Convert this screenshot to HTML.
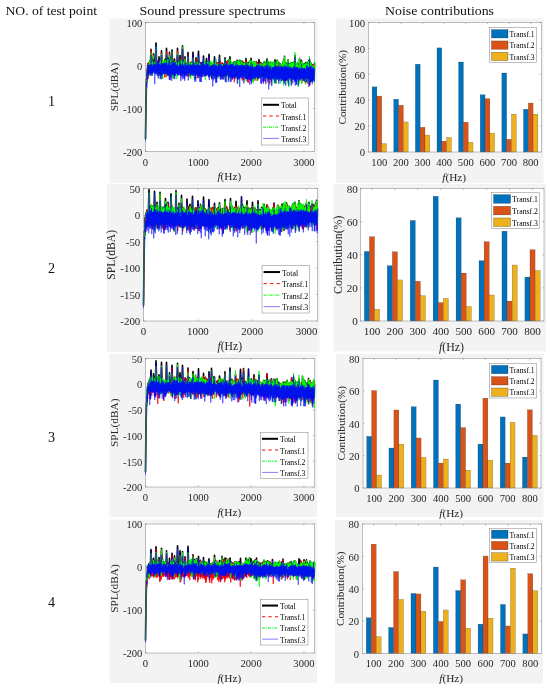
<!DOCTYPE html>
<html><head><meta charset="utf-8"><title>Figure</title>
<style>html,body{margin:0;padding:0;background:#fff}svg{display:block;will-change:transform}text{font-family:"Liberation Serif",serif}</style>
</head><body>
<svg width="550" height="692" viewBox="0 0 550 692">
<rect width="550" height="692" fill="#fff"/>
<g fill="#111" font-size="13.4">
<text x="5.5" y="14.8" textLength="91.5" lengthAdjust="spacingAndGlyphs">NO. of test point</text>
<text x="139.5" y="14.5" textLength="146" lengthAdjust="spacingAndGlyphs">Sound pressure spectrums</text>
<text x="385" y="14.5" textLength="109" lengthAdjust="spacingAndGlyphs">Noise contributions</text>
<text x="51.5" y="105.5" font-size="14.2" text-anchor="middle">1</text>
<text x="51.5" y="273.3" font-size="14.2" text-anchor="middle">2</text>
<text x="51.5" y="441.5" font-size="14.2" text-anchor="middle">3</text>
<text x="51.5" y="607" font-size="14.2" text-anchor="middle">4</text>
</g>
<g>
<rect x="109.5" y="18.5" width="208" height="164.5" fill="#f3f3f3"/>
<rect x="145.5" y="22.5" width="169" height="129" fill="#fff"/>
<rect x="145.5" y="22.5" width="169" height="129" fill="none" stroke="#808080" stroke-width="0.5"/>
<path d="M145.5 151.5v-1.7M145.5 22.5v1.7M198.31 151.5v-1.7M198.31 22.5v1.7M251.12 151.5v-1.7M251.12 22.5v1.7M303.94 151.5v-1.7M303.94 22.5v1.7M145.5 22.5h1.7M314.5 22.5h-1.7M145.5 65.5h1.7M314.5 65.5h-1.7M145.5 108.5h1.7M314.5 108.5h-1.7M145.5 151.5h1.7M314.5 151.5h-1.7" stroke="#808080" stroke-width="0.5" fill="none"/>
<g fill="none" stroke-linejoin="round">
<polyline points="145.5,139.0 145.75,118.2 146,98.7 146.25,93.8 146.5,79.4 146.75,82.1 147,70.7 147.25,75.6 147.5,67.0 147.75,72.8 148,63.5 148.25,72.7 148.5,63.0 148.75,71.9 149,63.2 149.25,71.1 149.5,62.3 149.75,71.2 150,61.0 150.25,71.6 150.5,65.1 150.75,54.1 151,49.2 151.25,56.7 151.5,65.2 151.75,70.9 152,62.7 152.25,70.8 152.5,62.3 152.75,69.1 153,62.4 153.25,58.9 153.5,53.9 153.75,57.6 154,61.7 154.25,69.5 154.5,62.8 154.75,69.4 155,63.9 155.25,69.4 155.5,64.1 155.75,47.4 156,43.1 156.25,47.5 156.5,63.7 156.75,70.2 157,62.0 157.25,70.4 157.5,63.3 157.75,70.5 158,61.3 158.25,70.5 158.5,61.3 158.75,64.6 159,56.9 159.25,62.3 159.5,62.8 159.75,71.4 160,60.8 160.25,71.7 160.5,62.1 160.75,71.7 161,60.1 161.25,57.2 161.5,50.9 161.75,56.5 162,60.0 162.25,71.9 162.5,61.9 162.75,72.0 163,61.6 163.25,71.5 163.5,63.8 163.75,70.4 164,62.5 164.25,71.4 164.5,62.3 164.75,69.8 165,59.3 165.25,70.2 165.5,62.0 165.75,71.1 166,62.3 166.25,55.6 166.5,48.3 166.75,53.1 167,63.5 167.25,72.3 167.5,62.2 167.75,72.6 168,58.5 168.25,71.4 168.5,64.4 168.75,72.6 169,63.0 169.25,59.2 169.5,52.2 169.75,56.7 170,58.2 170.25,71.5 170.5,63.4 170.75,73.7 171,59.5 171.25,73.7 171.5,63.1 171.75,56.7 172,50.0 172.25,55.2 172.5,61.1 172.75,74.0 173,63.4 173.25,73.4 173.5,62.1 173.75,74.4 174,62.0 174.25,63.7 174.5,59.0 174.75,63.1 175,63.3 175.25,72.2 175.5,62.2 175.75,70.2 176,62.2 176.25,71.2 176.5,63.0 176.75,70.8 177,63.7 177.25,56.0 177.5,48.3 177.75,55.7 178,63.7 178.25,70.3 178.5,64.0 178.75,70.3 179,63.1 179.25,70.4 179.5,62.9 179.75,60.7 180,55.6 180.25,62.0 180.5,62.3 180.75,71.5 181,59.5 181.25,70.9 181.5,59.8 181.75,71.5 182,62.5 182.25,50.0 182.5,45.7 182.75,50.8 183,61.0 183.25,70.9 183.5,62.6 183.75,71.7 184,61.5 184.25,72.4 184.5,63.4 184.75,62.7 185,56.9 185.25,61.7 185.5,65.0 185.75,72.0 186,63.8 186.25,71.8 186.5,65.1 186.75,70.9 187,65.4 187.25,71.9 187.5,63.8 187.75,58.1 188,52.6 188.25,58.1 188.5,65.0 188.75,71.0 189,65.2 189.25,72.9 189.5,64.2 189.75,70.0 190,64.7 190.25,71.7 190.5,62.9 190.75,72.1 191,63.5 191.25,71.6 191.5,63.1 191.75,70.5 192,61.8 192.25,70.9 192.5,63.4 192.75,58.2 193,52.2 193.25,58.6 193.5,63.7 193.75,71.4 194,62.7 194.25,71.1 194.5,62.8 194.75,73.4 195,65.3 195.25,73.0 195.5,63.4 195.75,61.8 196,57.8 196.25,62.4 196.5,62.9 196.75,71.7 197,62.1 197.25,71.8 197.5,62.7 197.75,72.6 198,64.0 198.25,55.4 198.5,51.3 198.75,57.5 199,63.2 199.25,71.6 199.5,62.5 199.75,74.5 200,63.5 200.25,72.3 200.5,62.9 200.75,73.0 201,63.4 201.25,71.8 201.5,63.3 201.75,71.3 202,63.0 202.25,72.1 202.5,62.4 202.75,72.9 203,63.4 203.25,63.0 203.5,56.0 203.75,61.2 204,63.1 204.25,72.3 204.5,61.7 204.75,71.7 205,62.1 205.25,73.2 205.5,62.2 205.75,74.0 206,61.9 206.25,65.4 206.5,58.6 206.75,62.8 207,62.6 207.25,73.2 207.5,63.3 207.75,72.1 208,61.3 208.25,73.1 208.5,64.1 208.75,58.9 209,54.3 209.25,58.8 209.5,63.5 209.75,74.3 210,65.9 210.25,72.8 210.5,62.6 210.75,74.5 211,65.4 211.25,72.4 211.5,63.4 211.75,73.2 212,64.2 212.25,74.7 212.5,65.1 212.75,73.7 213,63.9 213.25,73.0 213.5,62.4 213.75,72.8 214,63.3 214.25,63.0 214.5,56.9 214.75,60.9 215,63.8 215.25,75.3 215.5,59.3 215.75,72.6 216,62.3 216.25,74.1 216.5,65.0 216.75,72.3 217,65.7 217.25,73.1 217.5,64.2 217.75,73.0 218,63.1 218.25,73.0 218.5,63.9 218.75,72.7 219,64.6 219.25,59.5 219.5,55.2 219.75,59.9 220,61.5 220.25,74.0 220.5,62.3 220.75,75.3 221,63.9 221.25,74.7 221.5,63.6 221.75,73.9 222,64.8 222.25,75.5 222.5,63.2 222.75,73.9 223,64.8 223.25,73.4 223.5,65.1 223.75,73.0 224,64.5 224.25,74.6 224.5,65.3 224.75,64.2 225,57.8 225.25,64.4 225.5,65.6 225.75,74.7 226,64.4 226.25,74.0 226.5,62.3 226.75,73.8 227,63.9 227.25,74.1 227.5,60.9 227.75,71.8 228,62.3 228.25,74.0 228.5,63.0 228.75,73.4 229,59.5 229.25,73.9 229.5,62.5 229.75,62.7 230,56.9 230.25,61.0 230.5,61.8 230.75,73.1 231,64.1 231.25,75.5 231.5,63.9 231.75,74.8 232,62.9 232.25,74.6 232.5,62.8 232.75,75.5 233,63.3 233.25,75.8 233.5,63.5 233.75,74.7 234,62.0 234.25,75.5 234.5,63.6 234.75,74.9 235,61.5 235.25,74.3 235.5,63.2 235.75,74.3 236,61.7 236.25,74.1 236.5,66.1 236.75,73.6 237,60.2 237.25,76.6 237.5,63.3 237.75,75.7 238,61.9 238.25,75.4 238.5,60.6 238.75,76.4 239,62.5 239.25,73.1 239.5,63.2 239.75,74.0 240,60.4 240.25,72.8 240.5,64.0 240.75,75.1 241,62.8 241.25,73.1 241.5,61.7 241.75,74.7 242,61.1 242.25,74.4 242.5,65.3 242.75,73.3 243,62.0 243.25,75.9 243.5,65.6 243.75,73.2 244,63.0 244.25,73.2 244.5,63.7 244.75,76.0 245,63.7 245.25,74.2 245.5,64.9 245.75,65.6 246,58.6 246.25,62.2 246.5,62.9 246.75,76.1 247,63.1 247.25,75.5 247.5,62.6 247.75,75.5 248,62.8 248.25,75.7 248.5,64.2 248.75,76.9 249,64.5 249.25,76.4 249.5,61.5 249.75,76.1 250,60.7 250.25,74.7 250.5,64.1 250.75,64.5 251,58.2 251.25,63.8 251.5,67.3 251.75,74.6 252,64.7 252.25,74.2 252.5,63.6 252.75,75.5 253,63.6 253.25,76.7 253.5,61.8 253.75,75.9 254,64.2 254.25,75.0 254.5,61.5 254.75,75.5 255,62.5 255.25,78.0 255.5,62.9 255.75,75.9 256,64.0 256.25,74.7 256.5,62.1 256.75,74.8 257,64.1 257.25,74.4 257.5,64.4 257.75,74.1 258,63.1 258.25,76.5 258.5,65.9 258.75,64.7 259,59.5 259.25,65.4 259.5,64.3 259.75,75.0 260,62.3 260.25,73.5 260.5,62.8 260.75,75.0 261,62.9 261.25,76.1 261.5,66.3 261.75,74.9 262,63.8 262.25,74.8 262.5,64.9 262.75,74.4 263,65.5 263.25,74.5 263.5,64.2 263.75,75.8 264,62.0 264.25,76.4 264.5,64.6 264.75,76.0 265,62.1 265.25,75.7 265.5,64.9 265.75,76.8 266,62.9 266.25,74.8 266.5,64.0 266.75,62.6 267,59.0 267.25,65.7 267.5,61.7 267.75,75.1 268,61.7 268.25,78.1 268.5,65.8 268.75,76.7 269,66.3 269.25,76.3 269.5,62.8 269.75,76.8 270,62.3 270.25,77.5 270.5,64.7 270.75,76.1 271,65.2 271.25,76.9 271.5,64.5 271.75,77.8 272,63.0 272.25,76.7 272.5,66.0 272.75,74.9 273,65.1 273.25,75.2 273.5,63.5 273.75,74.8 274,64.2 274.25,75.7 274.5,62.7 274.75,67.0 275,59.9 275.25,63.5 275.5,64.1 275.75,75.7 276,64.4 276.25,78.3 276.5,66.0 276.75,76.1 277,60.4 277.25,76.3 277.5,60.9 277.75,76.2 278,63.9 278.25,76.1 278.5,65.1 278.75,76.3 279,62.5 279.25,76.1 279.5,65.9 279.75,76.0 280,65.6 280.25,76.3 280.5,64.0 280.75,75.6 281,67.1 281.25,76.0 281.5,68.2 281.75,76.5 282,67.4 282.25,77.3 282.5,65.2 282.75,76.1 283,62.4 283.25,77.5 283.5,60.4 283.75,77.9 284,61.7 284.25,77.2 284.5,56.3 284.75,76.7 285,62.8 285.25,78.2 285.5,63.5 285.75,76.4 286,62.7 286.25,77.9 286.5,64.7 286.75,77.1 287,65.3 287.25,76.2 287.5,62.7 287.75,64.8 288,59.8 288.25,67.2 288.5,63.9 288.75,75.3 289,63.8 289.25,76.4 289.5,64.5 289.75,76.1 290,66.4 290.25,75.5 290.5,63.0 290.75,75.8 291,65.0 291.25,80.1 291.5,64.3 291.75,76.4 292,62.8 292.25,76.4 292.5,64.6 292.75,76.3 293,64.6 293.25,76.2 293.5,62.6 293.75,75.6 294,62.1 294.25,77.2 294.5,63.2 294.75,63.3 295,55.6 295.25,62.7 295.5,64.9 295.75,75.6 296,64.1 296.25,78.7 296.5,64.7 296.75,75.5 297,63.5 297.25,75.0 297.5,63.5 297.75,76.4 298,67.5 298.25,79.3 298.5,66.4 298.75,78.0 299,64.5 299.25,79.3 299.5,58.5 299.75,76.0 300,63.2 300.25,75.7 300.5,65.0 300.75,76.9 301,60.5 301.25,64.6 301.5,60.3 301.75,64.4 302,66.2 302.25,75.6 302.5,64.5 302.75,76.9 303,65.7 303.25,77.3 303.5,66.4 303.75,78.8 304,63.9 304.25,76.8 304.5,64.2 304.75,78.0 305,67.3 305.25,77.4 305.5,62.9 305.75,76.6 306,63.8 306.25,76.3 306.5,64.5 306.75,76.6 307,62.8 307.25,76.7 307.5,65.8 307.75,77.4 308,65.8 308.25,76.5 308.5,61.1 308.75,76.7 309,63.7 309.25,63.6 309.5,59.5 309.75,62.9 310,61.6 310.25,79.5 310.5,64.6 310.75,78.1 311,63.4 311.25,77.9 311.5,66.8 311.75,79.0 312,67.2 312.25,78.3 312.5,65.6 312.75,77.9 313,64.8 313.25,77.9 313.5,66.3 313.75,77.5 314,65.7 314.25,78.5 314.5,62.7" stroke="#000" stroke-width="1.6"/>
<polyline points="145.5,139.9 145.75,119.0 146,99.6 146.25,97.1 146.5,79.1 146.75,83.1 147,69.3 147.25,78.9 147.5,66.8 147.75,73.6 148,63.3 148.25,78.7 148.5,63.5 148.75,72.8 149,62.2 149.25,73.3 149.5,63.7 149.75,72.8 150,63.5 150.25,72.4 150.5,65.1 150.75,71.8 151,50.2 151.25,75.3 151.5,63.9 151.75,73.7 152,64.1 152.25,71.7 152.5,62.6 152.75,72.6 153,62.8 153.25,71.7 153.5,54.6 153.75,70.4 154,62.5 154.25,70.4 154.5,62.5 154.75,70.4 155,62.0 155.25,70.5 155.5,63.5 155.75,72.5 156,47.0 156.25,70.3 156.5,62.9 156.75,71.0 157,61.6 157.25,71.3 157.5,62.6 157.75,71.9 158,62.3 158.25,71.4 158.5,60.9 158.75,75.5 159,60.8 159.25,73.9 159.5,62.0 159.75,72.2 160,60.4 160.25,72.5 160.5,62.3 160.75,72.5 161,63.1 161.25,72.5 161.5,52.5 161.75,72.7 162,62.2 162.25,78.7 162.5,64.1 162.75,72.8 163,63.0 163.25,73.2 163.5,64.1 163.75,71.3 164,64.3 164.25,72.3 164.5,62.0 164.75,77.6 165,61.4 165.25,71.2 165.5,63.7 165.75,72.0 166,60.4 166.25,77.2 166.5,50.9 166.75,72.3 167,63.7 167.25,74.8 167.5,63.9 167.75,75.8 168,63.1 168.25,72.2 168.5,63.2 168.75,73.5 169,63.1 169.25,73.5 169.5,53.2 169.75,74.5 170,57.8 170.25,73.5 170.5,62.3 170.75,76.3 171,62.0 171.25,77.8 171.5,63.5 171.75,75.5 172,52.3 172.25,74.7 172.5,64.2 172.75,74.9 173,63.8 173.25,77.7 173.5,62.7 173.75,78.7 174,63.1 174.25,71.9 174.5,60.7 174.75,71.2 175,63.0 175.25,73.0 175.5,64.1 175.75,74.5 176,62.0 176.25,72.0 176.5,63.9 176.75,71.6 177,62.4 177.25,71.5 177.5,50.5 177.75,72.1 178,63.7 178.25,71.2 178.5,62.5 178.75,71.2 179,64.6 179.25,71.2 179.5,62.4 179.75,71.6 180,58.2 180.25,71.9 180.5,61.3 180.75,75.0 181,62.0 181.25,71.7 181.5,58.1 181.75,73.0 182,64.4 182.25,74.9 182.5,51.1 182.75,72.1 183,64.6 183.25,72.0 183.5,63.7 183.75,73.0 184,62.8 184.25,73.3 184.5,63.6 184.75,74.3 185,58.4 185.25,75.1 185.5,64.1 185.75,72.8 186,64.9 186.25,72.9 186.5,63.7 186.75,74.9 187,64.9 187.25,74.8 187.5,62.9 187.75,72.2 188,55.1 188.25,76.3 188.5,63.2 188.75,74.3 189,63.8 189.25,76.2 189.5,65.0 189.75,70.9 190,63.6 190.25,77.6 190.5,63.3 190.75,73.0 191,63.8 191.25,72.4 191.5,62.0 191.75,71.4 192,61.0 192.25,71.7 192.5,63.8 192.75,72.8 193,57.4 193.25,73.5 193.5,65.2 193.75,72.3 194,64.6 194.25,72.0 194.5,62.0 194.75,75.7 195,65.0 195.25,75.5 195.5,63.3 195.75,79.0 196,58.5 196.25,73.3 196.5,62.9 196.75,73.6 197,63.6 197.25,72.7 197.5,61.2 197.75,73.8 198,63.5 198.25,78.2 198.5,57.2 198.75,72.7 199,63.1 199.25,72.4 199.5,63.0 199.75,75.3 200,63.1 200.25,73.3 200.5,62.7 200.75,73.8 201,63.2 201.25,76.8 201.5,63.8 201.75,72.1 202,62.5 202.25,77.1 202.5,62.5 202.75,73.7 203,62.1 203.25,73.6 203.5,60.8 203.75,74.6 204,63.1 204.25,73.1 204.5,63.1 204.75,75.2 205,62.9 205.25,74.0 205.5,62.9 205.75,74.8 206,65.1 206.25,75.8 206.5,61.2 206.75,74.6 207,63.0 207.25,74.1 207.5,65.2 207.75,73.0 208,64.8 208.25,73.9 208.5,66.1 208.75,76.3 209,57.7 209.25,75.6 209.5,65.7 209.75,76.8 210,65.1 210.25,75.6 210.5,65.4 210.75,76.1 211,64.4 211.25,73.3 211.5,64.3 211.75,79.3 212,67.2 212.25,75.6 212.5,65.3 212.75,74.6 213,65.9 213.25,74.0 213.5,64.2 213.75,73.7 214,64.4 214.25,73.4 214.5,62.4 214.75,77.6 215,63.5 215.25,76.3 215.5,64.2 215.75,74.6 216,62.3 216.25,74.9 216.5,64.1 216.75,75.8 217,64.1 217.25,74.7 217.5,62.6 217.75,73.8 218,62.7 218.25,73.9 218.5,63.4 218.75,75.8 219,64.0 219.25,74.3 219.5,59.3 219.75,74.0 220,61.4 220.25,76.6 220.5,62.2 220.75,76.2 221,63.2 221.25,75.6 221.5,63.2 221.75,74.8 222,63.4 222.25,78.9 222.5,62.7 222.75,74.8 223,63.5 223.25,74.5 223.5,65.9 223.75,77.8 224,62.9 224.25,77.1 224.5,65.4 224.75,75.4 225,63.1 225.25,74.0 225.5,65.0 225.75,76.1 226,64.5 226.25,74.8 226.5,61.8 226.75,76.0 227,63.2 227.25,75.0 227.5,60.0 227.75,72.6 228,60.9 228.25,74.9 228.5,63.0 228.75,74.3 229,63.5 229.25,78.0 229.5,61.8 229.75,76.2 230,62.8 230.25,75.4 230.5,65.5 230.75,74.0 231,66.1 231.25,76.4 231.5,63.7 231.75,76.3 232,62.0 232.25,79.7 232.5,63.9 232.75,76.4 233,64.4 233.25,77.3 233.5,63.7 233.75,76.9 234,62.3 234.25,82.2 234.5,65.5 234.75,75.7 235,65.9 235.25,75.2 235.5,62.9 235.75,76.9 236,62.9 236.25,74.9 236.5,65.2 236.75,74.5 237,62.0 237.25,77.4 237.5,63.6 237.75,76.5 238,65.1 238.25,78.6 238.5,62.0 238.75,77.3 239,65.3 239.25,74.0 239.5,64.5 239.75,78.7 240,65.4 240.25,73.7 240.5,64.4 240.75,75.9 241,64.3 241.25,74.0 241.5,64.6 241.75,75.6 242,63.2 242.25,80.5 242.5,64.7 242.75,75.9 243,61.5 243.25,80.2 243.5,65.4 243.75,75.2 244,62.4 244.25,74.1 244.5,64.3 244.75,76.8 245,63.0 245.25,76.2 245.5,63.7 245.75,75.2 246,60.5 246.25,77.5 246.5,62.3 246.75,77.3 247,63.7 247.25,82.0 247.5,62.9 247.75,76.3 248,62.9 248.25,82.8 248.5,63.7 248.75,78.5 249,64.7 249.25,77.4 249.5,62.7 249.75,79.5 250,65.3 250.25,79.8 250.5,66.4 250.75,76.2 251,62.0 251.25,77.3 251.5,66.7 251.75,75.6 252,63.3 252.25,75.0 252.5,63.8 252.75,76.3 253,63.5 253.25,77.6 253.5,63.9 253.75,81.1 254,64.7 254.25,75.9 254.5,63.0 254.75,76.3 255,63.1 255.25,80.4 255.5,63.5 255.75,78.4 256,64.0 256.25,77.6 256.5,61.9 256.75,75.7 257,64.5 257.25,76.9 257.5,63.3 257.75,80.7 258,63.2 258.25,77.4 258.5,64.6 258.75,79.1 259,64.2 259.25,76.6 259.5,64.5 259.75,75.8 260,62.1 260.25,74.4 260.5,62.7 260.75,78.0 261,63.9 261.25,76.9 261.5,64.9 261.75,75.9 262,64.1 262.25,75.6 262.5,67.2 262.75,75.3 263,67.2 263.25,75.5 263.5,66.7 263.75,82.3 264,63.5 264.25,77.2 264.5,64.8 264.75,76.9 265,63.4 265.25,76.6 265.5,64.7 265.75,81.7 266,65.8 266.25,75.6 266.5,63.4 266.75,75.8 267,63.5 267.25,76.9 267.5,63.3 267.75,75.9 268,65.8 268.25,78.9 268.5,64.7 268.75,77.6 269,65.1 269.25,78.0 269.5,65.7 269.75,84.3 270,65.7 270.25,80.1 270.5,62.8 270.75,77.0 271,64.5 271.25,77.8 271.5,64.7 271.75,78.7 272,65.9 272.25,77.9 272.5,66.4 272.75,77.4 273,68.5 273.25,76.1 273.5,65.0 273.75,75.6 274,63.1 274.25,76.5 274.5,61.5 274.75,77.4 275,65.1 275.25,78.3 275.5,62.2 275.75,76.7 276,64.0 276.25,79.1 276.5,64.1 276.75,77.0 277,65.3 277.25,77.1 277.5,62.5 277.75,77.1 278,64.3 278.25,77.0 278.5,64.0 278.75,81.3 279,66.8 279.25,76.9 279.5,64.8 279.75,76.9 280,65.9 280.25,77.2 280.5,67.7 280.75,76.5 281,67.7 281.25,77.4 281.5,68.7 281.75,77.4 282,66.7 282.25,78.6 282.5,65.3 282.75,77.0 283,63.2 283.25,78.3 283.5,63.2 283.75,78.7 284,62.4 284.25,78.1 284.5,65.1 284.75,81.4 285,61.7 285.25,81.4 285.5,63.9 285.75,77.4 286,64.8 286.25,80.8 286.5,65.1 286.75,78.9 287,64.7 287.25,77.2 287.5,64.4 287.75,77.4 288,60.3 288.25,77.5 288.5,63.7 288.75,76.1 289,64.7 289.25,77.9 289.5,64.9 289.75,77.0 290,66.6 290.25,76.4 290.5,67.4 290.75,76.9 291,64.7 291.25,80.9 291.5,67.8 291.75,78.8 292,68.8 292.25,77.3 292.5,66.4 292.75,77.5 293,64.4 293.25,77.1 293.5,66.9 293.75,76.5 294,66.0 294.25,78.1 294.5,63.5 294.75,77.6 295,56.8 295.25,76.7 295.5,64.4 295.75,76.5 296,64.1 296.25,80.7 296.5,64.5 296.75,76.3 297,66.1 297.25,77.3 297.5,65.6 297.75,77.2 298,67.2 298.25,80.2 298.5,65.6 298.75,78.8 299,67.1 299.25,80.8 299.5,67.4 299.75,77.8 300,66.3 300.25,76.5 300.5,65.7 300.75,79.3 301,66.5 301.25,76.3 301.5,63.2 301.75,83.0 302,64.8 302.25,77.2 302.5,66.1 302.75,81.4 303,64.1 303.25,79.1 303.5,67.2 303.75,79.6 304,66.3 304.25,77.7 304.5,70.0 304.75,78.9 305,66.8 305.25,83.4 305.5,65.9 305.75,77.5 306,67.9 306.25,77.2 306.5,67.6 306.75,77.4 307,66.3 307.25,78.0 307.5,64.8 307.75,83.6 308,67.2 308.25,77.4 308.5,67.0 308.75,77.6 309,69.0 309.25,79.9 309.5,58.6 309.75,85.5 310,67.1 310.25,82.8 310.5,65.9 310.75,79.0 311,67.5 311.25,78.8 311.5,67.0 311.75,81.6 312,66.5 312.25,79.7 312.5,65.9 312.75,78.7 313,64.2 313.25,78.8 313.5,64.5 313.75,79.8 314,66.1 314.25,79.4 314.5,65.5" stroke="#f00" stroke-width="0.8"/>
<polyline points="145.5,139.5 145.75,118.8 146,98.7 146.25,94.5 146.5,80.3 146.75,82.9 147,71.5 147.25,76.4 147.5,66.0 147.75,76.9 148,65.8 148.25,73.6 148.5,65.2 148.75,74.0 149,63.6 149.25,71.9 149.5,62.5 149.75,72.1 150,59.2 150.25,76.0 150.5,63.7 150.75,71.9 151,52.6 151.25,71.1 151.5,63.4 151.75,71.8 152,63.1 152.25,75.1 152.5,61.4 152.75,70.0 153,64.1 153.25,70.4 153.5,55.9 153.75,72.6 154,61.6 154.25,72.5 154.5,64.2 154.75,70.3 155,63.6 155.25,70.2 155.5,63.6 155.75,74.6 156,46.3 156.25,70.2 156.5,63.5 156.75,71.6 157,64.4 157.25,71.9 157.5,63.6 157.75,71.3 158,64.2 158.25,74.3 158.5,64.0 158.75,73.8 159,62.9 159.25,71.7 159.5,62.3 159.75,72.3 160,62.8 160.25,79.0 160.5,62.4 160.75,74.2 161,59.7 161.25,72.2 161.5,54.0 161.75,75.4 162,58.1 162.25,72.8 162.5,61.0 162.75,78.9 163,61.0 163.25,72.4 163.5,62.9 163.75,72.4 164,60.7 164.25,73.7 164.5,61.6 164.75,70.7 165,59.6 165.25,71.1 165.5,61.2 165.75,72.4 166,61.1 166.25,72.9 166.5,53.9 166.75,74.9 167,62.6 167.25,73.1 167.5,60.6 167.75,73.5 168,58.9 168.25,75.8 168.5,63.9 168.75,75.1 169,64.1 169.25,73.4 169.5,55.6 169.75,75.1 170,62.4 170.25,72.4 170.5,61.5 170.75,75.0 171,58.4 171.25,77.2 171.5,64.2 171.75,77.2 172,51.9 172.25,72.7 172.5,61.0 172.75,75.0 173,62.0 173.25,78.9 173.5,64.9 173.75,76.6 174,61.8 174.25,72.8 174.5,62.8 174.75,73.6 175,61.4 175.25,76.1 175.5,61.7 175.75,71.1 176,61.3 176.25,72.0 176.5,63.0 176.75,79.0 177,63.0 177.25,70.9 177.5,53.5 177.75,70.8 178,61.9 178.25,71.4 178.5,62.3 178.75,71.2 179,63.2 179.25,72.4 179.5,64.7 179.75,72.6 180,60.1 180.25,71.7 180.5,63.9 180.75,72.4 181,59.6 181.25,72.0 181.5,61.0 181.75,72.4 182,62.6 182.25,72.9 182.5,46.6 182.75,73.2 183,61.3 183.25,71.8 183.5,62.7 183.75,72.6 184,61.6 184.25,76.3 184.5,64.0 184.75,73.1 185,58.8 185.25,76.1 185.5,63.5 185.75,73.7 186,63.5 186.25,72.6 186.5,64.7 186.75,71.7 187,64.2 187.25,72.8 187.5,62.2 187.75,73.6 188,56.8 188.25,73.0 188.5,64.2 188.75,71.9 189,63.6 189.25,75.2 189.5,62.7 189.75,72.1 190,63.3 190.25,72.6 190.5,63.5 190.75,78.8 191,63.4 191.25,73.1 191.5,63.1 191.75,75.7 192,61.8 192.25,72.7 192.5,63.8 192.75,71.9 193,57.7 193.25,72.3 193.5,63.5 193.75,75.9 194,63.1 194.25,79.7 194.5,62.1 194.75,74.2 195,64.6 195.25,73.8 195.5,63.4 195.75,73.0 196,61.1 196.25,75.3 196.5,63.6 196.75,72.5 197,62.1 197.25,73.5 197.5,64.1 197.75,73.5 198,63.2 198.25,73.3 198.5,57.0 198.75,74.9 199,62.7 199.25,72.7 199.5,62.7 199.75,76.2 200,64.7 200.25,73.2 200.5,63.9 200.75,74.0 201,64.6 201.25,72.6 201.5,64.9 201.75,73.4 202,64.3 202.25,72.9 202.5,63.3 202.75,74.9 203,62.6 203.25,72.2 203.5,59.7 203.75,72.5 204,63.2 204.25,74.7 204.5,60.6 204.75,72.5 205,61.7 205.25,79.6 205.5,62.1 205.75,75.2 206,63.9 206.25,73.5 206.5,63.5 206.75,74.3 207,61.9 207.25,75.2 207.5,62.4 207.75,73.0 208,60.8 208.25,75.4 208.5,64.6 208.75,76.3 209,60.6 209.25,74.8 209.5,62.9 209.75,75.4 210,64.4 210.25,73.6 210.5,61.4 210.75,76.3 211,64.4 211.25,73.4 211.5,61.4 211.75,74.0 212,63.6 212.25,76.5 212.5,63.9 212.75,78.3 213,63.0 213.25,73.8 213.5,61.6 213.75,77.0 214,62.6 214.25,73.6 214.5,63.1 214.75,74.5 215,65.1 215.25,78.6 215.5,58.5 215.75,73.5 216,64.1 216.25,78.8 216.5,63.8 216.75,73.2 217,65.5 217.25,73.9 217.5,63.8 217.75,75.0 218,65.8 218.25,78.6 218.5,64.9 218.75,73.6 219,65.4 219.25,74.7 219.5,57.6 219.75,74.6 220,62.4 220.25,74.9 220.5,64.9 220.75,76.8 221,64.4 221.25,76.3 221.5,67.1 221.75,74.9 222,64.1 222.25,77.6 222.5,64.2 222.75,74.8 223,67.9 223.25,74.3 223.5,65.1 223.75,73.8 224,64.7 224.25,75.4 224.5,64.1 224.75,73.6 225,58.9 225.25,80.4 225.5,66.1 225.75,76.9 226,65.3 226.25,74.9 226.5,65.4 226.75,74.7 227,64.8 227.25,76.6 227.5,62.9 227.75,73.3 228,65.5 228.25,75.0 228.5,65.4 228.75,80.2 229,58.9 229.25,74.8 229.5,63.7 229.75,74.0 230,59.3 230.25,73.4 230.5,61.8 230.75,74.8 231,62.2 231.25,77.3 231.5,62.5 231.75,75.7 232,63.0 232.25,75.4 232.5,62.4 232.75,76.9 233,63.2 233.25,76.6 233.5,64.8 233.75,75.6 234,62.1 234.25,76.3 234.5,63.9 234.75,76.0 235,61.3 235.25,77.4 235.5,61.9 235.75,75.1 236,61.0 236.25,76.4 236.5,64.5 236.75,79.0 237,60.5 237.25,77.5 237.5,64.7 237.75,83.1 238,61.5 238.25,76.2 238.5,59.9 238.75,77.9 239,60.9 239.25,75.7 239.5,61.8 239.75,74.9 240,60.5 240.25,77.1 240.5,63.8 240.75,77.0 241,62.9 241.25,74.2 241.5,61.0 241.75,76.2 242,61.6 242.25,75.3 242.5,65.1 242.75,74.1 243,63.2 243.25,76.8 243.5,65.1 243.75,74.1 244,63.3 244.25,79.1 244.5,63.8 244.75,81.5 245,62.6 245.25,75.1 245.5,65.9 245.75,74.9 246,62.7 246.25,75.3 246.5,66.1 246.75,77.0 247,62.2 247.25,76.4 247.5,64.1 247.75,77.7 248,64.9 248.25,76.5 248.5,63.5 248.75,77.7 249,65.5 249.25,77.3 249.5,60.4 249.75,77.0 250,60.5 250.25,75.6 250.5,63.2 250.75,77.9 251,60.1 251.25,75.3 251.5,66.4 251.75,75.5 252,64.3 252.25,81.2 252.5,66.3 252.75,76.8 253,62.4 253.25,83.3 253.5,61.2 253.75,76.8 254,63.2 254.25,78.0 254.5,61.3 254.75,77.7 255,62.7 255.25,79.7 255.5,61.9 255.75,77.7 256,65.8 256.25,75.5 256.5,63.7 256.75,81.0 257,66.9 257.25,75.2 257.5,66.6 257.75,75.0 258,63.9 258.25,77.8 258.5,64.0 258.75,76.0 259,63.2 259.25,76.6 259.5,66.6 259.75,77.9 260,66.3 260.25,77.3 260.5,64.9 260.75,75.9 261,63.2 261.25,77.3 261.5,67.5 261.75,75.7 262,65.6 262.25,76.0 262.5,63.8 262.75,77.0 263,65.5 263.25,75.4 263.5,64.6 263.75,76.6 264,62.3 264.25,79.2 264.5,65.3 264.75,78.0 265,60.9 265.25,76.7 265.5,65.3 265.75,77.6 266,62.7 266.25,79.3 266.5,62.4 266.75,76.2 267,61.6 267.25,77.7 267.5,60.3 267.75,77.1 268,60.7 268.25,78.9 268.5,65.8 268.75,77.5 269,65.4 269.25,77.1 269.5,62.2 269.75,77.6 270,62.3 270.25,79.0 270.5,64.5 270.75,77.0 271,65.1 271.25,78.4 271.5,63.2 271.75,84.4 272,61.1 272.25,77.6 272.5,65.3 272.75,75.8 273,63.3 273.25,77.8 273.5,61.6 273.75,78.7 274,66.3 274.25,83.1 274.5,62.3 274.75,83.4 275,63.1 275.25,76.4 275.5,62.4 275.75,76.6 276,66.0 276.25,83.4 276.5,66.2 276.75,77.1 277,59.7 277.25,79.9 277.5,61.1 277.75,77.4 278,65.6 278.25,80.2 278.5,65.1 278.75,77.2 279,62.0 279.25,78.7 279.5,67.2 279.75,77.0 280,67.5 280.25,83.5 280.5,64.3 280.75,77.5 281,66.8 281.25,76.9 281.5,66.8 281.75,78.2 282,66.9 282.25,78.2 282.5,64.3 282.75,80.8 283,61.8 283.25,80.6 283.5,60.1 283.75,85.7 284,61.2 284.25,78.1 284.5,56.4 284.75,77.6 285,65.4 285.25,79.1 285.5,63.4 285.75,77.3 286,62.1 286.25,78.8 286.5,64.7 286.75,77.9 287,66.2 287.25,77.0 287.5,61.6 287.75,83.6 288,58.9 288.25,82.2 288.5,65.1 288.75,86.8 289,63.9 289.25,77.3 289.5,63.8 289.75,78.2 290,65.0 290.25,76.5 290.5,62.5 290.75,76.6 291,66.8 291.25,84.3 291.5,62.8 291.75,77.3 292,62.7 292.25,77.7 292.5,63.2 292.75,77.1 293,67.0 293.25,78.8 293.5,61.1 293.75,76.5 294,62.4 294.25,79.1 294.5,63.8 294.75,77.8 295,52.2 295.25,76.3 295.5,63.0 295.75,80.6 296,62.6 296.25,79.5 296.5,65.8 296.75,77.6 297,62.9 297.25,75.9 297.5,61.7 297.75,78.4 298,67.1 298.25,86.9 298.5,67.9 298.75,83.5 299,64.4 299.25,83.5 299.5,58.1 299.75,76.9 300,63.7 300.25,79.5 300.5,65.4 300.75,77.8 301,60.6 301.25,81.5 301.5,62.5 301.75,83.9 302,68.3 302.25,76.4 302.5,63.1 302.75,77.7 303,69.5 303.25,78.2 303.5,65.0 303.75,80.1 304,63.7 304.25,80.2 304.5,64.0 304.75,79.8 305,69.3 305.25,78.2 305.5,63.1 305.75,84.4 306,63.9 306.25,79.8 306.5,64.7 306.75,81.9 307,61.2 307.25,77.6 307.5,64.4 307.75,78.3 308,65.0 308.25,81.3 308.5,61.0 308.75,81.7 309,63.6 309.25,79.0 309.5,56.0 309.75,82.9 310,61.1 310.25,80.4 310.5,63.1 310.75,79.0 311,63.4 311.25,79.7 311.5,67.7 311.75,79.9 312,66.5 312.25,79.2 312.5,66.0 312.75,79.4 313,65.7 313.25,79.9 313.5,65.5 313.75,78.4 314,67.7 314.25,82.1 314.5,61.2" stroke="#0f0" stroke-width="0.8"/>
<polyline points="145.5,141.2 145.75,122.4 146,100.8 146.25,95.3 146.5,82.2 146.75,86.9 147,72.3 147.25,80.0 147.5,66.4 147.75,75.7 148,65.2 148.25,74.4 148.5,64.8 148.75,76.4 149,64.8 149.25,74.3 149.5,65.5 149.75,73.4 150,64.4 150.25,73.3 150.5,65.8 150.75,75.8 151,54.9 151.25,73.9 151.5,64.1 151.75,73.6 152,64.3 152.25,76.0 152.5,65.9 152.75,73.6 153,65.2 153.25,71.9 153.5,59.4 153.75,71.8 154,64.0 154.25,73.4 154.5,64.1 154.75,84.2 155,64.4 155.25,72.5 155.5,65.3 155.75,74.3 156,43.8 156.25,73.6 156.5,63.6 156.75,73.2 157,64.3 157.25,76.0 157.5,61.5 157.75,75.4 158,60.5 158.25,78.6 158.5,64.0 158.75,73.7 159,59.2 159.25,74.0 159.5,63.9 159.75,75.7 160,65.1 160.25,78.6 160.5,64.7 160.75,74.9 161,63.1 161.25,79.4 161.5,55.0 161.75,76.2 162,62.9 162.25,75.0 162.5,64.1 162.75,73.3 163,63.4 163.25,73.9 163.5,63.0 163.75,74.0 164,63.5 164.25,73.1 164.5,62.9 164.75,74.6 165,62.3 165.25,73.1 165.5,63.6 165.75,74.4 166,63.1 166.25,73.6 166.5,54.5 166.75,73.5 167,62.9 167.25,74.6 167.5,65.2 167.75,74.9 168,65.3 168.25,76.1 168.5,63.8 168.75,74.5 169,61.2 169.25,79.6 169.5,58.7 169.75,79.9 170,65.3 170.25,80.2 170.5,65.0 170.75,74.6 171,62.1 171.25,74.5 171.5,65.0 171.75,80.8 172,52.8 172.25,74.1 172.5,64.2 172.75,75.4 173,62.3 173.25,74.3 173.5,62.0 173.75,75.2 174,64.4 174.25,77.4 174.5,62.2 174.75,79.2 175,63.5 175.25,75.6 175.5,62.2 175.75,74.0 176,66.5 176.25,72.9 176.5,64.6 176.75,74.0 177,65.1 177.25,74.4 177.5,54.9 177.75,76.0 178,66.0 178.25,75.3 178.5,65.9 178.75,75.0 179,66.2 179.25,74.7 179.5,63.4 179.75,74.0 180,57.5 180.25,75.5 180.5,63.7 180.75,81.0 181,64.8 181.25,76.5 181.5,64.7 181.75,74.7 182,64.4 182.25,79.3 182.5,48.9 182.75,76.8 183,65.4 183.25,74.1 183.5,65.4 183.75,78.5 184,64.2 184.25,79.1 184.5,67.2 184.75,80.8 185,62.5 185.25,75.6 185.5,63.4 185.75,74.5 186,64.6 186.25,76.8 186.5,65.6 186.75,73.4 187,66.1 187.25,76.2 187.5,64.4 187.75,73.4 188,55.9 188.25,80.4 188.5,66.0 188.75,73.5 189,64.3 189.25,73.7 189.5,65.3 189.75,72.5 190,64.6 190.25,75.8 190.5,65.1 190.75,74.6 191,64.3 191.25,75.0 191.5,65.2 191.75,73.2 192,65.8 192.25,75.7 192.5,64.1 192.75,75.3 193,53.5 193.25,75.7 193.5,64.8 193.75,74.2 194,62.6 194.25,73.9 194.5,64.9 194.75,81.5 195,65.4 195.25,74.7 195.5,65.1 195.75,81.6 196,59.8 196.25,74.7 196.5,65.6 196.75,74.2 197,65.3 197.25,75.9 197.5,65.0 197.75,78.0 198,63.8 198.25,75.0 198.5,53.5 198.75,77.7 199,65.2 199.25,75.9 199.5,66.0 199.75,81.9 200,65.0 200.25,75.8 200.5,65.9 200.75,82.1 201,62.6 201.25,81.8 201.5,63.4 201.75,74.2 202,62.5 202.25,76.7 202.5,61.6 202.75,74.1 203,64.1 203.25,74.2 203.5,57.0 203.75,76.8 204,65.5 204.25,74.9 204.5,63.9 204.75,76.7 205,66.7 205.25,76.0 205.5,65.3 205.75,76.1 206,61.9 206.25,75.5 206.5,59.8 206.75,75.1 207,63.6 207.25,75.1 207.5,63.8 207.75,74.6 208,64.4 208.25,76.2 208.5,66.5 208.75,77.6 209,55.2 209.25,80.1 209.5,66.9 209.75,75.1 210,66.7 210.25,75.7 210.5,66.6 210.75,75.3 211,65.1 211.25,78.3 211.5,65.2 211.75,78.7 212,65.1 212.25,75.5 212.5,64.8 212.75,86.5 213,65.9 213.25,75.5 213.5,64.0 213.75,80.4 214,65.1 214.25,75.7 214.5,57.6 214.75,78.8 215,66.2 215.25,76.1 215.5,64.7 215.75,82.8 216,65.1 216.25,82.6 216.5,65.2 216.75,82.6 217,67.1 217.25,77.7 217.5,67.1 217.75,76.9 218,64.3 218.25,75.4 218.5,64.6 218.75,76.0 219,65.8 219.25,76.5 219.5,57.7 219.75,75.9 220,66.6 220.25,79.6 220.5,63.5 220.75,78.7 221,64.2 221.25,79.8 221.5,66.1 221.75,77.6 222,66.3 222.25,76.3 222.5,65.7 222.75,79.4 223,66.9 223.25,75.9 223.5,64.5 223.75,79.8 224,64.8 224.25,76.4 224.5,65.0 224.75,75.6 225,59.6 225.25,81.8 225.5,65.1 225.75,75.5 226,64.1 226.25,82.5 226.5,65.3 226.75,76.0 227,62.6 227.25,75.0 227.5,65.5 227.75,74.1 228,64.4 228.25,81.8 228.5,65.5 228.75,78.4 229,66.0 229.25,76.6 229.5,64.9 229.75,75.2 230,61.8 230.25,82.2 230.5,64.5 230.75,78.0 231,64.0 231.25,81.5 231.5,64.0 231.75,78.0 232,65.1 232.25,78.6 232.5,63.8 232.75,78.8 233,66.2 233.25,76.9 233.5,63.7 233.75,77.6 234,66.0 234.25,77.8 234.5,66.2 234.75,77.3 235,65.3 235.25,79.2 235.5,65.8 235.75,77.2 236,62.1 236.25,76.6 236.5,65.9 236.75,76.7 237,65.2 237.25,83.9 237.5,64.4 237.75,79.5 238,66.2 238.25,79.8 238.5,65.1 238.75,78.5 239,67.1 239.25,78.1 239.5,65.1 239.75,87.0 240,65.5 240.25,77.1 240.5,65.0 240.75,76.7 241,65.4 241.25,78.4 241.5,63.7 241.75,78.0 242,67.0 242.25,77.5 242.5,65.1 242.75,75.9 243,65.3 243.25,77.0 243.5,65.0 243.75,83.5 244,65.1 244.25,76.1 244.5,65.1 244.75,77.5 245,67.5 245.25,79.1 245.5,65.9 245.75,78.9 246,62.3 246.25,79.2 246.5,64.8 246.75,79.1 247,65.7 247.25,80.5 247.5,64.4 247.75,79.0 248,64.9 248.25,77.7 248.5,65.8 248.75,79.8 249,65.2 249.25,78.2 249.5,67.2 249.75,84.7 250,66.6 250.25,78.9 250.5,66.5 250.75,81.0 251,63.2 251.25,84.1 251.5,66.2 251.75,82.4 252,67.0 252.25,78.9 252.5,64.0 252.75,79.1 253,68.0 253.25,78.2 253.5,67.5 253.75,79.3 254,67.1 254.25,77.5 254.5,66.8 254.75,78.0 255,66.7 255.25,78.8 255.5,67.2 255.75,76.7 256,66.7 256.25,77.2 256.5,65.4 256.75,76.8 257,64.6 257.25,78.0 257.5,65.3 257.75,79.0 258,67.8 258.25,78.9 258.5,65.7 258.75,78.1 259,62.7 259.25,76.2 259.5,67.5 259.75,77.6 260,65.8 260.25,77.7 260.5,66.5 260.75,83.0 261,67.7 261.25,84.1 261.5,65.9 261.75,76.2 262,65.7 262.25,81.8 262.5,65.4 262.75,76.5 263,67.6 263.25,83.8 263.5,66.8 263.75,80.6 264,66.8 264.25,80.9 264.5,68.4 264.75,77.6 265,65.6 265.25,77.7 265.5,65.8 265.75,84.2 266,67.7 266.25,77.4 266.5,65.6 266.75,77.7 267,61.4 267.25,78.2 267.5,65.2 267.75,82.4 268,68.5 268.25,80.3 268.5,66.4 268.75,89.4 269,65.1 269.25,79.1 269.5,67.6 269.75,78.5 270,67.6 270.25,78.4 270.5,66.0 270.75,79.2 271,69.0 271.25,82.0 271.5,70.1 271.75,86.1 272,66.8 272.25,78.2 272.5,67.5 272.75,79.0 273,67.0 273.25,80.2 273.5,67.1 273.75,77.7 274,67.4 274.25,78.1 274.5,65.9 274.75,82.5 275,62.2 275.25,78.3 275.5,65.8 275.75,83.5 276,66.6 276.25,80.1 276.5,66.5 276.75,78.3 277,66.4 277.25,79.3 277.5,66.0 277.75,79.0 278,66.3 278.25,79.2 278.5,65.3 278.75,83.7 279,67.8 279.25,80.4 279.5,67.6 279.75,78.4 280,65.7 280.25,78.1 280.5,67.3 280.75,79.4 281,66.6 281.25,81.5 281.5,67.0 281.75,80.9 282,66.7 282.25,79.8 282.5,67.4 282.75,79.4 283,66.3 283.25,80.3 283.5,67.4 283.75,81.8 284,66.4 284.25,83.8 284.5,67.5 284.75,80.2 285,64.7 285.25,79.7 285.5,66.4 285.75,85.6 286,66.3 286.25,80.3 286.5,66.6 286.75,79.7 287,67.6 287.25,80.7 287.5,66.9 287.75,79.5 288,62.6 288.25,78.0 288.5,68.9 288.75,85.5 289,66.6 289.25,78.1 289.5,66.7 289.75,79.4 290,67.2 290.25,77.9 290.5,67.7 290.75,78.3 291,68.6 291.25,85.8 291.5,68.4 291.75,81.8 292,67.2 292.25,79.1 292.5,68.3 292.75,83.7 293,69.2 293.25,79.4 293.5,66.7 293.75,79.9 294,67.0 294.25,80.4 294.5,66.3 294.75,82.0 295,57.0 295.25,85.7 295.5,67.6 295.75,82.0 296,67.2 296.25,83.9 296.5,67.1 296.75,85.0 297,67.5 297.25,78.9 297.5,67.3 297.75,77.8 298,67.7 298.25,85.5 298.5,69.1 298.75,81.3 299,68.1 299.25,80.1 299.5,69.3 299.75,78.8 300,67.5 300.25,78.1 300.5,68.9 300.75,80.4 301,68.5 301.25,78.9 301.5,63.9 301.75,78.5 302,69.9 302.25,79.2 302.5,68.4 302.75,78.7 303,68.0 303.25,80.9 303.5,68.4 303.75,80.2 304,68.5 304.25,80.8 304.5,68.4 304.75,81.8 305,67.9 305.25,78.3 305.5,69.3 305.75,78.8 306,69.6 306.25,82.5 306.5,65.0 306.75,82.0 307,68.4 307.25,78.5 307.5,65.9 307.75,79.0 308,67.8 308.25,79.2 308.5,67.1 308.75,86.9 309,67.8 309.25,80.2 309.5,58.7 309.75,85.3 310,66.8 310.25,82.5 310.5,66.7 310.75,81.5 311,66.0 311.25,81.7 311.5,68.9 311.75,81.2 312,67.5 312.25,84.2 312.5,68.8 312.75,82.0 313,67.0 313.25,80.6 313.5,67.6 313.75,80.2 314,68.2 314.25,81.6 314.5,69.0" stroke="#00f" stroke-width="0.52"/>
</g>
<text x="142.3" y="26.75" font-size="10.6" text-anchor="end" fill="#262626">100</text>
<text x="142.3" y="69.75" font-size="10.6" text-anchor="end" fill="#262626">0</text>
<text x="142.3" y="112.75" font-size="10.6" text-anchor="end" fill="#262626">-100</text>
<text x="142.3" y="155.75" font-size="10.6" text-anchor="end" fill="#262626">-200</text>
<text x="145.5" y="165.5" font-size="10.6" text-anchor="middle" fill="#262626">0</text>
<text x="198.31" y="165.5" font-size="10.6" text-anchor="middle" fill="#262626">1000</text>
<text x="251.12" y="165.5" font-size="10.6" text-anchor="middle" fill="#262626">2000</text>
<text x="303.94" y="165.5" font-size="10.6" text-anchor="middle" fill="#262626">3000</text>
<text x="229.3" y="180" font-size="11.3" text-anchor="middle" fill="#262626"><tspan font-style="italic">f</tspan>(Hz)</text>
<text x="118" y="87" font-size="11.3" text-anchor="middle" fill="#262626" transform="rotate(-90 118 87)">SPL(dBA)</text>
<rect x="261.5" y="98.0" width="47" height="47" fill="#fff" stroke="#808080" stroke-width="0.5"/>
<path d="M263 104.8H279" stroke="#000" stroke-width="2"/>
<path d="M263 116H279" stroke="#f00" stroke-width="1" stroke-dasharray="3.2 3.3"/>
<path d="M263 127.2H279" stroke="#0f0" stroke-width="1" stroke-dasharray="3 1 1 1"/>
<path d="M263 138.4H279" stroke="#00f" stroke-width="0.5"/>
<text x="281" y="108.3" font-size="7.65" text-anchor="start" fill="#000">Total</text>
<text x="281" y="119.5" font-size="7.65" text-anchor="start" fill="#000">Transf.1</text>
<text x="281" y="130.7" font-size="7.65" text-anchor="start" fill="#000">Transf.2</text>
<text x="281" y="141.9" font-size="7.65" text-anchor="start" fill="#000">Transf.3</text>
</g>
<g>
<rect x="107.0" y="184.0" width="212.5" height="168" fill="#f3f3f3"/>
<rect x="143.5" y="188.5" width="174" height="132.5" fill="#fff"/>
<rect x="143.5" y="188.5" width="174" height="132.5" fill="none" stroke="#808080" stroke-width="0.5"/>
<path d="M143.5 321.0v-1.7M143.5 188.5v1.7M197.88 321.0v-1.7M197.88 188.5v1.7M252.25 321.0v-1.7M252.25 188.5v1.7M306.62 321.0v-1.7M306.62 188.5v1.7M143.5 188.5h1.7M317.5 188.5h-1.7M143.5 215h1.7M317.5 215h-1.7M143.5 241.5h1.7M317.5 241.5h-1.7M143.5 268h1.7M317.5 268h-1.7M143.5 294.5h1.7M317.5 294.5h-1.7M143.5 321h1.7M317.5 321h-1.7" stroke="#808080" stroke-width="0.5" fill="none"/>
<g fill="none" stroke-linejoin="round">
<polyline points="143.5,305.6 143.75,280.9 144,257.3 144.25,250.2 144.5,231.1 144.75,235.1 145,217.8 145.25,227.8 145.5,215.6 145.75,224.2 146,213.0 146.25,222.9 146.5,215.0 146.75,224.6 147,210.5 147.25,222.9 147.5,213.0 147.75,224.2 148,210.8 148.25,222.1 148.5,207.2 148.75,196.4 149,189.6 149.25,193.9 149.5,207.4 149.75,220.4 150,207.3 150.25,220.3 150.5,208.5 150.75,220.7 151,208.2 151.25,219.9 151.5,205.4 151.75,221.0 152,206.8 152.25,221.1 152.5,211.1 152.75,223.4 153,206.5 153.25,223.2 153.5,205.8 153.75,223.3 154,210.3 154.25,199.9 154.5,191.2 154.75,196.1 155,209.6 155.25,221.9 155.5,209.5 155.75,223.4 156,206.4 156.25,222.2 156.5,210.1 156.75,208.9 157,202.3 157.25,206.8 157.5,209.2 157.75,223.5 158,209.6 158.25,221.7 158.5,207.5 158.75,220.9 159,210.4 159.25,223.4 159.5,209.2 159.75,201.4 160,192.2 160.25,199.4 160.5,210.3 160.75,220.8 161,211.7 161.25,221.0 161.5,208.3 161.75,221.4 162,207.6 162.25,220.7 162.5,210.6 162.75,219.4 163,210.6 163.25,221.9 163.5,207.4 163.75,224.8 164,210.2 164.25,222.0 164.5,209.9 164.75,222.1 165,206.8 165.25,203.0 165.5,198.6 165.75,205.0 166,207.8 166.25,221.5 166.5,206.8 166.75,220.7 167,208.6 167.25,221.2 167.5,204.6 167.75,207.7 168,202.3 168.25,208.7 168.5,210.0 168.75,222.4 169,211.5 169.25,222.3 169.5,208.1 169.75,224.1 170,209.8 170.25,221.7 170.5,208.4 170.75,199.0 171,193.8 171.25,202.4 171.5,208.0 171.75,221.7 172,207.6 172.25,222.0 172.5,207.9 172.75,221.7 173,209.1 173.25,223.4 173.5,211.1 173.75,223.8 174,208.5 174.25,229.3 174.5,208.7 174.75,222.9 175,209.7 175.25,223.3 175.5,209.3 175.75,200.0 176,190.6 176.25,197.6 176.5,210.0 176.75,223.2 177,209.2 177.25,222.2 177.5,210.7 177.75,221.8 178,208.4 178.25,220.8 178.5,211.4 178.75,211.5 179,203.3 179.25,208.4 179.5,208.1 179.75,221.6 180,211.0 180.25,221.0 180.5,212.1 180.75,220.9 181,209.9 181.25,203.6 181.5,195.4 181.75,204.4 182,209.9 182.25,222.4 182.5,207.5 182.75,223.1 183,212.0 183.25,222.5 183.5,208.3 183.75,222.6 184,208.6 184.25,221.7 184.5,209.9 184.75,222.3 185,210.7 185.25,222.0 185.5,211.0 185.75,223.3 186,212.9 186.25,224.6 186.5,214.0 186.75,208.4 187,199.1 187.25,205.7 187.5,208.2 187.75,224.3 188,212.6 188.25,221.4 188.5,210.9 188.75,221.6 189,206.4 189.25,223.2 189.5,209.2 189.75,211.9 190,204.4 190.25,213.1 190.5,208.4 190.75,222.8 191,212.5 191.25,222.9 191.5,211.6 191.75,222.9 192,208.3 192.25,202.0 192.5,196.4 192.75,204.1 193,209.3 193.25,224.4 193.5,211.1 193.75,222.7 194,208.9 194.25,221.9 194.5,210.1 194.75,222.9 195,213.5 195.25,221.5 195.5,208.0 195.75,223.2 196,208.3 196.25,221.9 196.5,209.0 196.75,222.1 197,208.7 197.25,221.3 197.5,210.0 197.75,206.7 198,200.7 198.25,206.9 198.5,209.0 198.75,222.0 199,210.0 199.25,222.0 199.5,213.6 199.75,225.3 200,207.7 200.25,211.8 200.5,204.4 200.75,212.7 201,206.1 201.25,222.4 201.5,211.6 201.75,223.6 202,210.1 202.25,221.8 202.5,210.7 202.75,223.0 203,208.7 203.25,205.9 203.5,197.0 203.75,201.4 204,210.2 204.25,221.3 204.5,211.0 204.75,222.2 205,208.7 205.25,221.6 205.5,209.6 205.75,225.2 206,212.1 206.25,222.2 206.5,212.8 206.75,224.5 207,210.4 207.25,225.2 207.5,211.3 207.75,222.2 208,210.5 208.25,223.5 208.5,212.3 208.75,204.2 209,199.6 209.25,208.4 209.5,211.5 209.75,227.6 210,209.9 210.25,225.8 210.5,208.8 210.75,226.0 211,208.1 211.25,223.2 211.5,208.4 211.75,223.4 212,211.6 212.25,223.9 212.5,211.3 212.75,227.2 213,207.7 213.25,222.8 213.5,211.4 213.75,221.3 214,207.2 214.25,208.7 214.5,203.3 214.75,209.3 215,210.9 215.25,224.2 215.5,208.2 215.75,223.1 216,209.0 216.25,222.5 216.5,210.7 216.75,221.1 217,210.7 217.25,221.0 217.5,213.6 217.75,223.1 218,207.8 218.25,221.6 218.5,211.2 218.75,221.6 219,212.3 219.25,207.8 219.5,202.8 219.75,207.7 220,212.2 220.25,222.6 220.5,210.9 220.75,223.8 221,212.7 221.25,224.0 221.5,209.3 221.75,224.0 222,212.6 222.25,223.3 222.5,210.1 222.75,223.2 223,208.5 223.25,224.8 223.5,209.6 223.75,223.4 224,209.5 224.25,222.9 224.5,208.8 224.75,205.4 225,199.6 225.25,204.0 225.5,208.3 225.75,223.4 226,209.2 226.25,222.0 226.5,206.7 226.75,221.2 227,207.9 227.25,222.4 227.5,212.6 227.75,221.2 228,213.7 228.25,220.7 228.5,213.5 228.75,222.4 229,209.8 229.25,221.2 229.5,211.2 229.75,221.7 230,211.0 230.25,204.4 230.5,198.6 230.75,208.0 231,211.4 231.25,223.0 231.5,207.4 231.75,222.8 232,206.1 232.25,223.8 232.5,208.5 232.75,223.9 233,208.8 233.25,226.9 233.5,211.1 233.75,224.3 234,208.5 234.25,224.2 234.5,208.8 234.75,227.8 235,207.2 235.25,223.8 235.5,212.6 235.75,206.9 236,201.2 236.25,205.7 236.5,211.7 236.75,224.0 237,212.1 237.25,225.4 237.5,211.7 237.75,222.7 238,209.5 238.25,223.2 238.5,206.8 238.75,224.8 239,213.9 239.25,223.3 239.5,212.4 239.75,223.5 240,211.5 240.25,223.7 240.5,208.6 240.75,222.1 241,209.8 241.25,205.7 241.5,196.7 241.75,204.5 242,209.8 242.25,222.2 242.5,204.8 242.75,224.4 243,207.7 243.25,222.7 243.5,211.3 243.75,221.6 244,207.4 244.25,221.9 244.5,212.2 244.75,222.2 245,211.1 245.25,222.3 245.5,209.7 245.75,222.9 246,207.2 246.25,222.1 246.5,210.8 246.75,205.4 247,200.7 247.25,208.5 247.5,207.0 247.75,225.2 248,209.6 248.25,223.7 248.5,212.6 248.75,223.0 249,208.4 249.25,223.2 249.5,212.1 249.75,223.3 250,209.5 250.25,224.2 250.5,213.7 250.75,223.7 251,208.2 251.25,223.0 251.5,209.2 251.75,226.1 252,209.1 252.25,206.9 252.5,202.3 252.75,207.3 253,208.6 253.25,224.1 253.5,209.4 253.75,224.2 254,209.7 254.25,224.8 254.5,210.2 254.75,224.2 255,208.3 255.25,224.5 255.5,211.4 255.75,225.3 256,209.7 256.25,225.2 256.5,213.2 256.75,224.1 257,210.6 257.25,223.9 257.5,212.3 257.75,209.0 258,200.7 258.25,206.3 258.5,213.3 258.75,223.3 259,211.0 259.25,224.5 259.5,211.5 259.75,223.6 260,209.7 260.25,222.0 260.5,215.6 260.75,224.8 261,212.1 261.25,223.7 261.5,207.5 261.75,222.7 262,211.5 262.25,222.8 262.5,207.0 262.75,212.1 263,207.2 263.25,216.8 263.5,211.7 263.75,223.7 264,204.2 264.25,223.7 264.5,207.0 264.75,224.5 265,211.2 265.25,224.0 265.5,207.7 265.75,224.0 266,210.7 266.25,225.9 266.5,210.4 266.75,226.1 267,205.1 267.25,225.0 267.5,208.4 267.75,225.2 268,211.9 268.25,224.8 268.5,207.4 268.75,224.1 269,210.9 269.25,224.8 269.5,210.1 269.75,223.8 270,212.5 270.25,224.2 270.5,211.4 270.75,223.3 271,212.3 271.25,222.2 271.5,211.2 271.75,225.5 272,213.1 272.25,222.5 272.5,212.1 272.75,225.1 273,207.7 273.25,226.0 273.5,215.4 273.75,209.4 274,203.1 274.25,210.1 274.5,211.3 274.75,222.2 275,210.8 275.25,224.1 275.5,209.8 275.75,224.8 276,213.2 276.25,224.7 276.5,210.8 276.75,223.7 277,212.7 277.25,224.3 277.5,205.8 277.75,224.0 278,205.3 278.25,226.2 278.5,211.6 278.75,225.4 279,207.2 279.25,224.3 279.5,209.9 279.75,223.2 280,211.2 280.25,226.0 280.5,209.5 280.75,225.8 281,209.7 281.25,226.6 281.5,205.6 281.75,223.4 282,204.1 282.25,224.2 282.5,211.2 282.75,222.4 283,209.4 283.25,223.1 283.5,204.2 283.75,227.2 284,209.4 284.25,224.5 284.5,204.7 284.75,213.5 285,205.5 285.25,210.1 285.5,210.9 285.75,225.1 286,209.3 286.25,225.5 286.5,202.9 286.75,223.7 287,207.2 287.25,226.2 287.5,205.2 287.75,222.2 288,207.7 288.25,223.1 288.5,207.0 288.75,222.6 289,209.1 289.25,221.0 289.5,207.3 289.75,220.7 290,211.4 290.25,220.0 290.5,210.0 290.75,221.3 291,212.2 291.25,225.1 291.5,207.1 291.75,220.8 292,208.8 292.25,223.4 292.5,204.5 292.75,222.0 293,209.2 293.25,221.3 293.5,203.2 293.75,223.6 294,204.1 294.25,221.8 294.5,207.0 294.75,222.9 295,202.3 295.25,223.7 295.5,207.5 295.75,220.6 296,209.5 296.25,223.1 296.5,210.3 296.75,220.4 297,207.5 297.25,220.8 297.5,205.8 297.75,221.0 298,204.4 298.25,220.7 298.5,205.2 298.75,221.1 299,200.8 299.25,220.3 299.5,210.1 299.75,222.5 300,205.2 300.25,220.7 300.5,203.7 300.75,221.4 301,204.7 301.25,219.9 301.5,205.8 301.75,219.6 302,207.3 302.25,220.8 302.5,208.1 302.75,220.6 303,206.2 303.25,222.0 303.5,205.4 303.75,221.8 304,206.2 304.25,222.1 304.5,209.8 304.75,222.3 305,208.1 305.25,220.7 305.5,206.9 305.75,223.2 306,203.8 306.25,211.9 306.5,203.3 306.75,209.5 307,207.6 307.25,221.2 307.5,206.8 307.75,219.8 308,208.9 308.25,220.7 308.5,207.7 308.75,221.6 309,202.4 309.25,218.9 309.5,205.1 309.75,219.9 310,209.2 310.25,220.7 310.5,208.9 310.75,218.3 311,206.6 311.25,220.7 311.5,209.1 311.75,210.0 312,204.4 312.25,209.2 312.5,208.1 312.75,221.2 313,204.4 313.25,221.5 313.5,210.6 313.75,218.8 314,205.9 314.25,220.9 314.5,211.1 314.75,219.8 315,206.5 315.25,219.6 315.5,203.4 315.75,221.9 316,210.4 316.25,219.4 316.5,200.4 316.75,221.5 317,207.1 317.25,221.6 317.5,208.4" stroke="#000" stroke-width="1.6"/>
<polyline points="143.5,306.7 143.75,282.0 144,257.6 144.25,252.3 144.5,233.3 144.75,236.2 145,217.3 145.25,228.9 145.5,215.4 145.75,231.8 146,212.4 146.25,223.9 146.5,213.0 146.75,225.6 147,209.0 147.25,225.5 147.5,210.8 147.75,225.3 148,210.7 148.25,223.2 148.5,211.8 148.75,223.1 149,194.3 149.25,223.1 149.5,208.4 149.75,223.1 150,209.4 150.25,221.3 150.5,212.7 150.75,225.7 151,207.8 151.25,220.9 151.5,208.5 151.75,226.1 152,209.3 152.25,223.1 152.5,210.8 152.75,229.6 153,208.5 153.25,224.2 153.5,208.5 153.75,224.3 154,209.5 154.25,224.3 154.5,194.9 154.75,229.2 155,210.8 155.25,222.9 155.5,210.3 155.75,224.4 156,206.9 156.25,223.3 156.5,210.7 156.75,227.6 157,206.9 157.25,226.4 157.5,208.3 157.75,228.5 158,209.6 158.25,222.8 158.5,214.2 158.75,221.9 159,212.9 159.25,224.4 159.5,214.2 159.75,227.2 160,195.6 160.25,221.9 160.5,212.1 160.75,225.0 161,213.2 161.25,222.1 161.5,212.9 161.75,225.3 162,209.6 162.25,224.0 162.5,209.9 162.75,228.8 163,208.9 163.25,224.4 163.5,213.3 163.75,230.4 164,211.7 164.25,224.1 164.5,210.3 164.75,229.6 165,211.0 165.25,228.5 165.5,203.4 165.75,221.8 166,211.9 166.25,222.6 166.5,210.6 166.75,221.9 167,213.2 167.25,222.2 167.5,212.5 167.75,222.6 168,204.5 168.25,223.6 168.5,208.6 168.75,224.7 169,210.2 169.25,226.3 169.5,210.5 169.75,226.4 170,209.4 170.25,223.3 170.5,209.2 170.75,225.6 171,199.6 171.25,222.5 171.5,207.0 171.75,223.3 172,211.3 172.25,223.4 172.5,205.6 172.75,222.8 173,209.4 173.25,225.5 173.5,210.2 173.75,225.4 174,209.4 174.25,231.7 174.5,211.0 174.75,224.5 175,210.1 175.25,224.4 175.5,209.5 175.75,224.1 176,196.3 176.25,226.5 176.5,209.2 176.75,224.3 177,211.4 177.25,226.1 177.5,208.6 177.75,231.0 178,207.4 178.25,222.4 178.5,210.5 178.75,227.1 179,210.7 179.25,225.1 179.5,212.8 179.75,224.9 180,209.9 180.25,222.1 180.5,211.7 180.75,222.0 181,209.1 181.25,222.0 181.5,201.7 181.75,222.9 182,209.3 182.25,227.5 182.5,211.4 182.75,231.3 183,210.1 183.25,223.6 183.5,207.3 183.75,223.6 184,210.5 184.25,227.8 184.5,211.5 184.75,223.4 185,209.3 185.25,223.7 185.5,210.2 185.75,225.3 186,211.8 186.25,227.4 186.5,214.2 186.75,223.1 187,204.5 187.25,222.4 187.5,207.9 187.75,229.1 188,210.7 188.25,230.9 188.5,211.8 188.75,222.7 189,206.3 189.25,224.3 189.5,209.8 189.75,223.0 190,211.4 190.25,223.4 190.5,208.8 190.75,223.9 191,213.1 191.25,224.0 191.5,209.6 191.75,226.7 192,210.5 192.25,226.0 192.5,199.6 192.75,226.4 193,212.8 193.25,225.5 193.5,213.2 193.75,224.0 194,210.7 194.25,226.7 194.5,209.7 194.75,229.2 195,211.2 195.25,226.0 195.5,207.7 195.75,228.8 196,207.1 196.25,222.9 196.5,208.7 196.75,223.1 197,207.4 197.25,222.4 197.5,210.3 197.75,225.6 198,205.7 198.25,223.8 198.5,209.1 198.75,231.1 199,208.1 199.25,224.0 199.5,212.5 199.75,228.7 200,208.0 200.25,228.9 200.5,206.0 200.75,226.2 201,209.4 201.25,228.9 201.5,212.4 201.75,224.6 202,211.7 202.25,222.8 202.5,208.3 202.75,224.1 203,211.6 203.25,223.2 203.5,202.3 203.75,223.7 204,209.7 204.25,222.4 204.5,211.2 204.75,225.3 205,210.8 205.25,227.4 205.5,209.5 205.75,226.2 206,209.9 206.25,226.9 206.5,212.7 206.75,226.0 207,212.1 207.25,226.4 207.5,210.2 207.75,223.3 208,209.3 208.25,224.8 208.5,211.9 208.75,224.5 209,207.9 209.25,224.6 209.5,211.9 209.75,229.1 210,208.6 210.25,226.9 210.5,208.5 210.75,227.9 211,208.7 211.25,224.2 211.5,207.9 211.75,227.7 212,212.3 212.25,227.4 212.5,213.3 212.75,228.2 213,206.6 213.25,224.0 213.5,211.7 213.75,222.3 214,206.9 214.25,222.1 214.5,206.7 214.75,222.3 215,209.1 215.25,225.3 215.5,210.9 215.75,224.8 216,208.0 216.25,224.2 216.5,209.0 216.75,223.2 217,211.2 217.25,222.1 217.5,211.3 217.75,225.1 218,212.5 218.25,223.1 218.5,212.8 218.75,223.9 219,211.3 219.25,222.8 219.5,205.8 219.75,229.0 220,214.1 220.25,225.7 220.5,210.8 220.75,225.2 221,213.7 221.25,229.6 221.5,212.8 221.75,227.9 222,211.5 222.25,224.4 222.5,212.1 222.75,224.2 223,209.6 223.25,232.8 223.5,208.7 223.75,224.4 224,208.8 224.25,223.9 224.5,208.6 224.75,224.3 225,203.2 225.25,225.2 225.5,208.7 225.75,225.1 226,210.6 226.25,224.6 226.5,206.6 226.75,225.7 227,207.6 227.25,223.4 227.5,212.3 227.75,222.2 228,212.4 228.25,223.5 228.5,211.5 228.75,223.5 229,209.1 229.25,222.2 229.5,214.3 229.75,230.2 230,210.6 230.25,226.0 230.5,205.1 230.75,224.4 231,211.0 231.25,224.1 231.5,209.4 231.75,223.9 232,209.3 232.25,224.9 232.5,209.4 232.75,225.2 233,207.4 233.25,227.9 233.5,209.7 233.75,225.4 234,207.9 234.25,225.4 234.5,210.6 234.75,230.5 235,207.6 235.25,227.1 235.5,210.9 235.75,228.7 236,205.8 236.25,231.5 236.5,210.7 236.75,225.0 237,212.4 237.25,226.4 237.5,212.7 237.75,223.8 238,207.2 238.25,229.1 238.5,212.2 238.75,227.9 239,213.1 239.25,224.4 239.5,210.6 239.75,225.6 240,211.0 240.25,224.7 240.5,210.7 240.75,223.2 241,210.1 241.25,225.7 241.5,203.9 241.75,223.7 242,213.2 242.25,223.3 242.5,210.3 242.75,229.0 243,208.8 243.25,223.7 243.5,210.7 243.75,223.1 244,209.1 244.25,223.0 244.5,210.7 244.75,223.5 245,213.3 245.25,223.3 245.5,212.6 245.75,224.0 246,210.2 246.25,223.1 246.5,210.2 246.75,223.3 247,208.3 247.25,224.6 247.5,205.2 247.75,230.9 248,209.6 248.25,224.8 248.5,212.9 248.75,224.1 249,212.1 249.25,230.0 249.5,210.1 249.75,229.4 250,211.1 250.25,225.6 250.5,211.4 250.75,225.0 251,211.7 251.25,225.6 251.5,206.8 251.75,232.8 252,207.7 252.25,226.2 252.5,208.5 252.75,227.1 253,207.3 253.25,225.1 253.5,208.0 253.75,225.3 254,209.8 254.25,227.3 254.5,209.0 254.75,226.6 255,210.2 255.25,225.6 255.5,211.9 255.75,226.3 256,210.8 256.25,228.4 256.5,213.9 256.75,225.2 257,213.6 257.25,228.0 257.5,212.2 257.75,227.4 258,207.7 258.25,226.5 258.5,215.8 258.75,224.3 259,212.8 259.25,225.5 259.5,215.0 259.75,224.6 260,213.6 260.25,226.5 260.5,214.8 260.75,226.3 261,212.4 261.25,225.6 261.5,210.6 261.75,223.7 262,214.0 262.25,226.6 262.5,211.5 262.75,228.9 263,211.6 263.25,225.0 263.5,213.0 263.75,228.4 264,212.1 264.25,224.8 264.5,213.1 264.75,225.5 265,210.1 265.25,225.3 265.5,210.6 265.75,228.3 266,210.7 266.25,226.9 266.5,210.6 266.75,227.1 267,204.4 267.25,230.7 267.5,212.2 267.75,226.9 268,211.9 268.25,225.8 268.5,209.4 268.75,225.1 269,209.3 269.25,225.8 269.5,211.9 269.75,224.8 270,213.3 270.25,225.3 270.5,215.8 270.75,224.4 271,212.2 271.25,223.7 271.5,213.9 271.75,230.7 272,212.9 272.25,223.6 272.5,210.4 272.75,226.2 273,213.5 273.25,227.0 273.5,213.8 273.75,223.1 274,203.3 274.25,222.6 274.5,211.0 274.75,223.3 275,212.0 275.25,225.2 275.5,213.8 275.75,228.7 276,215.1 276.25,229.6 276.5,214.6 276.75,224.7 277,214.4 277.25,226.2 277.5,212.5 277.75,225.1 278,213.4 278.25,227.3 278.5,211.4 278.75,227.3 279,208.7 279.25,225.4 279.5,212.0 279.75,225.0 280,210.7 280.25,227.0 280.5,213.1 280.75,231.8 281,210.9 281.25,227.6 281.5,214.4 281.75,231.7 282,209.0 282.25,225.3 282.5,212.7 282.75,226.4 283,208.1 283.25,224.7 283.5,210.2 283.75,230.7 284,209.3 284.25,225.6 284.5,207.8 284.75,224.5 285,203.6 285.25,225.9 285.5,209.0 285.75,226.2 286,210.5 286.25,229.3 286.5,211.6 286.75,226.6 287,205.1 287.25,227.3 287.5,204.9 287.75,227.2 288,211.6 288.25,224.1 288.5,211.0 288.75,223.6 289,206.9 289.25,222.2 289.5,210.1 289.75,224.7 290,210.7 290.25,221.5 290.5,208.2 290.75,222.4 291,210.2 291.25,227.7 291.5,207.2 291.75,221.9 292,208.3 292.25,224.5 292.5,208.4 292.75,229.4 293,208.8 293.25,222.4 293.5,204.0 293.75,224.6 294,207.4 294.25,222.8 294.5,206.8 294.75,223.9 295,204.3 295.25,224.9 295.5,207.1 295.75,221.7 296,207.3 296.25,226.1 296.5,209.2 296.75,221.5 297,207.2 297.25,222.3 297.5,209.8 297.75,222.8 298,208.3 298.25,221.8 298.5,209.4 298.75,222.2 299,209.4 299.25,230.8 299.5,209.5 299.75,223.6 300,209.9 300.25,225.7 300.5,210.0 300.75,222.4 301,208.6 301.25,221.3 301.5,208.1 301.75,220.7 302,206.1 302.25,229.1 302.5,208.5 302.75,227.2 303,208.9 303.25,229.5 303.5,205.3 303.75,223.2 304,206.5 304.25,227.5 304.5,210.8 304.75,223.4 305,209.7 305.25,221.8 305.5,207.3 305.75,224.2 306,209.2 306.25,221.7 306.5,201.8 306.75,222.5 307,205.5 307.25,222.2 307.5,206.8 307.75,220.9 308,209.3 308.25,221.7 308.5,208.9 308.75,222.9 309,210.0 309.25,221.1 309.5,209.8 309.75,220.9 310,209.3 310.25,221.8 310.5,207.2 310.75,222.0 311,206.8 311.25,221.7 311.5,209.6 311.75,220.2 312,204.5 312.25,223.2 312.5,208.5 312.75,222.4 313,204.6 313.25,223.4 313.5,209.5 313.75,219.9 314,207.5 314.25,221.9 314.5,211.1 314.75,221.3 315,210.0 315.25,220.6 315.5,209.0 315.75,225.7 316,208.9 316.25,220.4 316.5,206.9 316.75,222.6 317,206.4 317.25,230.0 317.5,211.2" stroke="#f00" stroke-width="0.8"/>
<polyline points="143.5,306.2 143.75,281.6 144,256.9 144.25,251.0 144.5,231.7 144.75,236.9 145,222.2 145.25,229.4 145.5,216.7 145.75,225.2 146,211.3 146.25,224.1 146.5,213.9 146.75,226.4 147,212.4 147.25,224.0 147.5,210.9 147.75,227.3 148,212.4 148.25,224.2 148.5,207.6 148.75,223.1 149,192.7 149.25,225.3 149.5,209.5 149.75,221.4 150,206.9 150.25,221.5 150.5,208.8 150.75,221.8 151,209.9 151.25,224.0 151.5,204.4 151.75,222.1 152,206.6 152.25,222.1 152.5,208.9 152.75,224.5 153,205.9 153.25,224.5 153.5,205.7 153.75,227.4 154,209.9 154.25,231.2 154.5,194.0 154.75,232.1 155,208.2 155.25,223.4 155.5,211.0 155.75,227.8 156,206.5 156.25,225.5 156.5,209.6 156.75,223.9 157,203.9 157.25,223.5 157.5,210.3 157.75,224.6 158,209.0 158.25,222.9 158.5,206.8 158.75,228.7 159,208.9 159.25,224.7 159.5,209.1 159.75,221.5 160,193.2 160.25,224.4 160.5,210.7 160.75,221.8 161,210.3 161.25,227.7 161.5,206.8 161.75,222.4 162,206.6 162.25,221.7 162.5,210.8 162.75,220.5 163,209.7 163.25,223.0 163.5,207.5 163.75,225.9 164,208.4 164.25,223.1 164.5,210.9 164.75,223.1 165,207.0 165.25,221.7 165.5,200.8 165.75,221.4 166,206.8 166.25,222.6 166.5,206.2 166.75,221.8 167,209.1 167.25,225.3 167.5,203.5 167.75,222.3 168,207.2 168.25,223.5 168.5,208.3 168.75,223.5 169,209.4 169.25,223.3 169.5,206.8 169.75,226.2 170,208.2 170.25,222.7 170.5,208.6 170.75,223.2 171,196.7 171.25,225.1 171.5,208.3 171.75,222.8 172,208.1 172.25,223.1 172.5,206.3 172.75,223.3 173,206.8 173.25,224.4 173.5,211.8 173.75,224.9 174,207.6 174.25,231.8 174.5,208.0 174.75,224.0 175,211.0 175.25,224.3 175.5,210.8 175.75,226.6 176,191.8 176.25,225.4 176.5,209.7 176.75,226.3 177,209.8 177.25,223.3 177.5,209.1 177.75,222.9 178,210.7 178.25,221.9 178.5,212.5 178.75,222.5 179,204.3 179.25,223.1 179.5,208.7 179.75,222.7 180,214.1 180.25,223.4 180.5,212.1 180.75,222.0 181,207.6 181.25,228.3 181.5,198.3 181.75,223.3 182,209.9 182.25,223.4 182.5,207.7 182.75,224.2 183,210.5 183.25,227.6 183.5,209.3 183.75,224.7 184,206.6 184.25,222.8 184.5,208.2 184.75,227.3 185,212.9 185.25,223.1 185.5,211.3 185.75,224.4 186,210.6 186.25,230.4 186.5,212.0 186.75,222.0 187,206.6 187.25,222.2 187.5,210.3 187.75,225.3 188,212.2 188.25,222.5 188.5,210.2 188.75,222.7 189,210.6 189.25,225.1 189.5,212.7 189.75,222.6 190,206.2 190.25,232.9 190.5,207.3 190.75,223.9 191,210.7 191.25,224.8 191.5,211.4 191.75,224.0 192,208.2 192.25,222.4 192.5,200.5 192.75,225.2 193,209.9 193.25,228.0 193.5,210.6 193.75,223.7 194,207.3 194.25,223.0 194.5,212.2 194.75,223.9 195,213.3 195.25,222.5 195.5,213.2 195.75,226.4 196,211.9 196.25,223.5 196.5,211.4 196.75,227.8 197,212.6 197.25,228.9 197.5,208.0 197.75,222.8 198,207.3 198.25,223.7 198.5,208.3 198.75,223.1 199,208.2 199.25,223.0 199.5,213.3 199.75,226.4 200,208.5 200.25,225.7 200.5,207.3 200.75,226.6 201,204.5 201.25,223.5 201.5,213.7 201.75,226.2 202,210.9 202.25,224.2 202.5,210.3 202.75,224.1 203,206.8 203.25,225.7 203.5,203.1 203.75,222.3 204,208.3 204.25,222.5 204.5,209.3 204.75,223.2 205,209.0 205.25,222.7 205.5,211.4 205.75,227.2 206,213.2 206.25,223.3 206.5,212.2 206.75,225.6 207,210.4 207.25,226.3 207.5,211.3 207.75,223.8 208,209.2 208.25,224.6 208.5,211.1 208.75,228.8 209,206.7 209.25,225.3 209.5,214.0 209.75,228.6 210,207.8 210.25,232.8 210.5,214.5 210.75,227.1 211,212.6 211.25,225.9 211.5,214.0 211.75,224.4 212,211.2 212.25,225.0 212.5,209.0 212.75,228.6 213,216.4 213.25,223.9 213.5,215.9 213.75,222.7 214,212.4 214.25,224.5 214.5,205.7 214.75,224.6 215,210.4 215.25,226.8 215.5,207.7 215.75,228.1 216,211.5 216.25,223.6 216.5,211.7 216.75,222.2 217,210.7 217.25,229.1 217.5,211.7 217.75,224.1 218,207.9 218.25,222.7 218.5,211.9 218.75,222.7 219,211.3 219.25,225.1 219.5,203.7 219.75,223.2 220,212.3 220.25,223.6 220.5,213.8 220.75,224.9 221,212.7 221.25,225.0 221.5,209.0 221.75,225.0 222,213.5 222.25,227.5 222.5,211.1 222.75,227.4 223,209.1 223.25,225.9 223.5,207.8 223.75,225.5 224,209.0 224.25,224.3 224.5,209.3 224.75,226.3 225,201.0 225.25,225.4 225.5,207.1 225.75,224.5 226,209.1 226.25,223.0 226.5,208.7 226.75,222.3 227,210.4 227.25,229.7 227.5,213.8 227.75,225.2 228,212.4 228.25,221.8 228.5,214.1 228.75,223.5 229,210.6 229.25,224.0 229.5,209.3 229.75,222.7 230,211.1 230.25,225.3 230.5,200.9 230.75,223.9 231,210.6 231.25,227.7 231.5,205.4 231.75,228.1 232,205.8 232.25,226.7 232.5,209.1 232.75,224.9 233,207.5 233.25,230.0 233.5,211.1 233.75,231.2 234,209.9 234.25,225.3 234.5,208.3 234.75,228.9 235,209.1 235.25,224.8 235.5,211.9 235.75,226.4 236,207.6 236.25,225.2 236.5,210.9 236.75,228.2 237,211.5 237.25,228.6 237.5,210.1 237.75,224.8 238,209.1 238.25,224.2 238.5,205.6 238.75,225.8 239,213.9 239.25,229.4 239.5,212.7 239.75,224.6 240,210.5 240.25,229.1 240.5,207.7 240.75,223.2 241,212.9 241.25,224.2 241.5,202.4 241.75,224.3 242,207.8 242.25,223.3 242.5,205.3 242.75,226.1 243,207.6 243.25,224.1 243.5,212.8 243.75,222.7 244,207.9 244.25,223.9 244.5,212.2 244.75,223.3 245,211.5 245.25,226.3 245.5,208.7 245.75,227.1 246,204.9 246.25,229.5 246.5,211.8 246.75,232.7 247,204.5 247.25,227.7 247.5,211.8 247.75,226.3 248,210.5 248.25,226.2 248.5,212.8 248.75,226.4 249,207.8 249.25,224.3 249.5,213.1 249.75,224.3 250,209.3 250.25,225.3 250.5,213.0 250.75,224.7 251,208.4 251.25,224.1 251.5,211.5 251.75,229.1 252,211.5 252.25,226.9 252.5,206.3 252.75,232.5 253,210.6 253.25,225.9 253.5,208.9 253.75,227.6 254,212.7 254.25,225.8 254.5,213.5 254.75,225.3 255,206.5 255.25,227.3 255.5,211.8 255.75,227.1 256,210.1 256.25,226.3 256.5,211.0 256.75,228.3 257,210.5 257.25,225.0 257.5,212.5 257.75,231.8 258,204.3 258.25,225.2 258.5,211.9 258.75,224.5 259,211.2 259.25,227.8 259.5,210.9 259.75,227.4 260,209.9 260.25,223.0 260.5,214.8 260.75,229.2 261,210.4 261.25,228.8 261.5,207.9 261.75,230.0 262,210.1 262.25,223.9 262.5,207.6 262.75,223.7 263,203.3 263.25,223.7 263.5,210.1 263.75,224.8 264,204.8 264.25,225.0 264.5,206.7 264.75,226.5 265,213.7 265.25,225.1 265.5,206.6 265.75,225.1 266,214.3 266.25,227.4 266.5,208.3 266.75,229.0 267,210.3 267.25,226.1 267.5,207.1 267.75,226.3 268,211.8 268.25,226.0 268.5,207.1 268.75,227.0 269,209.8 269.25,226.3 269.5,210.1 269.75,226.2 270,212.4 270.25,226.9 270.5,209.1 270.75,225.0 271,212.3 271.25,223.3 271.5,209.5 271.75,226.5 272,212.2 272.25,225.1 272.5,212.1 272.75,232.0 273,207.4 273.25,228.4 273.5,213.3 273.75,224.9 274,207.8 274.25,223.4 274.5,212.5 274.75,223.4 275,208.8 275.25,233.5 275.5,208.8 275.75,225.8 276,211.2 276.25,225.8 276.5,209.2 276.75,227.3 277,213.0 277.25,225.4 277.5,205.4 277.75,225.1 278,205.6 278.25,228.8 278.5,210.6 278.75,226.5 279,206.2 279.25,228.6 279.5,209.1 279.75,224.3 280,213.9 280.25,227.6 280.5,208.1 280.75,230.7 281,209.3 281.25,229.8 281.5,206.1 281.75,224.4 282,204.7 282.25,231.1 282.5,208.9 282.75,223.5 283,207.1 283.25,224.1 283.5,202.5 283.75,228.7 284,209.8 284.25,225.6 284.5,203.6 284.75,226.5 285,201.2 285.25,225.4 285.5,212.1 285.75,227.9 286,209.4 286.25,228.7 286.5,203.5 286.75,224.7 287,210.1 287.25,227.8 287.5,206.7 287.75,223.3 288,206.2 288.25,226.9 288.5,206.4 288.75,225.9 289,207.3 289.25,222.1 289.5,205.1 289.75,221.8 290,210.4 290.25,221.1 290.5,210.8 290.75,222.9 291,211.4 291.25,226.1 291.5,206.5 291.75,229.0 292,210.0 292.25,225.1 292.5,204.4 292.75,223.1 293,208.6 293.25,226.3 293.5,202.7 293.75,228.6 294,204.2 294.25,223.0 294.5,206.0 294.75,227.3 295,202.1 295.25,224.7 295.5,211.6 295.75,230.5 296,207.8 296.25,224.1 296.5,212.0 296.75,221.7 297,210.5 297.25,221.8 297.5,204.0 297.75,222.1 298,203.8 298.25,222.6 298.5,205.6 298.75,231.1 299,200.9 299.25,221.3 299.5,208.2 299.75,224.7 300,203.1 300.25,221.8 300.5,204.0 300.75,224.7 301,203.8 301.25,220.9 301.5,205.2 301.75,224.1 302,205.6 302.25,221.9 302.5,208.6 302.75,221.6 303,203.9 303.25,223.0 303.5,203.9 303.75,222.8 304,207.0 304.25,223.1 304.5,209.8 304.75,223.4 305,207.7 305.25,223.4 305.5,206.6 305.75,224.4 306,202.9 306.25,222.4 306.5,199.1 306.75,225.1 307,206.4 307.25,228.0 307.5,212.3 307.75,221.6 308,209.1 308.25,226.5 308.5,205.7 308.75,222.7 309,202.9 309.25,220.0 309.5,204.6 309.75,221.6 310,211.8 310.25,222.8 310.5,212.1 310.75,219.4 311,213.3 311.25,224.3 311.5,213.3 311.75,219.6 312,200.2 312.25,220.1 312.5,212.7 312.75,223.7 313,210.1 313.25,225.5 313.5,208.3 313.75,220.1 314,206.3 314.25,222.0 314.5,209.8 314.75,220.9 315,206.1 315.25,223.1 315.5,203.5 315.75,224.9 316,209.4 316.25,223.9 316.5,200.6 316.75,224.2 317,210.1 317.25,222.7 317.5,206.2" stroke="#0f0" stroke-width="0.8"/>
<polyline points="143.5,308.3 143.75,283.3 144,259.9 144.25,252.6 144.5,237.0 144.75,239.5 145,222.2 145.25,232.2 145.5,219.9 145.75,232.2 146,214.1 146.25,228.7 146.5,213.7 146.75,227.1 147,211.7 147.25,230.5 147.5,211.5 147.75,225.7 148,211.3 148.25,226.8 148.5,213.1 148.75,233.2 149,193.8 149.25,225.6 149.5,206.2 149.75,228.5 150,211.7 150.25,228.8 150.5,210.8 150.75,223.9 151,209.9 151.25,227.7 151.5,208.0 151.75,234.2 152,211.9 152.25,228.9 152.5,212.3 152.75,227.2 153,212.3 153.25,225.0 153.5,211.5 153.75,238.4 154,209.3 154.25,230.1 154.5,192.5 154.75,227.2 155,211.3 155.25,233.3 155.5,209.7 155.75,225.3 156,211.3 156.25,225.0 156.5,212.6 156.75,224.4 157,209.0 157.25,229.5 157.5,211.0 157.75,225.3 158,210.9 158.25,228.1 158.5,213.6 158.75,231.3 159,210.8 159.25,224.7 159.5,212.4 159.75,229.7 160,200.5 160.25,226.0 160.5,211.7 160.75,224.2 161,212.5 161.25,232.6 161.5,211.2 161.75,224.1 162,211.7 162.25,227.5 162.5,212.5 162.75,223.5 163,213.2 163.25,226.5 163.5,212.5 163.75,233.6 164,212.5 164.25,233.3 164.5,211.1 164.75,225.3 165,211.2 165.25,224.4 165.5,203.9 165.75,230.0 166,211.5 166.25,227.8 166.5,212.2 166.75,225.1 167,211.9 167.25,230.3 167.5,212.3 167.75,227.8 168,209.2 168.25,232.6 168.5,213.1 168.75,224.5 169,213.0 169.25,227.0 169.5,210.6 169.75,225.2 170,212.7 170.25,232.1 170.5,211.8 170.75,228.4 171,196.0 171.25,228.2 171.5,213.6 171.75,226.8 172,212.9 172.25,228.9 172.5,213.0 172.75,225.9 173,211.5 173.25,230.3 173.5,211.6 173.75,227.1 174,214.2 174.25,230.4 174.5,213.9 174.75,226.5 175,212.6 175.25,226.4 175.5,212.7 175.75,235.0 176,195.0 176.25,225.7 176.5,214.2 176.75,225.2 177,212.0 177.25,233.9 177.5,212.3 177.75,224.9 178,206.8 178.25,224.8 178.5,211.6 178.75,225.2 179,208.6 179.25,226.4 179.5,213.3 179.75,227.3 180,216.4 180.25,227.5 180.5,212.1 180.75,225.7 181,215.9 181.25,227.2 181.5,203.2 181.75,225.8 182,212.3 182.25,234.9 182.5,209.6 182.75,227.8 183,211.0 183.25,228.4 183.5,212.5 183.75,228.1 184,214.0 184.25,225.7 184.5,212.6 184.75,226.5 185,212.1 185.25,226.3 185.5,212.9 185.75,226.0 186,211.5 186.25,225.7 186.5,212.3 186.75,233.2 187,202.1 187.25,229.8 187.5,214.8 187.75,226.9 188,214.5 188.25,226.2 188.5,211.5 188.75,226.1 189,211.0 189.25,229.6 189.5,211.3 189.75,233.1 190,211.9 190.25,234.8 190.5,212.8 190.75,228.2 191,215.2 191.25,232.0 191.5,212.4 191.75,227.5 192,213.5 192.25,229.5 192.5,197.8 192.75,225.8 193,214.3 193.25,230.0 193.5,215.0 193.75,228.6 194,212.9 194.25,231.1 194.5,211.4 194.75,228.1 195,212.9 195.25,225.5 195.5,209.5 195.75,224.3 196,209.9 196.25,229.0 196.5,211.9 196.75,226.9 197,211.1 197.25,224.0 197.5,214.4 197.75,234.0 198,202.2 198.25,229.1 198.5,211.1 198.75,225.4 199,210.5 199.25,230.8 199.5,213.9 199.75,227.6 200,213.1 200.25,232.6 200.5,211.0 200.75,228.8 201,214.2 201.25,238.2 201.5,212.3 201.75,226.0 202,209.8 202.25,224.9 202.5,210.6 202.75,226.9 203,210.7 203.25,226.1 203.5,199.9 203.75,226.6 204,213.6 204.25,229.5 204.5,212.2 204.75,225.8 205,212.5 205.25,236.3 205.5,212.7 205.75,226.7 206,214.0 206.25,230.7 206.5,210.7 206.75,227.2 207,210.1 207.25,230.5 207.5,213.8 207.75,226.4 208,214.9 208.25,232.0 208.5,214.5 208.75,239.3 209,200.4 209.25,228.0 209.5,211.5 209.75,229.9 210,213.0 210.25,233.8 210.5,213.2 210.75,227.9 211,211.2 211.25,235.4 211.5,215.1 211.75,226.3 212,211.7 212.25,232.0 212.5,213.3 212.75,232.2 213,214.7 213.25,232.4 213.5,214.8 213.75,226.3 214,214.2 214.25,231.2 214.5,206.3 214.75,225.8 215,214.6 215.25,226.9 215.5,215.6 215.75,224.2 216,212.4 216.25,225.0 216.5,214.3 216.75,225.7 217,215.0 217.25,229.4 217.5,211.3 217.75,226.3 218,211.6 218.25,225.5 218.5,211.5 218.75,229.1 219,214.2 219.25,234.3 219.5,209.9 219.75,227.0 220,212.4 220.25,227.6 220.5,213.7 220.75,227.6 221,213.2 221.25,227.9 221.5,213.9 221.75,228.3 222,215.2 222.25,236.5 222.5,210.7 222.75,234.1 223,215.2 223.25,233.9 223.5,214.1 223.75,229.3 224,214.4 224.25,229.5 224.5,213.0 224.75,225.8 225,207.6 225.25,229.3 225.5,213.5 225.75,229.6 226,214.2 226.25,227.2 226.5,213.4 226.75,228.3 227,210.3 227.25,227.9 227.5,211.3 227.75,224.4 228,215.7 228.25,225.2 228.5,211.4 228.75,225.0 229,213.6 229.25,226.8 229.5,212.3 229.75,225.6 230,215.3 230.25,231.9 230.5,206.6 230.75,225.3 231,213.5 231.25,227.8 231.5,214.3 231.75,226.2 232,213.0 232.25,226.5 232.5,212.1 232.75,226.6 233,212.1 233.25,236.4 233.5,212.8 233.75,227.2 234,213.0 234.25,228.1 234.5,212.1 234.75,232.8 235,212.9 235.25,228.3 235.5,213.3 235.75,227.0 236,209.6 236.25,227.6 236.5,213.8 236.75,231.0 237,213.3 237.25,227.8 237.5,213.9 237.75,237.3 238,213.1 238.25,227.7 238.5,211.0 238.75,229.8 239,213.5 239.25,229.3 239.5,214.2 239.75,233.1 240,212.5 240.25,230.2 240.5,214.5 240.75,228.0 241,213.3 241.25,227.4 241.5,197.0 241.75,225.4 242,211.8 242.25,228.5 242.5,213.2 242.75,225.5 243,214.0 243.25,225.7 243.5,214.0 243.75,228.4 244,215.1 244.25,227.1 244.5,214.0 244.75,234.8 245,211.9 245.25,227.6 245.5,213.6 245.75,225.2 246,212.0 246.25,225.2 246.5,213.7 246.75,225.6 247,207.5 247.25,226.3 247.5,214.9 247.75,235.0 248,213.1 248.25,227.1 248.5,214.6 248.75,230.9 249,212.5 249.25,230.1 249.5,214.1 249.75,226.3 250,213.5 250.25,234.9 250.5,214.2 250.75,229.6 251,214.0 251.25,231.2 251.5,212.5 251.75,227.2 252,214.1 252.25,228.8 252.5,207.1 252.75,227.6 253,212.9 253.25,228.2 253.5,212.9 253.75,227.4 254,210.1 254.25,228.7 254.5,213.7 254.75,231.4 255,212.3 255.25,227.5 255.5,213.3 255.75,229.0 256,212.6 256.25,243.4 256.5,214.6 256.75,230.5 257,213.6 257.25,229.7 257.5,215.5 257.75,229.1 258,205.8 258.25,229.4 258.5,214.8 258.75,229.5 259,214.6 259.25,227.8 259.5,215.4 259.75,225.9 260,214.8 260.25,226.1 260.5,214.5 260.75,225.9 261,213.1 261.25,224.8 261.5,215.9 261.75,234.4 262,214.6 262.25,226.8 262.5,215.7 262.75,227.6 263,207.8 263.25,232.6 263.5,209.9 263.75,226.2 264,214.3 264.25,226.7 264.5,213.7 264.75,227.9 265,215.0 265.25,227.6 265.5,211.7 265.75,230.6 266,214.4 266.25,233.1 266.5,214.8 266.75,231.4 267,212.8 267.25,235.5 267.5,212.5 267.75,235.1 268,211.2 268.25,230.6 268.5,212.5 268.75,230.7 269,214.1 269.25,235.8 269.5,210.6 269.75,229.0 270,213.6 270.25,227.2 270.5,215.7 270.75,227.4 271,213.5 271.25,231.4 271.5,216.4 271.75,228.7 272,216.8 272.25,232.0 272.5,215.0 272.75,227.3 273,216.0 273.25,233.8 273.5,214.6 273.75,229.9 274,209.8 274.25,227.4 274.5,214.3 274.75,225.9 275,214.5 275.25,226.5 275.5,214.3 275.75,228.2 276,215.5 276.25,226.7 276.5,214.5 276.75,228.6 277,214.9 277.25,230.5 277.5,214.5 277.75,229.2 278,213.2 278.25,228.6 278.5,215.0 278.75,234.5 279,209.0 279.25,227.3 279.5,213.4 279.75,235.4 280,213.0 280.25,235.4 280.5,209.5 280.75,226.9 281,207.8 281.25,232.2 281.5,211.8 281.75,228.5 282,213.7 282.25,226.4 282.5,213.2 282.75,227.7 283,210.9 283.25,226.3 283.5,211.0 283.75,228.3 284,214.3 284.25,231.1 284.5,211.9 284.75,227.4 285,208.6 285.25,225.7 285.5,211.7 285.75,229.4 286,215.2 286.25,226.5 286.5,211.6 286.75,228.7 287,211.0 287.25,229.7 287.5,212.0 287.75,227.5 288,211.2 288.25,234.2 288.5,212.2 288.75,228.2 289,211.6 289.25,224.4 289.5,207.5 289.75,236.5 290,211.9 290.25,223.9 290.5,208.0 290.75,227.6 291,211.9 291.25,232.6 291.5,208.9 291.75,228.6 292,213.3 292.25,225.2 292.5,211.5 292.75,228.8 293,211.2 293.25,226.3 293.5,210.1 293.75,225.3 294,210.4 294.25,224.4 294.5,210.0 294.75,226.2 295,212.5 295.25,233.1 295.5,211.7 295.75,231.1 296,210.0 296.25,224.6 296.5,211.9 296.75,224.3 297,212.2 297.25,224.7 297.5,211.4 297.75,227.2 298,209.1 298.25,228.5 298.5,212.1 298.75,225.9 299,210.5 299.25,231.6 299.5,212.2 299.75,226.3 300,210.8 300.25,225.0 300.5,210.6 300.75,226.6 301,209.6 301.25,225.7 301.5,210.0 301.75,224.4 302,210.5 302.25,227.8 302.5,211.1 302.75,223.2 303,212.9 303.25,232.4 303.5,209.6 303.75,224.4 304,210.8 304.25,224.0 304.5,210.9 304.75,226.0 305,212.0 305.25,226.9 305.5,210.5 305.75,226.9 306,211.4 306.25,227.4 306.5,204.4 306.75,226.8 307,211.8 307.25,223.1 307.5,211.2 307.75,224.6 308,212.1 308.25,230.4 308.5,212.0 308.75,225.3 309,211.6 309.25,222.7 309.5,212.8 309.75,227.3 310,213.0 310.25,222.4 310.5,211.3 310.75,221.5 311,210.4 311.25,226.9 311.5,212.4 311.75,222.8 312,203.5 312.25,231.2 312.5,212.1 312.75,222.3 313,211.8 313.25,222.5 313.5,212.8 313.75,224.4 314,210.9 314.25,231.2 314.5,212.4 314.75,231.5 315,209.9 315.25,224.8 315.5,210.3 315.75,222.9 316,213.0 316.25,231.0 316.5,210.0 316.75,224.7 317,211.7 317.25,233.2 317.5,208.1" stroke="#00f" stroke-width="0.52"/>
</g>
<text x="140.3" y="192.86" font-size="10.92" text-anchor="end" fill="#262626">50</text>
<text x="140.3" y="219.36" font-size="10.92" text-anchor="end" fill="#262626">0</text>
<text x="140.3" y="245.86" font-size="10.92" text-anchor="end" fill="#262626">-50</text>
<text x="140.3" y="272.36" font-size="10.92" text-anchor="end" fill="#262626">-100</text>
<text x="140.3" y="298.86" font-size="10.92" text-anchor="end" fill="#262626">-150</text>
<text x="140.3" y="325.36" font-size="10.92" text-anchor="end" fill="#262626">-200</text>
<text x="143.5" y="335.42" font-size="10.92" text-anchor="middle" fill="#262626">0</text>
<text x="197.88" y="335.42" font-size="10.92" text-anchor="middle" fill="#262626">1000</text>
<text x="252.25" y="335.42" font-size="10.92" text-anchor="middle" fill="#262626">2000</text>
<text x="306.62" y="335.42" font-size="10.92" text-anchor="middle" fill="#262626">3000</text>
<text x="229.8" y="350.36" font-size="11.64" text-anchor="middle" fill="#262626"><tspan font-style="italic">f</tspan>(Hz)</text>
<text x="115.17" y="254.75" font-size="11.64" text-anchor="middle" fill="#262626" transform="rotate(-90 115.17 254.75)">SPL(dBA)</text>
<rect x="262.0" y="265.5" width="47.5" height="47.5" fill="#fff" stroke="#808080" stroke-width="0.5"/>
<path d="M263.55 272.05H280.02" stroke="#000" stroke-width="2"/>
<path d="M263.55 283.58H280.02" stroke="#f00" stroke-width="1" stroke-dasharray="3.2 3.3"/>
<path d="M263.55 295.12H280.02" stroke="#0f0" stroke-width="1" stroke-dasharray="3 1 1 1"/>
<path d="M263.55 306.65H280.02" stroke="#00f" stroke-width="0.5"/>
<text x="282.08" y="275.55" font-size="7.88" text-anchor="start" fill="#000">Total</text>
<text x="282.08" y="287.08" font-size="7.88" text-anchor="start" fill="#000">Transf.1</text>
<text x="282.08" y="298.62" font-size="7.88" text-anchor="start" fill="#000">Transf.2</text>
<text x="282.08" y="310.15" font-size="7.88" text-anchor="start" fill="#000">Transf.3</text>
</g>
<g>
<rect x="109.5" y="354.0" width="207.5" height="163" fill="#f3f3f3"/>
<rect x="145.5" y="358.5" width="169" height="128.5" fill="#fff"/>
<rect x="145.5" y="358.5" width="169" height="128.5" fill="none" stroke="#808080" stroke-width="0.5"/>
<path d="M145.5 487.0v-1.7M145.5 358.5v1.7M198.31 487.0v-1.7M198.31 358.5v1.7M251.12 487.0v-1.7M251.12 358.5v1.7M303.94 487.0v-1.7M303.94 358.5v1.7M145.5 358.5h1.7M314.5 358.5h-1.7M145.5 384.2h1.7M314.5 384.2h-1.7M145.5 409.9h1.7M314.5 409.9h-1.7M145.5 435.6h1.7M314.5 435.6h-1.7M145.5 461.3h1.7M314.5 461.3h-1.7M145.5 487h1.7M314.5 487h-1.7" stroke="#808080" stroke-width="0.5" fill="none"/>
<g fill="none" stroke-linejoin="round">
<polyline points="145.5,472.1 145.75,446.6 146,426.3 146.25,417.2 146.5,402.5 146.75,403.9 147,389.5 147.25,395.3 147.5,386.8 147.75,392.0 148,383.5 148.25,389.2 148.5,382.5 148.75,389.7 149,382.9 149.25,389.6 149.5,379.6 149.75,388.0 150,379.8 150.25,387.8 150.5,377.1 150.75,377.3 151,370.1 151.25,375.2 151.5,378.5 151.75,388.3 152,376.9 152.25,388.8 152.5,378.9 152.75,389.9 153,377.8 153.25,382.7 153.5,373.9 153.75,382.5 154,380.9 154.25,388.7 154.5,380.8 154.75,389.2 155,376.4 155.25,388.2 155.5,375.4 155.75,369.1 156,360.8 156.25,365.8 156.5,375.1 156.75,389.3 157,377.1 157.25,387.3 157.5,381.8 157.75,390.5 158,383.5 158.25,390.1 158.5,381.4 158.75,383.4 159,374.9 159.25,379.2 159.5,379.7 159.75,391.0 160,380.8 160.25,390.1 160.5,379.5 160.75,389.0 161,381.1 161.25,370.0 161.5,362.4 161.75,371.6 162,379.7 162.25,389.4 162.5,378.8 162.75,389.1 163,381.1 163.25,389.4 163.5,383.6 163.75,392.4 164,381.3 164.25,388.6 164.5,382.2 164.75,388.0 165,381.4 165.25,389.7 165.5,381.0 165.75,387.4 166,380.8 166.25,367.4 166.5,362.4 166.75,368.2 167,381.5 167.25,389.0 167.5,384.0 167.75,388.3 168,379.3 168.25,387.6 168.5,379.5 168.75,390.3 169,381.7 169.25,378.5 169.5,372.9 169.75,380.6 170,381.1 170.25,389.3 170.5,382.5 170.75,388.1 171,381.4 171.25,392.3 171.5,381.2 171.75,374.5 172,365.3 172.25,373.3 172.5,379.9 172.75,389.7 173,382.6 173.25,389.2 173.5,378.3 173.75,388.5 174,378.9 174.25,389.9 174.5,377.2 174.75,392.5 175,377.9 175.25,390.3 175.5,378.8 175.75,388.5 176,379.5 176.25,390.1 176.5,380.8 176.75,390.9 177,378.7 177.25,370.8 177.5,363.2 177.75,371.9 178,376.7 178.25,390.1 178.5,382.6 178.75,388.3 179,379.0 179.25,388.4 179.5,377.8 179.75,380.8 180,372.9 180.25,377.1 180.5,377.9 180.75,388.8 181,379.9 181.25,389.1 181.5,380.9 181.75,394.8 182,377.9 182.25,370.8 182.5,365.3 182.75,371.2 183,380.6 183.25,390.1 183.5,378.7 183.75,390.3 184,380.6 184.25,391.8 184.5,379.7 184.75,389.0 185,378.0 185.25,391.0 185.5,378.6 185.75,388.1 186,380.7 186.25,390.0 186.5,381.2 186.75,387.1 187,382.2 187.25,387.9 187.5,380.0 187.75,375.8 188,368.0 188.25,375.5 188.5,383.7 188.75,389.3 189,381.4 189.25,388.6 189.5,377.7 189.75,389.7 190,379.5 190.25,389.4 190.5,381.7 190.75,388.8 191,380.0 191.25,391.5 191.5,380.7 191.75,390.0 192,380.1 192.25,388.4 192.5,378.9 192.75,379.6 193,371.5 193.25,377.2 193.5,381.2 193.75,387.8 194,379.7 194.25,388.3 194.5,378.7 194.75,388.6 195,380.7 195.25,390.0 195.5,375.4 195.75,388.6 196,381.0 196.25,389.7 196.5,380.3 196.75,390.5 197,380.1 197.25,388.8 197.5,377.9 197.75,389.0 198,379.1 198.25,376.9 198.5,368.8 198.75,377.8 199,380.8 199.25,390.2 199.5,378.7 199.75,389.7 200,379.0 200.25,389.5 200.5,380.1 200.75,389.2 201,381.2 201.25,390.6 201.5,378.4 201.75,390.7 202,378.6 202.25,389.5 202.5,382.2 202.75,390.4 203,380.1 203.25,381.5 203.5,373.4 203.75,382.0 204,383.1 204.25,390.5 204.5,380.0 204.75,390.4 205,382.6 205.25,391.1 205.5,377.4 205.75,392.2 206,382.5 206.25,392.9 206.5,379.0 206.75,391.2 207,381.4 207.25,392.2 207.5,380.4 207.75,391.6 208,383.8 208.25,390.2 208.5,380.9 208.75,377.6 209,371.9 209.25,380.0 209.5,378.3 209.75,391.2 210,383.8 210.25,390.9 210.5,378.5 210.75,391.0 211,379.8 211.25,374.6 211.5,368.3 211.75,372.5 212,382.6 212.25,392.4 212.5,376.5 212.75,390.3 213,380.5 213.25,389.8 213.5,379.1 213.75,390.2 214,377.0 214.25,385.8 214.5,377.0 214.75,384.8 215,381.4 215.25,388.7 215.5,382.2 215.75,390.5 216,384.3 216.25,388.1 216.5,381.6 216.75,388.3 217,382.8 217.25,390.5 217.5,381.3 217.75,389.8 218,380.5 218.25,389.3 218.5,381.0 218.75,389.6 219,383.6 219.25,384.3 219.5,376.0 219.75,381.9 220,378.2 220.25,389.8 220.5,380.5 220.75,390.5 221,381.4 221.25,391.7 221.5,380.3 221.75,389.5 222,379.9 222.25,389.6 222.5,383.6 222.75,391.7 223,379.7 223.25,391.8 223.5,381.5 223.75,391.2 224,380.6 224.25,392.2 224.5,378.9 224.75,377.0 225,371.9 225.25,380.0 225.5,380.1 225.75,390.6 226,381.8 226.25,389.9 226.5,382.2 226.75,390.6 227,382.5 227.25,390.3 227.5,381.4 227.75,390.1 228,382.1 228.25,391.1 228.5,385.9 228.75,392.3 229,383.9 229.25,391.0 229.5,379.4 229.75,372.2 230,368.0 230.25,374.0 230.5,382.4 230.75,389.9 231,380.9 231.25,392.1 231.5,383.3 231.75,391.1 232,379.2 232.25,390.6 232.5,381.2 232.75,390.2 233,385.2 233.25,392.1 233.5,383.0 233.75,389.6 234,381.2 234.25,391.0 234.5,381.7 234.75,392.2 235,380.7 235.25,380.6 235.5,374.4 235.75,379.8 236,378.7 236.25,390.5 236.5,380.9 236.75,389.6 237,380.7 237.25,391.4 237.5,380.6 237.75,392.6 238,380.2 238.25,390.6 238.5,380.8 238.75,390.3 239,382.5 239.25,392.0 239.5,380.4 239.75,389.8 240,383.0 240.25,374.0 240.5,369.3 240.75,374.4 241,380.6 241.25,392.0 241.5,383.6 241.75,390.4 242,381.3 242.25,388.9 242.5,378.1 242.75,390.5 243,380.6 243.25,375.4 243.5,368.5 243.75,372.8 244,382.8 244.25,390.1 244.5,381.8 244.75,391.4 245,381.5 245.25,389.8 245.5,384.5 245.75,389.0 246,382.9 246.25,390.1 246.5,382.0 246.75,393.2 247,383.3 247.25,389.8 247.5,379.9 247.75,393.0 248,381.2 248.25,376.9 248.5,369.0 248.75,375.2 249,382.0 249.25,390.1 249.5,378.7 249.75,393.2 250,379.9 250.25,390.6 250.5,382.1 250.75,393.9 251,381.4 251.25,390.6 251.5,379.1 251.75,392.3 252,383.2 252.25,391.3 252.5,380.6 252.75,390.8 253,383.5 253.25,391.4 253.5,381.4 253.75,382.4 254,374.9 254.25,383.0 254.5,381.5 254.75,391.2 255,379.9 255.25,392.5 255.5,381.6 255.75,392.4 256,380.1 256.25,391.9 256.5,380.3 256.75,392.1 257,382.4 257.25,390.8 257.5,381.9 257.75,391.5 258,383.8 258.25,391.2 258.5,381.1 258.75,380.0 259,374.9 259.25,381.5 259.5,382.9 259.75,390.6 260,382.8 260.25,391.1 260.5,384.0 260.75,392.2 261,383.4 261.25,391.5 261.5,383.4 261.75,392.3 262,384.4 262.25,390.9 262.5,383.6 262.75,392.6 263,384.6 263.25,391.3 263.5,380.5 263.75,391.3 264,382.7 264.25,391.5 264.5,380.9 264.75,392.1 265,381.6 265.25,393.1 265.5,381.5 265.75,392.5 266,380.6 266.25,392.6 266.5,381.3 266.75,381.7 267,373.7 267.25,378.7 267.5,383.6 267.75,393.0 268,386.1 268.25,392.0 268.5,384.6 268.75,392.5 269,381.7 269.25,392.6 269.5,379.6 269.75,392.2 270,382.0 270.25,392.5 270.5,382.3 270.75,393.4 271,381.0 271.25,392.4 271.5,378.8 271.75,392.0 272,382.1 272.25,392.8 272.5,383.9 272.75,394.5 273,384.7 273.25,394.5 273.5,381.3 273.75,392.2 274,379.4 274.25,393.8 274.5,383.2 274.75,392.5 275,381.6 275.25,394.7 275.5,381.1 275.75,392.2 276,379.3 276.25,394.8 276.5,382.9 276.75,392.9 277,379.1 277.25,393.9 277.5,384.2 277.75,393.3 278,382.4 278.25,392.8 278.5,382.8 278.75,393.1 279,383.8 279.25,394.7 279.5,383.2 279.75,393.9 280,385.9 280.25,394.1 280.5,383.5 280.75,394.1 281,385.2 281.25,393.7 281.5,386.5 281.75,395.2 282,385.3 282.25,394.9 282.5,383.3 282.75,394.2 283,382.5 283.25,394.9 283.5,382.6 283.75,394.8 284,385.0 284.25,394.4 284.5,383.6 284.75,395.3 285,382.0 285.25,394.9 285.5,383.2 285.75,395.6 286,383.9 286.25,396.6 286.5,385.3 286.75,394.3 287,380.3 287.25,394.1 287.5,382.9 287.75,393.9 288,383.0 288.25,394.9 288.5,383.9 288.75,396.3 289,384.0 289.25,396.5 289.5,384.1 289.75,394.9 290,382.7 290.25,395.1 290.5,384.8 290.75,396.1 291,382.3 291.25,396.2 291.5,378.4 291.75,399.8 292,381.1 292.25,397.4 292.5,384.1 292.75,396.1 293,383.2 293.25,381.7 293.5,377.0 293.75,383.9 294,381.7 294.25,397.0 294.5,380.0 294.75,394.0 295,381.0 295.25,394.3 295.5,383.1 295.75,393.9 296,382.4 296.25,394.8 296.5,382.0 296.75,394.8 297,384.9 297.25,394.4 297.5,382.2 297.75,395.4 298,385.2 298.25,394.5 298.5,382.9 298.75,385.8 299,379.1 299.25,385.3 299.5,385.0 299.75,395.4 300,384.5 300.25,394.0 300.5,384.7 300.75,396.6 301,385.3 301.25,395.9 301.5,382.8 301.75,394.0 302,383.7 302.25,395.4 302.5,376.4 302.75,395.7 303,381.5 303.25,394.2 303.5,379.0 303.75,394.8 304,380.7 304.25,394.3 304.5,381.8 304.75,399.9 305,381.1 305.25,394.3 305.5,382.3 305.75,394.9 306,383.0 306.25,395.6 306.5,387.0 306.75,395.4 307,385.3 307.25,397.4 307.5,385.0 307.75,395.6 308,382.6 308.25,398.0 308.5,378.6 308.75,395.2 309,381.3 309.25,395.3 309.5,382.7 309.75,395.4 310,380.9 310.25,394.9 310.5,383.7 310.75,394.5 311,384.9 311.25,395.4 311.5,382.9 311.75,394.4 312,385.8 312.25,395.1 312.5,385.0 312.75,395.5 313,384.9 313.25,395.1 313.5,381.2 313.75,397.8 314,381.0 314.25,395.9 314.5,383.9" stroke="#000" stroke-width="1.6"/>
<polyline points="145.5,473.1 145.75,448.6 146,426.8 146.25,419.6 146.5,403.4 146.75,405.0 147,391.8 147.25,396.7 147.5,385.4 147.75,394.9 148,384.3 148.25,392.9 148.5,382.9 148.75,391.4 149,381.9 149.25,392.3 149.5,379.7 149.75,395.5 150,381.3 150.25,399.6 150.5,382.6 150.75,389.8 151,375.2 151.25,388.5 151.5,381.8 151.75,395.7 152,380.1 152.25,390.7 152.5,380.8 152.75,392.9 153,381.6 153.25,389.4 153.5,381.8 153.75,391.8 154,381.3 154.25,389.7 154.5,378.8 154.75,396.3 155,377.0 155.25,389.2 155.5,381.5 155.75,389.3 156,366.0 156.25,390.4 156.5,381.6 156.75,390.7 157,382.3 157.25,391.5 157.5,380.2 157.75,403.9 158,382.3 158.25,398.5 158.5,383.6 158.75,391.4 159,380.8 159.25,393.5 159.5,383.5 159.75,392.3 160,383.3 160.25,391.1 160.5,381.3 160.75,391.9 161,379.9 161.25,391.7 161.5,365.3 161.75,391.8 162,380.2 162.25,390.4 162.5,381.2 162.75,390.2 163,383.0 163.25,393.7 163.5,384.4 163.75,400.9 164,384.9 164.25,389.8 164.5,385.1 164.75,389.1 165,381.6 165.25,390.7 165.5,383.8 165.75,391.8 166,382.1 166.25,389.1 166.5,367.3 166.75,389.7 167,383.0 167.25,392.4 167.5,382.0 167.75,389.4 168,380.2 168.25,388.9 168.5,382.1 168.75,393.5 169,380.2 169.25,391.7 169.5,375.4 169.75,389.4 170,381.4 170.25,390.3 170.5,381.5 170.75,389.6 171,381.1 171.25,396.5 171.5,380.7 171.75,392.2 172,368.1 172.25,396.2 172.5,380.1 172.75,390.7 173,381.9 173.25,390.2 173.5,378.6 173.75,391.3 174,379.2 174.25,393.3 174.5,376.9 174.75,393.6 175,376.7 175.25,399.0 175.5,380.9 175.75,393.5 176,379.6 176.25,393.5 176.5,381.3 176.75,395.1 177,383.1 177.25,392.6 177.5,368.5 177.75,391.0 178,380.6 178.25,403.4 178.5,382.5 178.75,389.3 179,383.9 179.25,389.4 179.5,384.0 179.75,389.6 180,381.0 180.25,389.8 180.5,381.1 180.75,389.8 181,380.1 181.25,390.2 181.5,381.0 181.75,395.8 182,378.1 182.25,396.6 182.5,369.4 182.75,391.8 183,380.6 183.25,391.1 183.5,377.8 183.75,397.7 184,379.5 184.25,394.9 184.5,378.7 184.75,391.1 185,379.0 185.25,394.7 185.5,377.3 185.75,390.2 186,379.9 186.25,391.1 186.5,379.5 186.75,388.7 187,381.5 187.25,389.0 187.5,378.1 187.75,389.3 188,368.9 188.25,391.2 188.5,381.9 188.75,391.6 189,380.0 189.25,389.7 189.5,382.6 189.75,390.7 190,382.3 190.25,390.5 190.5,379.5 190.75,398.3 191,379.3 191.25,392.5 191.5,381.1 191.75,394.0 192,381.7 192.25,390.3 192.5,381.0 192.75,394.9 193,378.5 193.25,392.5 193.5,382.2 193.75,388.8 194,381.0 194.25,389.3 194.5,383.0 194.75,395.4 195,383.5 195.25,392.9 195.5,380.6 195.75,391.1 196,382.8 196.25,398.9 196.5,381.3 196.75,391.5 197,382.5 197.25,390.1 197.5,381.8 197.75,397.3 198,380.4 198.25,390.3 198.5,376.6 198.75,390.9 199,381.9 199.25,394.2 199.5,382.4 199.75,390.7 200,378.8 200.25,395.1 200.5,379.7 200.75,397.0 201,380.5 201.25,391.6 201.5,382.4 201.75,391.7 202,379.1 202.25,393.9 202.5,381.2 202.75,391.5 203,381.4 203.25,393.1 203.5,376.0 203.75,397.2 204,382.5 204.25,391.6 204.5,384.3 204.75,392.3 205,382.1 205.25,392.6 205.5,377.3 205.75,394.3 206,382.8 206.25,393.9 206.5,378.1 206.75,392.3 207,381.5 207.25,393.3 207.5,380.5 207.75,392.6 208,381.8 208.25,395.7 208.5,380.4 208.75,394.9 209,374.9 209.25,391.8 209.5,380.1 209.75,393.6 210,382.6 210.25,391.9 210.5,378.5 210.75,392.1 211,381.4 211.25,392.2 211.5,372.6 211.75,394.0 212,381.6 212.25,398.8 212.5,381.8 212.75,391.3 213,381.7 213.25,391.3 213.5,382.8 213.75,391.2 214,381.7 214.25,394.9 214.5,379.5 214.75,391.0 215,384.4 215.25,389.7 215.5,380.8 215.75,391.5 216,383.6 216.25,397.6 216.5,381.8 216.75,389.4 217,384.2 217.25,392.8 217.5,380.1 217.75,392.1 218,381.1 218.25,391.5 218.5,381.2 218.75,395.6 219,382.2 219.25,390.6 219.5,381.0 219.75,396.6 220,378.2 220.25,395.5 220.5,380.3 220.75,392.5 221,381.1 221.25,392.7 221.5,380.9 221.75,393.4 222,379.6 222.25,392.7 222.5,383.2 222.75,392.7 223,381.5 223.25,394.2 223.5,379.8 223.75,392.3 224,379.9 224.25,394.6 224.5,382.2 224.75,392.9 225,373.6 225.25,393.2 225.5,380.4 225.75,394.3 226,381.9 226.25,396.6 226.5,382.1 226.75,396.7 227,382.0 227.25,396.5 227.5,380.7 227.75,391.1 228,381.2 228.25,392.2 228.5,384.7 228.75,397.6 229,383.4 229.25,392.1 229.5,382.1 229.75,391.2 230,373.3 230.25,390.4 230.5,382.3 230.75,393.6 231,383.2 231.25,393.9 231.5,385.3 231.75,392.2 232,382.5 232.25,395.3 232.5,381.5 232.75,393.3 233,384.6 233.25,393.1 233.5,380.8 233.75,391.2 234,380.5 234.25,392.4 234.5,380.0 234.75,393.2 235,379.6 235.25,392.6 235.5,373.4 235.75,394.6 236,378.4 236.25,394.1 236.5,379.8 236.75,392.9 237,380.3 237.25,392.4 237.5,379.4 237.75,395.5 238,378.6 238.25,391.6 238.5,382.5 238.75,402.0 239,381.7 239.25,399.0 239.5,383.1 239.75,399.4 240,385.0 240.25,396.9 240.5,376.4 240.75,391.1 241,384.0 241.25,394.6 241.5,382.8 241.75,391.5 242,381.9 242.25,394.8 242.5,378.6 242.75,398.6 243,378.9 243.25,394.2 243.5,368.8 243.75,393.9 244,382.3 244.25,393.1 244.5,380.9 244.75,392.5 245,381.2 245.25,390.9 245.5,382.3 245.75,390.0 246,385.3 246.25,391.1 246.5,381.2 246.75,396.0 247,381.5 247.25,390.8 247.5,381.7 247.75,394.0 248,380.6 248.25,391.4 248.5,376.7 248.75,391.2 249,381.8 249.25,396.7 249.5,382.0 249.75,406.5 250,381.8 250.25,392.9 250.5,382.9 250.75,394.9 251,381.7 251.25,391.9 251.5,381.3 251.75,393.4 252,381.5 252.25,394.4 252.5,384.9 252.75,395.3 253,382.3 253.25,395.4 253.5,382.1 253.75,393.8 254,377.2 254.25,392.9 254.5,380.6 254.75,393.0 255,384.2 255.25,393.5 255.5,381.1 255.75,393.7 256,384.6 256.25,393.5 256.5,380.2 256.75,393.1 257,381.5 257.25,392.5 257.5,385.1 257.75,393.3 258,383.0 258.25,394.3 258.5,383.5 258.75,391.9 259,377.7 259.25,394.6 259.5,384.1 259.75,391.7 260,385.8 260.25,393.3 260.5,381.7 260.75,393.2 261,382.5 261.25,392.7 261.5,383.0 261.75,393.4 262,383.3 262.25,395.8 262.5,384.1 262.75,395.7 263,385.4 263.25,397.1 263.5,385.5 263.75,400.4 264,381.6 264.25,393.2 264.5,384.9 264.75,396.1 265,381.6 265.25,394.1 265.5,383.7 265.75,393.6 266,383.6 266.25,394.4 266.5,381.6 266.75,394.5 267,373.9 267.25,394.6 267.5,383.5 267.75,397.9 268,383.9 268.25,393.4 268.5,383.3 268.75,393.5 269,383.4 269.25,394.4 269.5,383.0 269.75,393.8 270,381.9 270.25,393.6 270.5,383.6 270.75,394.5 271,384.5 271.25,393.8 271.5,379.2 271.75,393.0 272,385.2 272.25,393.8 272.5,383.2 272.75,396.9 273,385.0 273.25,395.5 273.5,382.3 273.75,399.1 274,383.8 274.25,394.9 274.5,384.7 274.75,393.5 275,385.1 275.25,395.7 275.5,385.6 275.75,398.2 276,382.1 276.25,398.3 276.5,384.0 276.75,393.9 277,382.2 277.25,394.9 277.5,384.8 277.75,394.7 278,381.2 278.25,394.9 278.5,381.9 278.75,397.1 279,382.3 279.25,400.9 279.5,385.8 279.75,395.0 280,385.7 280.25,395.1 280.5,385.2 280.75,396.6 281,386.3 281.25,394.7 281.5,386.3 281.75,403.3 282,385.2 282.25,395.9 282.5,385.9 282.75,397.0 283,382.8 283.25,403.2 283.5,383.7 283.75,395.8 284,385.9 284.25,398.4 284.5,384.2 284.75,402.0 285,385.9 285.25,395.9 285.5,382.2 285.75,396.6 286,382.9 286.25,398.5 286.5,384.9 286.75,395.5 287,385.0 287.25,395.3 287.5,385.4 287.75,398.0 288,382.3 288.25,400.2 288.5,385.8 288.75,400.6 289,383.5 289.25,401.1 289.5,385.6 289.75,395.9 290,386.0 290.25,398.6 290.5,382.8 290.75,399.1 291,384.7 291.25,397.3 291.5,377.2 291.75,403.0 292,384.8 292.25,398.4 292.5,382.2 292.75,399.2 293,382.3 293.25,398.1 293.5,378.4 293.75,398.1 294,382.5 294.25,400.4 294.5,383.7 294.75,402.0 295,383.0 295.25,395.8 295.5,383.4 295.75,403.1 296,386.7 296.25,400.5 296.5,382.9 296.75,397.8 297,384.3 297.25,396.1 297.5,385.4 297.75,396.5 298,383.3 298.25,396.6 298.5,384.3 298.75,397.1 299,380.3 299.25,395.3 299.5,385.2 299.75,396.4 300,384.7 300.25,397.9 300.5,383.7 300.75,397.6 301,385.8 301.25,398.8 301.5,383.2 301.75,395.0 302,382.5 302.25,396.4 302.5,381.3 302.75,399.7 303,384.1 303.25,395.3 303.5,383.8 303.75,398.4 304,385.6 304.25,395.3 304.5,387.2 304.75,400.9 305,384.3 305.25,395.3 305.5,382.7 305.75,396.0 306,384.6 306.25,398.5 306.5,386.3 306.75,396.6 307,384.1 307.25,402.3 307.5,384.3 307.75,396.7 308,382.3 308.25,399.0 308.5,380.9 308.75,396.2 309,381.2 309.25,397.8 309.5,382.8 309.75,396.4 310,380.2 310.25,397.3 310.5,382.8 310.75,402.8 311,383.0 311.25,396.5 311.5,384.1 311.75,395.5 312,386.1 312.25,405.6 312.5,383.6 312.75,399.4 313,383.5 313.25,396.4 313.5,384.6 313.75,398.8 314,383.8 314.25,396.9 314.5,383.3" stroke="#f00" stroke-width="0.8"/>
<polyline points="145.5,472.6 145.75,447.3 146,425.3 146.25,418.0 146.5,402.4 146.75,406.4 147,388.4 147.25,396.3 147.5,387.4 147.75,393.0 148,383.6 148.25,390.2 148.5,381.3 148.75,390.7 149,381.7 149.25,390.6 149.5,383.7 149.75,389.0 150,377.6 150.25,388.9 150.5,377.6 150.75,388.5 151,377.4 151.25,388.3 151.5,378.6 151.75,389.4 152,376.7 152.25,389.8 152.5,376.6 152.75,391.0 153,375.7 153.25,388.9 153.5,376.8 153.75,391.2 154,381.0 154.25,390.0 154.5,378.7 154.75,390.2 155,381.0 155.25,394.1 155.5,375.7 155.75,390.0 156,366.3 156.25,388.5 156.5,374.0 156.75,390.3 157,376.7 157.25,388.3 157.5,379.9 157.75,391.5 158,383.0 158.25,391.1 158.5,379.5 158.75,393.9 159,376.2 159.25,393.4 159.5,379.4 159.75,392.0 160,380.5 160.25,394.5 160.5,378.0 160.75,390.0 161,382.5 161.25,393.3 161.5,366.1 161.75,394.1 162,377.9 162.25,390.6 162.5,378.3 162.75,392.5 163,379.8 163.25,390.4 163.5,381.4 163.75,393.5 164,380.8 164.25,389.6 164.5,381.8 164.75,389.8 165,379.8 165.25,391.3 165.5,380.5 165.75,388.5 166,380.5 166.25,394.5 166.5,365.3 166.75,388.0 167,380.1 167.25,390.0 167.5,383.2 167.75,389.9 168,378.8 168.25,388.7 168.5,378.1 168.75,391.3 169,380.2 169.25,392.0 169.5,374.3 169.75,389.7 170,383.5 170.25,393.6 170.5,382.7 170.75,389.1 171,383.8 171.25,395.9 171.5,380.4 171.75,389.9 172,372.7 172.25,390.9 172.5,380.6 172.75,391.5 173,380.7 173.25,395.0 173.5,379.8 173.75,389.6 174,377.2 174.25,390.9 174.5,378.7 174.75,396.3 175,378.2 175.25,391.3 175.5,377.0 175.75,389.6 176,380.7 176.25,391.1 176.5,379.6 176.75,392.0 177,377.9 177.25,391.6 177.5,364.3 177.75,389.5 178,376.4 178.25,391.1 178.5,382.0 178.75,396.2 179,378.5 179.25,394.9 179.5,378.2 179.75,390.3 180,377.1 180.25,390.9 180.5,378.2 180.75,390.0 181,378.5 181.25,392.6 181.5,384.1 181.75,398.0 182,380.3 182.25,390.2 182.5,369.9 182.75,392.0 183,380.5 183.25,391.8 183.5,380.5 183.75,391.4 184,384.1 184.25,394.0 184.5,381.1 184.75,390.0 185,381.7 185.25,392.6 185.5,381.5 185.75,389.1 186,382.7 186.25,392.8 186.5,382.1 186.75,388.1 187,383.2 187.25,397.0 187.5,382.1 187.75,391.0 188,372.2 188.25,390.0 188.5,383.0 188.75,390.4 189,379.5 189.25,390.9 189.5,378.0 189.75,392.1 190,379.1 190.25,390.8 190.5,381.8 190.75,389.8 191,378.1 191.25,399.0 191.5,381.6 191.75,391.0 192,378.5 192.25,389.5 192.5,377.7 192.75,390.1 193,373.8 193.25,391.3 193.5,380.5 193.75,391.1 194,379.3 194.25,397.7 194.5,377.6 194.75,389.6 195,380.3 195.25,391.0 195.5,374.8 195.75,389.7 196,380.7 196.25,390.7 196.5,380.8 196.75,394.3 197,378.0 197.25,389.9 197.5,378.4 197.75,390.0 198,379.6 198.25,389.6 198.5,376.1 198.75,391.6 199,378.7 199.25,391.2 199.5,377.9 199.75,391.6 200,377.5 200.25,390.5 200.5,380.0 200.75,390.2 201,379.3 201.25,394.4 201.5,377.1 201.75,394.2 202,376.3 202.25,390.6 202.5,381.3 202.75,394.8 203,378.9 203.25,390.7 203.5,379.3 203.75,390.6 204,381.9 204.25,392.7 204.5,379.3 204.75,391.5 205,382.2 205.25,392.1 205.5,378.8 205.75,393.2 206,381.6 206.25,395.2 206.5,380.2 206.75,393.6 207,381.0 207.25,393.3 207.5,381.2 207.75,393.2 208,382.4 208.25,391.2 208.5,383.4 208.75,392.5 209,377.3 209.25,391.7 209.5,382.1 209.75,392.2 210,381.8 210.25,395.0 210.5,381.6 210.75,395.4 211,382.2 211.25,392.2 211.5,370.6 211.75,392.4 212,380.8 212.25,393.9 212.5,376.1 212.75,393.6 213,378.7 213.25,390.8 213.5,379.3 213.75,391.9 214,377.7 214.25,398.9 214.5,378.3 214.75,391.1 215,381.1 215.25,391.3 215.5,380.6 215.75,392.1 216,383.0 216.25,389.1 216.5,385.2 216.75,389.7 217,382.8 217.25,392.4 217.5,383.7 217.75,390.8 218,384.5 218.25,390.3 218.5,380.9 218.75,390.6 219,383.1 219.25,390.6 219.5,378.9 219.75,393.9 220,378.6 220.25,390.8 220.5,382.1 220.75,391.6 221,381.7 221.25,395.4 221.5,382.9 221.75,390.5 222,378.5 222.25,390.6 222.5,381.9 222.75,394.2 223,378.9 223.25,392.8 223.5,381.0 223.75,392.2 224,379.5 224.25,395.9 224.5,379.1 224.75,392.9 225,374.6 225.25,391.5 225.5,379.1 225.75,391.6 226,380.4 226.25,390.9 226.5,382.8 226.75,391.6 227,381.3 227.25,391.3 227.5,382.4 227.75,394.3 228,381.4 228.25,396.0 228.5,384.2 228.75,393.4 229,384.6 229.25,392.0 229.5,380.6 229.75,390.4 230,371.2 230.25,398.5 230.5,381.9 230.75,390.9 231,380.8 231.25,393.2 231.5,381.8 231.75,392.4 232,379.5 232.25,391.6 232.5,383.8 232.75,391.2 233,384.6 233.25,395.0 233.5,381.5 233.75,390.6 234,383.2 234.25,392.1 234.5,381.3 234.75,396.9 235,381.1 235.25,391.7 235.5,370.3 235.75,396.0 236,383.8 236.25,391.5 236.5,383.0 236.75,390.6 237,382.3 237.25,393.1 237.5,380.2 237.75,393.6 238,380.7 238.25,393.9 238.5,380.7 238.75,391.3 239,380.9 239.25,393.1 239.5,379.7 239.75,390.8 240,382.3 240.25,390.3 240.5,377.0 240.75,391.2 241,379.7 241.25,394.3 241.5,384.0 241.75,399.7 242,383.2 242.25,389.9 242.5,383.6 242.75,391.5 243,384.9 243.25,391.3 243.5,373.3 243.75,393.2 244,384.2 244.25,391.1 244.5,382.4 244.75,396.6 245,386.8 245.25,398.7 245.5,382.2 245.75,390.6 246,383.7 246.25,395.9 246.5,381.0 246.75,394.2 247,382.9 247.25,391.1 247.5,379.8 247.75,395.2 248,379.0 248.25,391.3 248.5,376.0 248.75,390.5 249,381.7 249.25,391.1 249.5,376.9 249.75,394.8 250,378.5 250.25,391.6 250.5,380.7 250.75,394.9 251,381.4 251.25,391.7 251.5,379.5 251.75,394.1 252,381.6 252.25,392.3 252.5,379.1 252.75,391.9 253,382.3 253.25,392.4 253.5,380.7 253.75,393.1 254,380.0 254.25,393.7 254.5,379.8 254.75,392.3 255,380.3 255.25,398.7 255.5,380.9 255.75,393.5 256,379.7 256.25,393.0 256.5,382.5 256.75,393.8 257,383.1 257.25,391.9 257.5,382.4 257.75,392.5 258,384.6 258.25,392.2 258.5,381.2 258.75,395.2 259,370.8 259.25,394.7 259.5,380.6 259.75,396.8 260,381.6 260.25,392.2 260.5,385.4 260.75,394.4 261,382.7 261.25,392.5 261.5,382.7 261.75,393.3 262,383.6 262.25,391.9 262.5,385.1 262.75,393.6 263,383.1 263.25,392.4 263.5,379.6 263.75,392.4 264,382.4 264.25,392.6 264.5,381.5 264.75,393.1 265,380.5 265.25,395.4 265.5,379.4 265.75,395.8 266,380.6 266.25,393.6 266.5,383.8 266.75,394.6 267,378.8 267.25,394.9 267.5,383.8 267.75,394.0 268,385.2 268.25,393.0 268.5,385.5 268.75,396.0 269,381.9 269.25,393.6 269.5,379.0 269.75,393.3 270,382.7 270.25,396.8 270.5,380.7 270.75,397.6 271,384.0 271.25,393.4 271.5,380.6 271.75,394.6 272,381.3 272.25,395.9 272.5,384.0 272.75,395.6 273,382.8 273.25,396.0 273.5,381.4 273.75,393.2 274,379.7 274.25,403.0 274.5,381.3 274.75,394.4 275,381.1 275.25,406.3 275.5,380.9 275.75,393.2 276,378.4 276.25,395.8 276.5,381.1 276.75,397.2 277,379.4 277.25,395.0 277.5,384.8 277.75,394.3 278,384.4 278.25,393.8 278.5,383.7 278.75,394.1 279,387.6 279.25,395.7 279.5,381.9 279.75,395.6 280,386.5 280.25,400.8 280.5,383.5 280.75,395.1 281,383.1 281.25,400.2 281.5,384.7 281.75,396.2 282,384.2 282.25,396.9 282.5,381.2 282.75,395.3 283,386.0 283.25,396.0 283.5,383.2 283.75,397.7 284,383.4 284.25,395.4 284.5,383.4 284.75,396.4 285,382.2 285.25,398.5 285.5,385.6 285.75,397.8 286,383.6 286.25,397.6 286.5,386.7 286.75,395.3 287,380.1 287.25,395.2 287.5,382.1 287.75,395.0 288,382.5 288.25,395.9 288.5,383.2 288.75,403.6 289,384.6 289.25,397.5 289.5,381.9 289.75,395.9 290,382.2 290.25,396.2 290.5,384.8 290.75,397.1 291,381.0 291.25,397.9 291.5,383.4 291.75,400.9 292,381.4 292.25,403.2 292.5,382.5 292.75,397.2 293,385.0 293.25,397.1 293.5,372.9 293.75,397.1 294,381.0 294.25,398.1 294.5,379.0 294.75,395.1 295,381.2 295.25,395.3 295.5,382.3 295.75,394.9 296,382.6 296.25,395.8 296.5,381.4 296.75,395.9 297,383.8 297.25,395.4 297.5,382.5 297.75,401.1 298,383.1 298.25,395.5 298.5,380.8 298.75,395.7 299,374.9 299.25,397.6 299.5,385.7 299.75,398.3 300,382.7 300.25,395.0 300.5,385.5 300.75,399.1 301,383.5 301.25,401.6 301.5,384.3 301.75,395.3 302,383.6 302.25,396.4 302.5,375.7 302.75,398.0 303,381.9 303.25,396.0 303.5,378.2 303.75,395.8 304,380.7 304.25,398.8 304.5,381.6 304.75,402.3 305,380.3 305.25,396.7 305.5,385.4 305.75,403.4 306,383.2 306.25,396.7 306.5,386.0 306.75,396.4 307,386.6 307.25,398.7 307.5,382.9 307.75,396.7 308,380.9 308.25,404.1 308.5,379.2 308.75,403.8 309,380.5 309.25,396.4 309.5,383.4 309.75,398.5 310,381.5 310.25,395.9 310.5,387.1 310.75,395.5 311,384.5 311.25,396.5 311.5,382.3 311.75,403.7 312,387.0 312.25,396.1 312.5,383.0 312.75,396.6 313,384.5 313.25,396.2 313.5,379.6 313.75,398.8 314,379.1 314.25,407.8 314.5,384.3" stroke="#0f0" stroke-width="0.8"/>
<polyline points="145.5,474.7 145.75,451.9 146,427.1 146.25,419.9 146.5,405.1 146.75,406.4 147,394.6 147.25,402.1 147.5,386.4 147.75,398.8 148,384.4 148.25,394.2 148.5,385.7 148.75,391.3 149,380.7 149.25,393.2 149.5,383.5 149.75,405.0 150,386.3 150.25,398.7 150.5,382.6 150.75,398.6 151,372.0 151.25,392.0 151.5,380.5 151.75,391.5 152,381.6 152.25,391.2 152.5,381.1 152.75,392.5 153,380.8 153.25,391.9 153.5,376.6 153.75,392.8 154,380.5 154.25,396.1 154.5,382.2 154.75,400.0 155,381.3 155.25,396.1 155.5,383.6 155.75,397.6 156,362.9 156.25,392.0 156.5,377.9 156.75,395.3 157,381.4 157.25,390.7 157.5,382.1 157.75,391.8 158,383.3 158.25,393.6 158.5,381.1 158.75,393.5 159,379.1 159.25,397.6 159.5,383.1 159.75,398.4 160,383.3 160.25,393.5 160.5,384.1 160.75,391.7 161,382.5 161.25,393.7 161.5,367.3 161.75,392.2 162,384.6 162.25,398.7 162.5,380.6 162.75,391.5 163,381.6 163.25,393.4 163.5,382.5 163.75,400.1 164,383.6 164.25,397.1 164.5,384.1 164.75,395.4 165,382.3 165.25,396.5 165.5,384.9 165.75,397.1 166,382.5 166.25,394.6 166.5,364.5 166.75,390.8 167,383.3 167.25,393.3 167.5,382.5 167.75,391.3 168,384.0 168.25,391.1 168.5,382.6 168.75,391.3 169,382.0 169.25,390.9 169.5,375.7 169.75,392.2 170,383.2 170.25,391.9 170.5,384.5 170.75,393.3 171,381.2 171.25,393.3 171.5,383.3 171.75,392.3 172,369.5 172.25,396.3 172.5,383.5 172.75,398.3 173,381.7 173.25,393.8 173.5,380.0 173.75,392.2 174,380.9 174.25,393.0 174.5,379.0 174.75,401.1 175,380.8 175.25,396.0 175.5,382.3 175.75,392.9 176,380.3 176.25,394.8 176.5,380.2 176.75,398.3 177,381.9 177.25,394.0 177.5,367.1 177.75,395.0 178,382.3 178.25,392.5 178.5,383.0 178.75,394.9 179,383.3 179.25,392.3 179.5,381.7 179.75,391.6 180,375.2 180.25,391.9 180.5,382.8 180.75,396.8 181,383.3 181.25,391.9 181.5,381.2 181.75,398.3 182,382.8 182.25,399.9 182.5,366.4 182.75,395.0 183,381.2 183.25,392.8 183.5,380.3 183.75,394.0 184,382.7 184.25,392.8 184.5,382.5 184.75,393.5 185,378.5 185.25,392.1 185.5,384.1 185.75,397.0 186,381.8 186.25,392.4 186.5,384.2 186.75,392.6 187,382.2 187.25,397.9 187.5,382.0 187.75,395.6 188,375.8 188.25,391.0 188.5,384.0 188.75,396.9 189,382.8 189.25,392.3 189.5,381.5 189.75,396.8 190,382.8 190.25,393.2 190.5,382.3 190.75,399.1 191,382.3 191.25,392.8 191.5,380.4 191.75,392.6 192,384.9 192.25,393.8 192.5,378.3 192.75,390.7 193,377.3 193.25,391.5 193.5,383.9 193.75,394.4 194,382.4 194.25,399.7 194.5,382.6 194.75,392.7 195,381.8 195.25,395.8 195.5,382.3 195.75,399.4 196,382.3 196.25,392.4 196.5,382.1 196.75,392.2 197,380.3 197.25,394.0 197.5,381.9 197.75,394.0 198,383.4 198.25,398.8 198.5,371.8 198.75,394.4 199,382.5 199.25,393.7 199.5,382.7 199.75,392.0 200,381.9 200.25,393.2 200.5,382.4 200.75,398.9 201,381.9 201.25,392.9 201.5,380.7 201.75,398.8 202,382.0 202.25,393.5 202.5,383.6 202.75,392.2 203,382.8 203.25,393.8 203.5,381.4 203.75,393.9 204,384.1 204.25,392.2 204.5,381.9 204.75,401.5 205,384.2 205.25,396.6 205.5,383.5 205.75,394.0 206,384.4 206.25,394.0 206.5,381.5 206.75,394.0 207,381.9 207.25,394.8 207.5,382.5 207.75,396.1 208,382.1 208.25,393.6 208.5,382.2 208.75,393.9 209,374.6 209.25,393.1 209.5,378.9 209.75,395.8 210,382.3 210.25,395.0 210.5,382.4 210.75,402.6 211,379.5 211.25,396.1 211.5,370.9 211.75,395.9 212,383.8 212.25,393.5 212.5,384.0 212.75,393.3 213,383.8 213.25,393.6 213.5,381.7 213.75,394.8 214,377.3 214.25,392.2 214.5,380.2 214.75,391.2 215,383.1 215.25,390.6 215.5,384.2 215.75,391.7 216,385.8 216.25,394.1 216.5,384.2 216.75,393.6 217,385.0 217.25,391.6 217.5,382.4 217.75,395.6 218,383.9 218.25,392.8 218.5,382.8 218.75,394.6 219,382.7 219.25,392.4 219.5,383.6 219.75,397.1 220,382.3 220.25,399.7 220.5,383.4 220.75,397.8 221,381.7 221.25,393.4 221.5,382.2 221.75,393.8 222,383.1 222.25,393.1 222.5,385.1 222.75,403.2 223,380.1 223.25,394.9 223.5,384.6 223.75,396.6 224,382.2 224.25,393.2 224.5,382.8 224.75,395.6 225,374.8 225.25,396.1 225.5,380.6 225.75,398.8 226,384.1 226.25,398.5 226.5,381.1 226.75,394.3 227,382.1 227.25,393.9 227.5,383.3 227.75,392.2 228,382.9 228.25,395.0 228.5,385.4 228.75,393.3 229,383.8 229.25,392.3 229.5,379.5 229.75,393.5 230,370.1 230.25,393.4 230.5,383.0 230.75,393.5 231,383.3 231.25,395.9 231.5,385.2 231.75,401.4 232,385.7 232.25,394.1 232.5,385.4 232.75,397.7 233,385.8 233.25,400.0 233.5,384.9 233.75,392.5 234,384.4 234.25,393.6 234.5,385.3 234.75,400.3 235,384.0 235.25,392.5 235.5,376.0 235.75,393.9 236,383.6 236.25,398.1 236.5,384.2 236.75,392.9 237,382.4 237.25,398.0 237.5,384.6 237.75,402.5 238,381.7 238.25,396.1 238.5,380.0 238.75,398.7 239,383.9 239.25,395.3 239.5,381.8 239.75,397.4 240,384.2 240.25,399.8 240.5,373.2 240.75,393.3 241,383.2 241.25,393.0 241.5,385.9 241.75,394.9 242,386.8 242.25,393.9 242.5,384.7 242.75,391.9 243,380.2 243.25,392.2 243.5,372.3 243.75,393.3 244,385.5 244.25,392.9 244.5,381.2 244.75,396.4 245,381.9 245.25,391.7 245.5,384.2 245.75,394.9 246,383.2 246.25,395.1 246.5,382.5 246.75,397.0 247,384.2 247.25,394.5 247.5,384.6 247.75,401.2 248,382.9 248.25,393.2 248.5,369.3 248.75,392.5 249,383.3 249.25,393.1 249.5,384.6 249.75,394.3 250,382.5 250.25,394.3 250.5,383.6 250.75,395.5 251,381.1 251.25,400.0 251.5,384.3 251.75,402.6 252,385.0 252.25,395.1 252.5,385.3 252.75,394.2 253,384.2 253.25,396.5 253.5,383.6 253.75,395.7 254,380.0 254.25,403.0 254.5,383.8 254.75,394.0 255,384.9 255.25,403.9 255.5,380.9 255.75,403.7 256,382.9 256.25,398.2 256.5,385.0 256.75,395.9 257,384.8 257.25,393.8 257.5,380.4 257.75,395.5 258,383.5 258.25,394.5 258.5,383.4 258.75,395.2 259,375.2 259.25,401.1 259.5,384.3 259.75,395.5 260,384.7 260.25,399.8 260.5,386.7 260.75,396.7 261,386.5 261.25,397.2 261.5,384.1 261.75,400.3 262,385.9 262.25,396.3 262.5,383.7 262.75,394.5 263,383.3 263.25,397.3 263.5,386.1 263.75,395.9 264,384.5 264.25,398.3 264.5,384.4 264.75,400.8 265,384.8 265.25,400.7 265.5,384.4 265.75,397.9 266,383.2 266.25,404.2 266.5,384.6 266.75,397.5 267,378.5 267.25,396.9 267.5,384.3 267.75,397.5 268,384.7 268.25,399.4 268.5,386.3 268.75,399.2 269,384.5 269.25,401.5 269.5,385.4 269.75,395.0 270,386.5 270.25,400.3 270.5,384.0 270.75,398.9 271,380.3 271.25,396.9 271.5,384.5 271.75,395.3 272,385.5 272.25,401.7 272.5,386.9 272.75,401.9 273,389.1 273.25,398.3 273.5,385.7 273.75,395.2 274,385.0 274.25,397.5 274.5,384.7 274.75,401.9 275,380.6 275.25,397.2 275.5,385.5 275.75,402.1 276,384.0 276.25,397.6 276.5,385.8 276.75,395.4 277,384.1 277.25,397.4 277.5,387.1 277.75,396.9 278,386.5 278.25,397.4 278.5,385.6 278.75,398.5 279,381.9 279.25,401.1 279.5,386.2 279.75,397.3 280,390.3 280.25,396.0 280.5,388.9 280.75,399.4 281,386.7 281.25,404.0 281.5,386.7 281.75,398.9 282,385.7 282.25,399.9 282.5,385.1 282.75,398.4 283,386.2 283.25,399.5 283.5,384.7 283.75,406.4 284,385.5 284.25,398.9 284.5,385.5 284.75,397.5 285,385.2 285.25,402.6 285.5,390.2 285.75,406.3 286,386.3 286.25,397.6 286.5,386.0 286.75,402.2 287,385.5 287.25,397.6 287.5,386.4 287.75,397.4 288,385.1 288.25,397.7 288.5,388.4 288.75,397.4 289,386.0 289.25,397.5 289.5,386.5 289.75,398.8 290,385.2 290.25,398.4 290.5,385.3 290.75,398.3 291,388.0 291.25,405.2 291.5,385.8 291.75,405.5 292,385.0 292.25,406.6 292.5,386.3 292.75,404.3 293,383.9 293.25,402.7 293.5,375.3 293.75,397.8 294,387.7 294.25,398.9 294.5,385.4 294.75,399.4 295,382.3 295.25,403.6 295.5,387.9 295.75,397.4 296,386.1 296.25,401.5 296.5,386.7 296.75,400.5 297,388.7 297.25,406.7 297.5,383.8 297.75,399.0 298,388.2 298.25,397.6 298.5,384.8 298.75,397.6 299,380.8 299.25,399.8 299.5,387.9 299.75,397.4 300,386.9 300.25,398.3 300.5,385.8 300.75,406.0 301,387.1 301.25,397.0 301.5,383.9 301.75,400.7 302,386.0 302.25,396.5 302.5,384.8 302.75,396.8 303,387.9 303.25,397.8 303.5,386.7 303.75,406.4 304,385.2 304.25,402.2 304.5,389.3 304.75,406.0 305,387.2 305.25,406.4 305.5,387.6 305.75,397.2 306,387.3 306.25,398.3 306.5,388.0 306.75,400.0 307,387.0 307.25,398.5 307.5,382.8 307.75,398.2 308,385.2 308.25,399.3 308.5,384.3 308.75,404.5 309,384.4 309.25,401.8 309.5,387.2 309.75,398.1 310,386.6 310.25,398.7 310.5,389.7 310.75,398.1 311,387.0 311.25,400.5 311.5,387.9 311.75,401.4 312,388.3 312.25,403.8 312.5,387.0 312.75,407.5 313,386.8 313.25,400.8 313.5,388.3 313.75,403.6 314,385.1 314.25,398.2 314.5,387.4" stroke="#00f" stroke-width="0.52"/>
</g>
<text x="142.3" y="362.75" font-size="10.6" text-anchor="end" fill="#262626">50</text>
<text x="142.3" y="388.45" font-size="10.6" text-anchor="end" fill="#262626">0</text>
<text x="142.3" y="414.15" font-size="10.6" text-anchor="end" fill="#262626">-50</text>
<text x="142.3" y="439.85" font-size="10.6" text-anchor="end" fill="#262626">-100</text>
<text x="142.3" y="465.55" font-size="10.6" text-anchor="end" fill="#262626">-150</text>
<text x="142.3" y="491.25" font-size="10.6" text-anchor="end" fill="#262626">-200</text>
<text x="145.5" y="501" font-size="10.6" text-anchor="middle" fill="#262626">0</text>
<text x="198.31" y="501" font-size="10.6" text-anchor="middle" fill="#262626">1000</text>
<text x="251.12" y="501" font-size="10.6" text-anchor="middle" fill="#262626">2000</text>
<text x="303.94" y="501" font-size="10.6" text-anchor="middle" fill="#262626">3000</text>
<text x="229.3" y="515.5" font-size="11.3" text-anchor="middle" fill="#262626"><tspan font-style="italic">f</tspan>(Hz)</text>
<text x="118" y="422.75" font-size="11.3" text-anchor="middle" fill="#262626" transform="rotate(-90 118 422.75)">SPL(dBA)</text>
<rect x="260.5" y="432.5" width="47.5" height="46" fill="#fff" stroke="#808080" stroke-width="0.5"/>
<path d="M262 438.8H278" stroke="#000" stroke-width="2"/>
<path d="M262 450H278" stroke="#f00" stroke-width="1" stroke-dasharray="3.2 3.3"/>
<path d="M262 461.2H278" stroke="#0f0" stroke-width="1" stroke-dasharray="3 1 1 1"/>
<path d="M262 472.4H278" stroke="#00f" stroke-width="0.5"/>
<text x="280" y="442.3" font-size="7.65" text-anchor="start" fill="#000">Total</text>
<text x="280" y="453.5" font-size="7.65" text-anchor="start" fill="#000">Transf.1</text>
<text x="280" y="464.7" font-size="7.65" text-anchor="start" fill="#000">Transf.2</text>
<text x="280" y="475.9" font-size="7.65" text-anchor="start" fill="#000">Transf.3</text>
</g>
<g>
<rect x="109.5" y="519.5" width="207.5" height="163.5" fill="#f3f3f3"/>
<rect x="145.5" y="524.0" width="169" height="129" fill="#fff"/>
<rect x="145.5" y="524.0" width="169" height="129" fill="none" stroke="#808080" stroke-width="0.5"/>
<path d="M145.5 653.0v-1.7M145.5 524.0v1.7M198.31 653.0v-1.7M198.31 524.0v1.7M251.12 653.0v-1.7M251.12 524.0v1.7M303.94 653.0v-1.7M303.94 524.0v1.7M145.5 524h1.7M314.5 524h-1.7M145.5 567h1.7M314.5 567h-1.7M145.5 610h1.7M314.5 610h-1.7M145.5 653h1.7M314.5 653h-1.7" stroke="#808080" stroke-width="0.5" fill="none"/>
<g fill="none" stroke-linejoin="round">
<polyline points="145.5,640.5 145.75,618.8 146,600.6 146.25,594.1 146.5,580.4 146.75,580.2 147,573.9 147.25,576.8 147.5,565.7 147.75,572.8 148,565.8 148.25,571.5 148.5,564.6 148.75,569.2 149,563.7 149.25,572.9 149.5,563.4 149.75,571.7 150,565.8 150.25,571.0 150.5,564.3 150.75,553.3 151,549.5 151.25,556.3 151.5,561.7 151.75,569.6 152,564.3 152.25,569.7 152.5,564.9 152.75,571.4 153,564.5 153.25,563.4 153.5,558.4 153.75,564.2 154,561.5 154.25,570.1 154.5,563.6 154.75,569.4 155,566.3 155.25,572.9 155.5,563.8 155.75,552.0 156,546.8 156.25,551.0 156.5,564.1 156.75,570.7 157,562.4 157.25,572.5 157.5,563.3 157.75,570.1 158,560.3 158.25,572.9 158.5,561.1 158.75,565.0 159,557.5 159.25,563.8 159.5,561.9 159.75,569.3 160,563.2 160.25,571.6 160.5,564.0 160.75,569.8 161,563.5 161.25,554.3 161.5,548.4 161.75,553.4 162,559.8 162.25,568.9 162.5,559.1 162.75,569.2 163,563.2 163.25,571.8 163.5,561.7 163.75,568.8 164,564.2 164.25,567.7 164.5,564.0 164.75,571.1 165,562.4 165.25,569.7 165.5,563.2 165.75,567.2 166,563.0 166.25,558.5 166.5,550.8 166.75,554.6 167,563.5 167.25,570.5 167.5,563.8 167.75,568.7 168,565.6 168.25,570.1 168.5,563.1 168.75,570.9 169,562.8 169.25,565.4 169.5,558.4 169.75,563.6 170,564.1 170.25,571.8 170.5,563.6 170.75,570.8 171,563.4 171.25,571.8 171.5,561.0 171.75,560.5 172,553.2 172.25,557.6 172.5,559.3 172.75,570.9 173,561.8 173.25,572.5 173.5,563.1 173.75,571.3 174,563.1 174.25,562.5 174.5,555.8 174.75,559.6 175,564.4 175.25,571.2 175.5,564.6 175.75,571.5 176,563.5 176.25,570.6 176.5,563.4 176.75,572.0 177,562.7 177.25,552.9 177.5,545.7 177.75,549.2 178,563.4 178.25,570.3 178.5,564.4 178.75,570.6 179,566.2 179.25,571.2 179.5,564.3 179.75,555.9 180,550.8 180.25,558.1 180.5,561.3 180.75,571.3 181,561.4 181.25,569.6 181.5,562.4 181.75,569.5 182,563.5 182.25,559.1 182.5,551.6 182.75,559.2 183,565.1 183.25,570.7 183.5,563.1 183.75,571.2 184,564.3 184.25,570.5 184.5,565.8 184.75,562.7 185,556.7 185.25,562.4 185.5,563.7 185.75,570.5 186,565.1 186.25,571.6 186.5,563.7 186.75,571.1 187,563.0 187.25,571.0 187.5,565.5 187.75,551.3 188,546.4 188.25,552.4 188.5,559.9 188.75,568.3 189,560.5 189.25,570.2 189.5,562.4 189.75,570.0 190,561.6 190.25,569.3 190.5,562.6 190.75,568.4 191,560.7 191.25,571.4 191.5,559.9 191.75,572.1 192,561.6 192.25,568.8 192.5,562.6 192.75,561.7 193,554.8 193.25,559.6 193.5,562.5 193.75,571.1 194,562.8 194.25,570.1 194.5,559.5 194.75,570.9 195,563.9 195.25,571.7 195.5,563.3 195.75,572.8 196,561.5 196.25,570.3 196.5,558.7 196.75,570.0 197,564.4 197.25,570.4 197.5,564.3 197.75,572.0 198,563.3 198.25,564.1 198.5,556.4 198.75,564.1 199,562.4 199.25,569.4 199.5,564.8 199.75,569.4 200,561.9 200.25,571.4 200.5,560.2 200.75,571.9 201,562.2 201.25,570.5 201.5,564.2 201.75,571.6 202,562.9 202.25,571.1 202.5,561.9 202.75,569.7 203,561.6 203.25,565.1 203.5,557.5 203.75,562.5 204,561.6 204.25,570.6 204.5,563.6 204.75,570.2 205,565.7 205.25,569.7 205.5,561.9 205.75,571.4 206,563.8 206.25,571.3 206.5,565.3 206.75,569.9 207,563.0 207.25,572.5 207.5,564.2 207.75,571.4 208,562.4 208.25,569.7 208.5,563.3 208.75,563.4 209,558.8 209.25,565.0 209.5,566.1 209.75,570.6 210,563.8 210.25,571.4 210.5,564.8 210.75,571.8 211,566.7 211.25,572.6 211.5,563.9 211.75,570.7 212,563.9 212.25,570.6 212.5,563.1 212.75,570.6 213,564.7 213.25,572.1 213.5,563.8 213.75,571.0 214,564.2 214.25,562.4 214.5,555.4 214.75,561.1 215,563.5 215.25,571.0 215.5,560.6 215.75,570.7 216,564.8 216.25,571.1 216.5,563.6 216.75,571.4 217,562.5 217.25,571.1 217.5,562.8 217.75,569.4 218,564.2 218.25,570.8 218.5,566.1 218.75,573.0 219,563.7 219.25,566.6 219.5,560.5 219.75,567.0 220,562.4 220.25,571.5 220.5,561.4 220.75,573.0 221,564.3 221.25,570.9 221.5,563.3 221.75,563.5 222,556.2 222.25,562.6 222.5,566.0 222.75,571.1 223,559.3 223.25,571.1 223.5,566.6 223.75,573.0 224,564.3 224.25,572.7 224.5,563.3 224.75,563.2 225,558.0 225.25,561.7 225.5,562.2 225.75,572.4 226,563.1 226.25,569.5 226.5,558.6 226.75,570.0 227,563.0 227.25,569.7 227.5,562.2 227.75,570.9 228,560.5 228.25,570.8 228.5,559.9 228.75,571.4 229,559.4 229.25,572.5 229.5,562.1 229.75,564.4 230,558.0 230.25,562.8 230.5,564.4 230.75,571.5 231,561.7 231.25,569.7 231.5,565.1 231.75,571.9 232,563.3 232.25,573.1 232.5,563.1 232.75,571.7 233,564.8 233.25,572.0 233.5,564.9 233.75,571.5 234,563.0 234.25,570.5 234.5,562.8 234.75,570.5 235,561.7 235.25,572.2 235.5,562.7 235.75,571.0 236,562.0 236.25,570.5 236.5,565.3 236.75,573.9 237,562.2 237.25,570.8 237.5,564.8 237.75,571.5 238,564.9 238.25,572.2 238.5,563.7 238.75,571.8 239,561.8 239.25,574.6 239.5,564.9 239.75,572.1 240,564.2 240.25,564.2 240.5,558.4 240.75,565.2 241,566.5 241.25,576.8 241.5,563.3 241.75,572.8 242,564.5 242.25,575.9 242.5,566.5 242.75,572.9 243,564.6 243.25,572.2 243.5,564.4 243.75,570.3 244,566.1 244.25,571.7 244.5,563.0 244.75,570.7 245,563.5 245.25,573.3 245.5,561.1 245.75,561.7 246,558.0 246.25,565.1 246.5,561.6 246.75,570.7 247,560.2 247.25,571.8 247.5,562.5 247.75,569.5 248,560.1 248.25,569.7 248.5,562.5 248.75,569.6 249,565.0 249.25,570.6 249.5,557.7 249.75,569.2 250,563.6 250.25,570.1 250.5,562.1 250.75,565.3 251,558.8 251.25,566.2 251.5,563.7 251.75,570.8 252,561.2 252.25,570.6 252.5,562.6 252.75,573.5 253,561.7 253.25,573.0 253.5,564.1 253.75,574.7 254,565.2 254.25,572.9 254.5,560.4 254.75,577.2 255,561.9 255.25,575.5 255.5,560.9 255.75,573.3 256,559.5 256.25,564.0 256.5,558.0 256.75,564.3 257,564.6 257.25,574.4 257.5,564.2 257.75,574.7 258,562.3 258.25,572.4 258.5,564.9 258.75,572.2 259,565.7 259.25,575.4 259.5,562.6 259.75,573.6 260,563.7 260.25,575.0 260.5,564.6 260.75,574.2 261,563.5 261.25,571.9 261.5,565.0 261.75,574.4 262,563.0 262.25,572.3 262.5,564.2 262.75,573.0 263,563.5 263.25,573.1 263.5,561.8 263.75,574.0 264,560.4 264.25,575.5 264.5,563.7 264.75,574.5 265,564.9 265.25,572.3 265.5,562.3 265.75,572.9 266,561.6 266.25,572.1 266.5,563.1 266.75,571.4 267,561.5 267.25,572.8 267.5,560.7 267.75,572.3 268,561.3 268.25,572.6 268.5,561.8 268.75,572.3 269,563.5 269.25,573.8 269.5,565.1 269.75,572.0 270,562.1 270.25,571.6 270.5,567.1 270.75,572.3 271,563.9 271.25,572.3 271.5,564.2 271.75,571.6 272,565.5 272.25,564.3 272.5,559.5 272.75,565.1 273,565.1 273.25,574.1 273.5,566.6 273.75,571.8 274,565.5 274.25,573.0 274.5,563.7 274.75,572.5 275,562.4 275.25,572.8 275.5,563.5 275.75,572.3 276,564.4 276.25,572.2 276.5,562.9 276.75,572.2 277,564.6 277.25,572.1 277.5,563.8 277.75,572.2 278,562.8 278.25,572.5 278.5,566.0 278.75,571.9 279,562.3 279.25,571.3 279.5,561.3 279.75,572.1 280,566.5 280.25,572.7 280.5,563.2 280.75,572.8 281,567.0 281.25,572.4 281.5,562.9 281.75,576.0 282,564.4 282.25,571.8 282.5,564.5 282.75,563.1 283,559.0 283.25,563.8 283.5,563.9 283.75,571.5 284,565.9 284.25,573.4 284.5,564.4 284.75,572.2 285,565.6 285.25,573.1 285.5,564.9 285.75,572.6 286,564.1 286.25,572.4 286.5,565.9 286.75,570.8 287,563.5 287.25,571.1 287.5,563.2 287.75,572.2 288,566.4 288.25,573.1 288.5,563.3 288.75,572.6 289,565.0 289.25,571.7 289.5,562.5 289.75,572.1 290,562.8 290.25,572.0 290.5,565.2 290.75,572.8 291,561.6 291.25,572.1 291.5,563.6 291.75,572.8 292,563.9 292.25,572.7 292.5,563.7 292.75,572.9 293,564.7 293.25,573.7 293.5,563.4 293.75,573.4 294,561.4 294.25,571.6 294.5,561.8 294.75,572.9 295,561.1 295.25,572.4 295.5,561.5 295.75,571.6 296,563.2 296.25,573.2 296.5,564.3 296.75,572.8 297,565.9 297.25,573.3 297.5,566.8 297.75,571.5 298,564.2 298.25,572.5 298.5,564.3 298.75,564.5 299,558.8 299.25,565.0 299.5,566.3 299.75,571.3 300,565.3 300.25,571.9 300.5,560.5 300.75,573.1 301,564.8 301.25,572.6 301.5,562.2 301.75,571.9 302,563.5 302.25,575.3 302.5,564.2 302.75,572.5 303,565.9 303.25,571.5 303.5,564.4 303.75,567.3 304,559.9 304.25,566.8 304.5,560.6 304.75,572.9 305,563.6 305.25,574.5 305.5,562.7 305.75,573.3 306,564.9 306.25,574.3 306.5,559.9 306.75,573.4 307,565.1 307.25,573.2 307.5,562.9 307.75,575.0 308,564.4 308.25,572.9 308.5,564.5 308.75,573.0 309,564.4 309.25,575.0 309.5,565.7 309.75,573.2 310,561.0 310.25,572.5 310.5,563.8 310.75,573.6 311,566.7 311.25,574.7 311.5,562.5 311.75,575.8 312,565.3 312.25,574.1 312.5,564.9 312.75,576.7 313,563.6 313.25,574.1 313.5,564.4 313.75,574.9 314,562.3 314.25,574.1 314.5,562.4" stroke="#000" stroke-width="1.6"/>
<polyline points="145.5,641.4 145.75,620.9 146,600.8 146.25,599.0 146.5,580.9 146.75,587.3 147,573.2 147.25,584.5 147.5,568.4 147.75,577.6 148,566.2 148.25,576.8 148.5,564.5 148.75,578.1 149,565.4 149.25,579.2 149.5,565.8 149.75,575.8 150,564.7 150.25,575.5 150.5,563.5 150.75,575.9 151,553.4 151.25,575.2 151.5,563.0 151.75,576.3 152,564.5 152.25,575.5 152.5,564.5 152.75,576.0 153,564.6 153.25,577.5 153.5,562.6 153.75,575.8 154,564.1 154.25,576.5 154.5,565.5 154.75,577.3 155,565.0 155.25,576.1 155.5,564.1 155.75,577.0 156,549.0 156.25,577.7 156.5,563.8 156.75,575.8 157,563.5 157.25,577.4 157.5,564.6 157.75,576.0 158,562.5 158.25,576.3 158.5,562.4 158.75,576.2 159,559.6 159.25,575.4 159.5,560.4 159.75,581.9 160,562.9 160.25,581.0 160.5,563.3 160.75,577.8 161,562.5 161.25,579.5 161.5,550.4 161.75,575.5 162,564.6 162.25,575.2 162.5,562.5 162.75,576.7 163,562.3 163.25,576.8 163.5,563.0 163.75,574.8 164,563.9 164.25,575.3 164.5,565.0 164.75,575.8 165,564.6 165.25,575.0 165.5,563.5 165.75,576.3 166,565.3 166.25,576.7 166.5,556.5 166.75,575.2 167,563.8 167.25,576.5 167.5,563.8 167.75,577.8 168,564.3 168.25,576.7 168.5,563.5 168.75,579.9 169,563.1 169.25,578.4 169.5,564.3 169.75,579.7 170,564.1 170.25,576.8 170.5,564.2 170.75,577.0 171,563.0 171.25,579.0 171.5,563.7 171.75,577.8 172,555.0 172.25,577.5 172.5,562.7 172.75,579.2 173,562.6 173.25,578.9 173.5,563.1 173.75,579.1 174,562.8 174.25,579.3 174.5,560.7 174.75,576.8 175,564.1 175.25,577.5 175.5,565.2 175.75,577.1 176,563.8 176.25,576.6 176.5,565.0 176.75,577.1 177,562.9 177.25,576.5 177.5,548.6 177.75,578.3 178,563.6 178.25,576.1 178.5,564.4 178.75,576.8 179,564.8 179.25,576.4 179.5,565.8 179.75,578.9 180,555.4 180.25,582.5 180.5,564.9 180.75,581.8 181,565.3 181.25,575.6 181.5,565.1 181.75,575.8 182,564.2 182.25,575.2 182.5,556.5 182.75,576.6 183,565.2 183.25,577.2 183.5,565.1 183.75,576.0 184,564.4 184.25,577.0 184.5,565.5 184.75,576.9 185,557.8 185.25,575.8 185.5,566.0 185.75,575.9 186,565.1 186.25,576.1 186.5,567.3 186.75,575.5 187,561.4 187.25,575.9 187.5,565.1 187.75,574.6 188,553.1 188.25,577.9 188.5,564.1 188.75,576.8 189,563.5 189.25,574.9 189.5,562.7 189.75,580.1 190,563.2 190.25,575.7 190.5,563.6 190.75,574.9 191,562.1 191.25,575.6 191.5,563.2 191.75,575.2 192,562.5 192.25,576.4 192.5,562.3 192.75,576.4 193,555.7 193.25,575.3 193.5,564.2 193.75,579.7 194,564.0 194.25,576.5 194.5,562.7 194.75,578.7 195,562.1 195.25,580.2 195.5,563.7 195.75,576.2 196,562.7 196.25,576.0 196.5,562.9 196.75,576.4 197,563.8 197.25,575.9 197.5,563.3 197.75,582.3 198,563.2 198.25,580.2 198.5,559.2 198.75,575.6 199,562.9 199.25,576.6 199.5,563.5 199.75,576.1 200,564.3 200.25,578.9 200.5,560.5 200.75,576.7 201,562.0 201.25,576.7 201.5,562.9 201.75,576.7 202,562.5 202.25,578.5 202.5,562.3 202.75,576.1 203,562.5 203.25,577.3 203.5,563.3 203.75,578.2 204,563.8 204.25,577.1 204.5,563.4 204.75,579.5 205,564.6 205.25,578.0 205.5,564.0 205.75,582.8 206,565.0 206.25,581.7 206.5,566.2 206.75,578.5 207,563.2 207.25,576.7 207.5,563.9 207.75,576.3 208,563.9 208.25,577.1 208.5,564.5 208.75,576.4 209,563.3 209.25,580.4 209.5,564.2 209.75,582.8 210,564.1 210.25,576.2 210.5,564.3 210.75,577.8 211,565.3 211.25,576.8 211.5,563.1 211.75,583.2 212,564.3 212.25,576.5 212.5,563.1 212.75,579.9 213,564.0 213.25,578.7 213.5,564.2 213.75,577.5 214,564.2 214.25,577.7 214.5,561.7 214.75,578.0 215,564.4 215.25,577.0 215.5,565.3 215.75,575.7 216,564.8 216.25,575.5 216.5,563.3 216.75,575.8 217,560.6 217.25,576.2 217.5,565.5 217.75,580.0 218,564.3 218.25,575.9 218.5,566.3 218.75,581.8 219,565.9 219.25,578.2 219.5,564.5 219.75,579.5 220,565.8 220.25,582.2 220.5,564.8 220.75,578.1 221,565.9 221.25,580.3 221.5,565.6 221.75,578.1 222,560.3 222.25,579.1 222.5,564.3 222.75,578.6 223,559.3 223.25,578.0 223.5,565.5 223.75,576.9 224,563.5 224.25,578.4 224.5,562.1 224.75,582.3 225,559.2 225.25,579.9 225.5,562.5 225.75,577.9 226,562.5 226.25,578.1 226.5,560.0 226.75,576.1 227,562.9 227.25,578.4 227.5,561.9 227.75,575.1 228,563.2 228.25,576.4 228.5,559.5 228.75,576.4 229,564.3 229.25,578.4 229.5,562.8 229.75,575.9 230,563.3 230.25,577.7 230.5,564.1 230.75,582.5 231,563.7 231.25,578.1 231.5,563.8 231.75,576.0 232,563.2 232.25,578.4 232.5,562.6 232.75,579.1 233,564.5 233.25,576.7 233.5,564.2 233.75,579.4 234,565.0 234.25,576.8 234.5,563.0 234.75,580.5 235,563.4 235.25,577.8 235.5,563.2 235.75,578.8 236,561.7 236.25,580.5 236.5,564.1 236.75,578.1 237,565.0 237.25,578.8 237.5,564.0 237.75,577.6 238,564.9 238.25,577.9 238.5,564.7 238.75,578.2 239,565.1 239.25,578.4 239.5,565.9 239.75,578.4 240,565.1 240.25,586.7 240.5,561.8 240.75,578.9 241,564.9 241.25,577.6 241.5,564.9 241.75,578.2 242,565.6 242.25,577.6 242.5,566.3 242.75,579.5 243,563.7 243.25,576.3 243.5,564.8 243.75,578.5 244,564.5 244.25,577.2 244.5,563.8 244.75,575.3 245,562.8 245.25,575.6 245.5,563.4 245.75,575.5 246,562.6 246.25,576.1 246.5,565.0 246.75,578.0 247,565.4 247.25,574.2 247.5,563.4 247.75,574.9 248,564.6 248.25,574.5 248.5,564.0 248.75,575.8 249,564.1 249.25,576.8 249.5,564.1 249.75,574.7 250,563.4 250.25,577.6 250.5,564.4 250.75,574.6 251,562.4 251.25,575.8 251.5,563.1 251.75,575.8 252,563.4 252.25,575.5 252.5,563.5 252.75,575.6 253,564.8 253.25,575.4 253.5,565.2 253.75,577.5 254,564.3 254.25,577.5 254.5,560.8 254.75,578.0 255,563.4 255.25,576.4 255.5,562.9 255.75,576.0 256,563.9 256.25,575.8 256.5,559.6 256.75,577.6 257,562.9 257.25,580.1 257.5,564.4 257.75,579.8 258,564.0 258.25,576.1 258.5,563.5 258.75,576.5 259,564.9 259.25,577.5 259.5,563.8 259.75,574.4 260,564.5 260.25,576.7 260.5,565.2 260.75,575.1 261,563.2 261.25,575.6 261.5,565.4 261.75,575.3 262,563.4 262.25,574.7 262.5,562.6 262.75,576.3 263,561.6 263.25,575.1 263.5,562.0 263.75,576.9 264,563.3 264.25,576.6 264.5,562.4 264.75,575.4 265,563.5 265.25,574.3 265.5,562.0 265.75,573.8 266,561.8 266.25,573.0 266.5,564.2 266.75,572.8 267,562.2 267.25,573.6 267.5,563.2 267.75,575.7 268,565.0 268.25,576.4 268.5,560.8 268.75,573.6 269,563.4 269.25,575.2 269.5,564.0 269.75,573.7 270,565.1 270.25,575.5 270.5,566.1 270.75,573.2 271,564.0 271.25,577.1 271.5,566.6 271.75,572.5 272,564.4 272.25,572.6 272.5,565.7 272.75,573.1 273,567.3 273.25,583.8 273.5,567.3 273.75,572.8 274,565.2 274.25,574.4 274.5,565.7 274.75,573.3 275,564.4 275.25,573.6 275.5,564.6 275.75,573.1 276,563.1 276.25,573.1 276.5,565.2 276.75,574.2 277,564.3 277.25,573.0 277.5,564.6 277.75,573.1 278,564.7 278.25,573.3 278.5,567.8 278.75,574.1 279,565.1 279.25,577.9 279.5,566.3 279.75,573.9 280,566.8 280.25,573.6 280.5,565.6 280.75,574.0 281,566.0 281.25,579.6 281.5,561.2 281.75,576.9 282,563.2 282.25,572.7 282.5,563.5 282.75,574.0 283,559.3 283.25,573.0 283.5,565.6 283.75,577.6 284,565.1 284.25,574.3 284.5,564.7 284.75,573.7 285,565.3 285.25,574.0 285.5,566.0 285.75,573.6 286,566.9 286.25,576.1 286.5,567.0 286.75,572.1 287,567.0 287.25,579.2 287.5,566.7 287.75,573.1 288,565.0 288.25,577.1 288.5,565.9 288.75,573.4 289,566.4 289.25,573.3 289.5,562.0 289.75,573.4 290,566.0 290.25,580.0 290.5,565.8 290.75,573.6 291,564.5 291.25,573.9 291.5,565.5 291.75,574.3 292,563.5 292.25,573.6 292.5,565.1 292.75,573.8 293,564.8 293.25,574.6 293.5,564.1 293.75,574.2 294,564.9 294.25,575.9 294.5,562.7 294.75,574.1 295,562.8 295.25,573.3 295.5,564.5 295.75,575.9 296,565.5 296.25,579.3 296.5,564.7 296.75,573.6 297,566.2 297.25,574.2 297.5,567.9 297.75,573.5 298,564.9 298.25,573.4 298.5,565.8 298.75,575.4 299,564.2 299.25,574.5 299.5,564.5 299.75,573.5 300,564.6 300.25,573.6 300.5,559.6 300.75,575.7 301,565.3 301.25,573.5 301.5,565.7 301.75,576.0 302,563.9 302.25,576.2 302.5,564.4 302.75,575.9 303,564.9 303.25,574.7 303.5,563.2 303.75,578.2 304,560.1 304.25,579.5 304.5,564.6 304.75,574.2 305,563.9 305.25,575.6 305.5,563.2 305.75,574.1 306,563.4 306.25,575.2 306.5,563.0 306.75,575.2 307,564.4 307.25,576.8 307.5,564.7 307.75,575.9 308,564.9 308.25,574.2 308.5,564.6 308.75,574.9 309,564.8 309.25,575.8 309.5,565.1 309.75,574.0 310,564.9 310.25,576.0 310.5,566.8 310.75,574.5 311,565.9 311.25,575.5 311.5,566.1 311.75,576.7 312,568.4 312.25,574.9 312.5,567.3 312.75,577.5 313,567.9 313.25,575.8 313.5,565.9 313.75,579.1 314,567.1 314.25,574.9 314.5,565.9" stroke="#f00" stroke-width="0.8"/>
<polyline points="145.5,641.0 145.75,619.3 146,601.8 146.25,594.8 146.5,580.4 146.75,581.0 147,573.4 147.25,579.6 147.5,565.1 147.75,576.0 148,565.5 148.25,572.3 148.5,566.0 148.75,570.1 149,564.9 149.25,577.8 149.5,563.1 149.75,576.7 150,564.5 150.25,571.9 150.5,563.4 150.75,570.2 151,553.2 151.25,571.4 151.5,562.0 151.75,570.5 152,563.7 152.25,570.6 152.5,563.4 152.75,572.4 153,564.3 153.25,571.5 153.5,560.2 153.75,571.3 154,561.7 154.25,571.0 154.5,564.6 154.75,570.3 155,565.6 155.25,577.0 155.5,565.4 155.75,571.1 156,552.3 156.25,570.4 156.5,563.6 156.75,571.6 157,561.2 157.25,573.5 157.5,562.6 157.75,571.0 158,559.1 158.25,575.1 158.5,561.1 158.75,571.5 159,562.2 159.25,570.0 159.5,563.7 159.75,570.2 160,562.5 160.25,572.4 160.5,564.6 160.75,570.7 161,564.8 161.25,575.8 161.5,549.2 161.75,572.1 162,559.2 162.25,569.8 162.5,559.0 162.75,570.0 163,562.7 163.25,572.7 163.5,561.6 163.75,569.7 164,564.4 164.25,568.6 164.5,564.9 164.75,573.0 165,561.5 165.25,570.6 165.5,561.6 165.75,568.0 166,563.1 166.25,569.5 166.5,551.9 166.75,570.8 167,565.1 167.25,571.3 167.5,565.8 167.75,569.6 168,567.3 168.25,571.0 168.5,565.6 168.75,571.8 169,564.2 169.25,571.4 169.5,564.5 169.75,573.2 170,564.4 170.25,572.7 170.5,562.0 170.75,571.6 171,563.5 171.25,572.7 171.5,560.8 171.75,573.1 172,559.7 172.25,571.7 172.5,558.9 172.75,571.7 173,561.8 173.25,573.4 173.5,561.5 173.75,572.2 174,562.6 174.25,577.0 174.5,557.9 174.75,571.0 175,565.1 175.25,572.1 175.5,564.1 175.75,573.5 176,564.5 176.25,571.4 176.5,563.2 176.75,572.9 177,563.8 177.25,570.3 177.5,549.0 177.75,570.9 178,563.7 178.25,571.2 178.5,564.2 178.75,571.5 179,564.8 179.25,576.5 179.5,562.5 179.75,581.2 180,555.0 180.25,572.8 180.5,561.1 180.75,572.8 181,560.4 181.25,570.5 181.5,561.7 181.75,570.4 182,563.0 182.25,570.1 182.5,552.5 182.75,570.7 183,563.7 183.25,571.9 183.5,563.0 183.75,572.5 184,565.0 184.25,571.3 184.5,564.6 184.75,573.9 185,560.7 185.25,570.8 185.5,561.9 185.75,571.4 186,564.2 186.25,572.4 186.5,562.8 186.75,574.3 187,564.3 187.25,571.9 187.5,563.6 187.75,570.2 188,552.3 188.25,569.2 188.5,558.8 188.75,569.2 189,560.0 189.25,571.0 189.5,561.8 189.75,572.1 190,560.0 190.25,570.2 190.5,560.7 190.75,569.3 191,558.9 191.25,574.0 191.5,559.9 191.75,577.0 192,562.4 192.25,569.7 192.5,562.0 192.75,576.8 193,556.7 193.25,569.7 193.5,560.8 193.75,571.9 194,561.4 194.25,570.9 194.5,559.9 194.75,571.7 195,562.1 195.25,572.6 195.5,563.1 195.75,575.3 196,559.6 196.25,571.1 196.5,559.0 196.75,570.9 197,563.4 197.25,571.2 197.5,564.2 197.75,572.9 198,562.0 198.25,573.3 198.5,561.7 198.75,571.3 199,562.7 199.25,570.3 199.5,563.9 199.75,570.3 200,561.6 200.25,572.3 200.5,564.2 200.75,572.7 201,562.2 201.25,571.3 201.5,563.1 201.75,572.8 202,563.9 202.25,573.4 202.5,562.3 202.75,570.6 203,561.8 203.25,571.8 203.5,559.8 203.75,570.3 204,561.3 204.25,571.5 204.5,563.7 204.75,571.1 205,564.7 205.25,570.5 205.5,561.2 205.75,573.6 206,564.1 206.25,572.1 206.5,563.8 206.75,570.8 207,565.2 207.25,573.4 207.5,562.3 207.75,573.3 208,561.4 208.25,570.5 208.5,563.1 208.75,571.6 209,562.6 209.25,576.9 209.5,565.6 209.75,571.5 210,564.1 210.25,572.6 210.5,563.8 210.75,572.7 211,567.4 211.25,573.4 211.5,565.4 211.75,571.6 212,562.6 212.25,571.5 212.5,565.2 212.75,571.4 213,565.0 213.25,573.6 213.5,562.5 213.75,571.9 214,565.2 214.25,574.9 214.5,557.5 214.75,577.9 215,565.0 215.25,573.6 215.5,560.8 215.75,571.5 216,565.3 216.25,574.5 216.5,562.7 216.75,577.5 217,561.9 217.25,574.0 217.5,562.8 217.75,570.3 218,563.5 218.25,571.6 218.5,564.5 218.75,575.0 219,562.6 219.25,572.5 219.5,562.0 219.75,573.0 220,562.6 220.25,572.4 220.5,560.9 220.75,573.9 221,564.4 221.25,571.7 221.5,563.1 221.75,574.2 222,557.0 222.25,572.8 222.5,565.8 222.75,572.0 223,562.4 223.25,572.0 223.5,564.9 223.75,575.0 224,563.2 224.25,573.5 224.5,564.7 224.75,572.8 225,560.7 225.25,570.9 225.5,561.9 225.75,573.3 226,562.5 226.25,570.3 226.5,558.8 226.75,570.9 227,564.7 227.25,570.5 227.5,565.0 227.75,572.0 228,560.4 228.25,571.6 228.5,561.3 228.75,572.5 229,559.2 229.25,573.4 229.5,561.7 229.75,571.2 230,562.5 230.25,570.8 230.5,563.8 230.75,577.8 231,562.1 231.25,570.5 231.5,566.0 231.75,572.7 232,565.9 232.25,574.0 232.5,565.3 232.75,572.5 233,564.2 233.25,573.0 233.5,563.8 233.75,572.4 234,563.4 234.25,571.4 234.5,562.0 234.75,571.3 235,562.1 235.25,577.6 235.5,561.4 235.75,571.9 236,564.2 236.25,571.4 236.5,565.3 236.75,574.8 237,562.1 237.25,571.7 237.5,563.5 237.75,572.3 238,564.1 238.25,573.1 238.5,562.1 238.75,572.7 239,562.3 239.25,575.5 239.5,565.8 239.75,573.0 240,563.9 240.25,574.3 240.5,563.2 240.75,575.1 241,565.2 241.25,580.4 241.5,563.2 241.75,574.8 242,564.5 242.25,576.8 242.5,566.3 242.75,573.8 243,564.0 243.25,573.1 243.5,563.8 243.75,571.2 244,564.2 244.25,572.6 244.5,562.0 244.75,571.5 245,562.0 245.25,574.1 245.5,560.4 245.75,570.7 246,560.7 246.25,570.2 246.5,561.2 246.75,571.6 247,558.3 247.25,572.7 247.5,562.9 247.75,570.4 248,560.3 248.25,570.6 248.5,562.4 248.75,570.4 249,564.4 249.25,572.5 249.5,557.6 249.75,570.0 250,564.1 250.25,570.9 250.5,562.5 250.75,577.6 251,563.2 251.25,577.2 251.5,564.0 251.75,571.7 252,560.7 252.25,571.5 252.5,560.7 252.75,574.6 253,562.1 253.25,573.8 253.5,563.9 253.75,578.9 254,565.2 254.25,573.7 254.5,564.9 254.75,578.1 255,560.5 255.25,580.3 255.5,560.0 255.75,574.2 256,559.8 256.25,574.2 256.5,560.6 256.75,575.2 257,563.2 257.25,580.8 257.5,564.8 257.75,576.6 258,562.4 258.25,573.3 258.5,566.6 258.75,573.1 259,565.4 259.25,586.8 259.5,562.0 259.75,578.5 260,564.1 260.25,575.9 260.5,565.4 260.75,575.3 261,567.3 261.25,572.8 261.5,564.4 261.75,576.7 262,563.4 262.25,573.2 262.5,565.8 262.75,573.8 263,566.3 263.25,574.0 263.5,563.3 263.75,577.5 264,559.3 264.25,577.7 264.5,562.9 264.75,575.9 265,563.4 265.25,573.2 265.5,562.3 265.75,579.5 266,561.5 266.25,573.1 266.5,562.0 266.75,572.2 267,561.7 267.25,574.1 267.5,560.9 267.75,573.1 268,561.3 268.25,573.5 268.5,565.5 268.75,573.1 269,562.5 269.25,574.6 269.5,565.7 269.75,572.8 270,562.3 270.25,572.4 270.5,565.2 270.75,575.5 271,563.8 271.25,573.1 271.5,564.5 271.75,574.7 272,563.8 272.25,576.0 272.5,561.7 272.75,573.6 273,564.4 273.25,574.9 273.5,565.3 273.75,572.7 274,563.9 274.25,573.9 274.5,562.1 274.75,576.3 275,562.0 275.25,574.0 275.5,563.8 275.75,573.7 276,563.7 276.25,574.1 276.5,562.0 276.75,573.1 277,564.7 277.25,576.5 277.5,562.4 277.75,577.1 278,563.1 278.25,575.4 278.5,564.5 278.75,572.7 279,562.7 279.25,572.1 279.5,560.6 279.75,572.9 280,565.3 280.25,574.1 280.5,562.0 280.75,573.6 281,566.4 281.25,573.2 281.5,563.7 281.75,579.2 282,562.8 282.25,572.7 282.5,566.0 282.75,575.6 283,562.2 283.25,572.7 283.5,564.0 283.75,572.4 284,566.0 284.25,575.2 284.5,564.8 284.75,573.1 285,565.1 285.25,574.7 285.5,563.9 285.75,573.4 286,563.8 286.25,575.7 286.5,564.4 286.75,571.6 287,563.3 287.25,571.9 287.5,563.0 287.75,574.0 288,566.9 288.25,574.0 288.5,562.5 288.75,574.3 289,564.4 289.25,572.5 289.5,566.4 289.75,572.9 290,562.9 290.25,572.9 290.5,564.6 290.75,578.1 291,561.8 291.25,573.0 291.5,563.4 291.75,573.7 292,563.9 292.25,576.1 292.5,562.7 292.75,574.1 293,564.6 293.25,579.4 293.5,562.1 293.75,575.9 294,561.8 294.25,572.5 294.5,561.7 294.75,573.7 295,560.9 295.25,575.2 295.5,560.2 295.75,572.4 296,563.0 296.25,574.1 296.5,563.1 296.75,580.0 297,564.0 297.25,579.6 297.5,565.4 297.75,572.4 298,564.7 298.25,573.7 298.5,564.0 298.75,575.7 299,565.1 299.25,573.4 299.5,565.3 299.75,572.1 300,564.1 300.25,572.8 300.5,563.2 300.75,574.0 301,566.2 301.25,577.6 301.5,562.6 301.75,572.8 302,562.6 302.25,577.9 302.5,565.5 302.75,573.4 303,564.0 303.25,572.4 303.5,563.9 303.75,574.2 304,561.5 304.25,573.8 304.5,560.9 304.75,573.8 305,566.1 305.25,579.5 305.5,564.2 305.75,576.6 306,565.8 306.25,578.4 306.5,560.4 306.75,574.2 307,563.5 307.25,574.1 307.5,563.2 307.75,578.6 308,563.8 308.25,573.8 308.5,564.0 308.75,573.9 309,564.9 309.25,576.1 309.5,563.9 309.75,576.8 310,561.1 310.25,573.3 310.5,562.5 310.75,576.0 311,565.0 311.25,576.4 311.5,561.9 311.75,577.0 312,564.1 312.25,576.7 312.5,563.2 312.75,581.8 313,562.2 313.25,575.0 313.5,562.7 313.75,575.8 314,561.4 314.25,581.4 314.5,561.6" stroke="#0f0" stroke-width="0.8"/>
<polyline points="145.5,642.7 145.75,621.7 146,601.3 146.25,596.1 146.5,581.4 146.75,584.3 147,573.2 147.25,577.8 147.5,565.9 147.75,573.7 148,566.8 148.25,572.9 148.5,563.7 148.75,573.5 149,563.9 149.25,573.7 149.5,564.3 149.75,572.6 150,565.5 150.25,574.8 150.5,564.5 150.75,577.6 151,550.4 151.25,571.5 151.5,566.1 151.75,573.9 152,564.0 152.25,572.1 152.5,563.1 152.75,572.3 153,564.2 153.25,573.1 153.5,563.8 153.75,575.7 154,566.1 154.25,575.8 154.5,563.8 154.75,572.3 155,565.3 155.25,573.7 155.5,565.2 155.75,575.1 156,553.3 156.25,573.7 156.5,564.5 156.75,573.0 157,564.3 157.25,573.4 157.5,563.6 157.75,571.9 158,565.0 158.25,573.8 158.5,563.7 158.75,574.5 159,559.7 159.25,576.3 159.5,563.4 159.75,576.7 160,563.6 160.25,573.8 160.5,563.3 160.75,571.8 161,564.7 161.25,572.2 161.5,555.0 161.75,571.8 162,566.6 162.25,572.9 162.5,565.9 162.75,572.7 163,563.7 163.25,574.3 163.5,563.7 163.75,571.7 164,566.3 164.25,572.1 164.5,563.7 164.75,571.9 165,565.6 165.25,577.0 165.5,564.0 165.75,573.2 166,567.2 166.25,576.1 166.5,553.4 166.75,573.0 167,564.6 167.25,580.1 167.5,566.9 167.75,571.8 168,566.2 168.25,571.7 168.5,563.8 168.75,572.3 169,563.3 169.25,574.8 169.5,560.4 169.75,579.7 170,564.4 170.25,574.0 170.5,564.0 170.75,573.2 171,566.0 171.25,576.2 171.5,564.7 171.75,574.5 172,557.5 172.25,579.6 172.5,564.8 172.75,576.6 173,564.7 173.25,576.5 173.5,564.5 173.75,572.9 174,564.5 174.25,574.9 174.5,560.6 174.75,573.7 175,564.1 175.25,572.8 175.5,565.4 175.75,572.4 176,563.8 176.25,573.9 176.5,563.9 176.75,573.2 177,564.3 177.25,572.1 177.5,547.8 177.75,576.2 178,566.2 178.25,574.3 178.5,563.0 178.75,572.4 179,566.5 179.25,572.0 179.5,564.4 179.75,573.8 180,551.7 180.25,573.9 180.5,564.1 180.75,572.2 181,564.8 181.25,577.0 181.5,564.9 181.75,579.4 182,565.7 182.25,574.7 182.5,556.1 182.75,572.4 183,565.7 183.25,571.6 183.5,567.8 183.75,572.0 184,568.0 184.25,584.4 184.5,565.8 184.75,577.7 185,559.0 185.25,576.2 185.5,566.2 185.75,575.1 186,565.1 186.25,573.5 186.5,565.1 186.75,571.9 187,564.6 187.25,574.7 187.5,565.3 187.75,573.4 188,547.5 188.25,571.1 188.5,564.5 188.75,572.3 189,565.4 189.25,572.1 189.5,564.4 189.75,570.9 190,563.7 190.25,574.2 190.5,564.3 190.75,570.8 191,565.9 191.25,572.2 191.5,564.5 191.75,573.0 192,561.3 192.25,571.2 192.5,565.5 192.75,572.4 193,558.0 193.25,578.8 193.5,562.7 193.75,572.7 194,564.5 194.25,572.7 194.5,564.1 194.75,574.6 195,563.1 195.25,579.4 195.5,565.0 195.75,573.7 196,562.9 196.25,572.2 196.5,565.3 196.75,573.4 197,563.1 197.25,573.7 197.5,566.4 197.75,572.8 198,566.9 198.25,574.5 198.5,558.6 198.75,573.7 199,560.5 199.25,573.7 199.5,566.5 199.75,573.4 200,564.7 200.25,573.0 200.5,565.3 200.75,576.9 201,562.8 201.25,572.2 201.5,564.1 201.75,572.5 202,564.5 202.25,571.9 202.5,565.2 202.75,573.8 203,565.4 203.25,572.7 203.5,559.2 203.75,575.5 204,564.3 204.25,575.5 204.5,565.9 204.75,575.9 205,566.9 205.25,577.0 205.5,566.9 205.75,572.3 206,564.9 206.25,573.3 206.5,566.9 206.75,576.1 207,564.3 207.25,573.4 207.5,564.5 207.75,572.2 208,564.0 208.25,574.1 208.5,562.7 208.75,574.7 209,560.7 209.25,578.3 209.5,565.9 209.75,579.3 210,564.7 210.25,572.3 210.5,565.2 210.75,572.7 211,565.7 211.25,573.6 211.5,565.6 211.75,574.4 212,565.3 212.25,574.1 212.5,564.3 212.75,572.7 213,565.9 213.25,572.9 213.5,563.6 213.75,573.0 214,566.8 214.25,575.5 214.5,560.9 214.75,572.3 215,562.8 215.25,571.8 215.5,564.5 215.75,576.5 216,563.7 216.25,571.9 216.5,565.4 216.75,572.2 217,565.7 217.25,572.0 217.5,565.8 217.75,573.0 218,563.9 218.25,574.3 218.5,565.6 218.75,573.8 219,565.5 219.25,577.1 219.5,566.4 219.75,577.4 220,566.8 220.25,574.3 220.5,565.2 220.75,580.4 221,565.0 221.25,575.7 221.5,566.3 221.75,574.5 222,561.5 222.25,575.4 222.5,566.8 222.75,575.6 223,564.2 223.25,575.9 223.5,565.7 223.75,573.9 224,565.9 224.25,576.2 224.5,563.4 224.75,574.0 225,561.1 225.25,576.4 225.5,563.8 225.75,574.6 226,564.2 226.25,575.7 226.5,563.9 226.75,571.8 227,564.2 227.25,572.9 227.5,564.1 227.75,571.7 228,565.0 228.25,576.6 228.5,562.7 228.75,572.2 229,565.0 229.25,574.1 229.5,563.5 229.75,573.4 230,559.5 230.25,573.4 230.5,565.8 230.75,572.3 231,566.1 231.25,572.2 231.5,566.3 231.75,573.2 232,566.4 232.25,577.9 232.5,565.6 232.75,575.2 233,565.3 233.25,572.9 233.5,565.7 233.75,575.4 234,565.3 234.25,574.4 234.5,563.4 234.75,579.7 235,565.7 235.25,573.0 235.5,566.0 235.75,573.8 236,566.0 236.25,575.8 236.5,564.2 236.75,580.1 237,564.9 237.25,576.5 237.5,565.9 237.75,578.1 238,564.8 238.25,580.4 238.5,565.9 238.75,575.5 239,565.0 239.25,580.4 239.5,564.9 239.75,577.3 240,566.0 240.25,574.8 240.5,561.7 240.75,577.7 241,565.9 241.25,578.4 241.5,565.0 241.75,573.7 242,565.6 242.25,580.4 242.5,566.0 242.75,575.2 243,565.1 243.25,578.2 243.5,565.7 243.75,573.1 244,564.6 244.25,572.5 244.5,564.7 244.75,573.9 245,563.5 245.25,576.7 245.5,563.6 245.75,573.6 246,564.5 246.25,576.7 246.5,563.5 246.75,573.9 247,564.4 247.25,573.8 247.5,564.0 247.75,571.8 248,567.0 248.25,573.1 248.5,564.6 248.75,574.4 249,565.2 249.25,571.5 249.5,564.3 249.75,572.1 250,563.9 250.25,576.2 250.5,565.2 250.75,575.3 251,561.3 251.25,576.3 251.5,563.9 251.75,575.0 252,563.6 252.25,573.2 252.5,561.8 252.75,574.4 253,566.3 253.25,574.4 253.5,565.2 253.75,575.6 254,565.7 254.25,575.0 254.5,564.6 254.75,578.5 255,563.7 255.25,576.7 255.5,563.5 255.75,575.7 256,564.9 256.25,581.4 256.5,561.5 256.75,579.3 257,565.5 257.25,575.3 257.5,566.2 257.75,575.5 258,564.3 258.25,577.1 258.5,566.7 258.75,576.4 259,566.3 259.25,576.2 259.5,566.3 259.75,576.9 260,562.7 260.25,576.1 260.5,564.6 260.75,577.6 261,566.6 261.25,575.7 261.5,567.1 261.75,575.8 262,566.4 262.25,574.7 262.5,565.0 262.75,578.2 263,566.4 263.25,576.5 263.5,565.3 263.75,574.9 264,564.3 264.25,576.4 264.5,564.2 264.75,576.7 265,565.0 265.25,576.8 265.5,565.4 265.75,575.2 266,565.3 266.25,577.7 266.5,562.2 266.75,573.6 267,564.1 267.25,574.2 267.5,566.7 267.75,574.3 268,566.1 268.25,581.9 268.5,566.0 268.75,574.9 269,565.1 269.25,577.3 269.5,563.9 269.75,574.2 270,564.6 270.25,574.3 270.5,565.6 270.75,576.4 271,566.4 271.25,574.1 271.5,564.6 271.75,574.9 272,566.5 272.25,573.5 272.5,559.7 272.75,576.0 273,565.7 273.25,577.6 273.5,566.9 273.75,573.9 274,567.0 274.25,576.1 274.5,567.4 274.75,574.1 275,566.8 275.25,577.3 275.5,566.8 275.75,574.1 276,565.8 276.25,578.8 276.5,566.6 276.75,574.3 277,565.5 277.25,580.1 277.5,566.0 277.75,573.7 278,567.1 278.25,575.4 278.5,567.1 278.75,581.5 279,567.0 279.25,581.4 279.5,566.0 279.75,574.2 280,566.1 280.25,576.9 280.5,564.8 280.75,575.5 281,566.2 281.25,574.7 281.5,562.5 281.75,576.8 282,563.9 282.25,578.6 282.5,566.2 282.75,573.5 283,561.8 283.25,574.4 283.5,565.2 283.75,574.0 284,565.8 284.25,575.5 284.5,566.7 284.75,576.2 285,565.6 285.25,580.8 285.5,565.9 285.75,576.6 286,567.3 286.25,573.2 286.5,564.8 286.75,573.3 287,564.5 287.25,577.4 287.5,568.8 287.75,573.9 288,569.6 288.25,577.6 288.5,567.1 288.75,575.2 289,567.1 289.25,574.5 289.5,566.6 289.75,575.8 290,566.7 290.25,574.7 290.5,565.9 290.75,575.5 291,565.2 291.25,574.7 291.5,566.4 291.75,574.5 292,562.2 292.25,575.7 292.5,565.3 292.75,576.0 293,567.1 293.25,576.5 293.5,565.5 293.75,577.0 294,564.9 294.25,574.8 294.5,565.4 294.75,574.4 295,565.3 295.25,575.8 295.5,564.7 295.75,575.7 296,565.9 296.25,576.6 296.5,567.1 296.75,574.8 297,566.6 297.25,575.5 297.5,567.5 297.75,575.7 298,567.6 298.25,584.8 298.5,566.4 298.75,574.8 299,562.6 299.25,576.7 299.5,566.1 299.75,573.8 300,567.0 300.25,574.2 300.5,566.0 300.75,577.1 301,566.5 301.25,575.6 301.5,566.8 301.75,578.6 302,566.3 302.25,579.3 302.5,566.4 302.75,575.6 303,564.9 303.25,574.0 303.5,565.8 303.75,580.9 304,564.6 304.25,579.6 304.5,566.4 304.75,577.0 305,566.2 305.25,575.3 305.5,566.6 305.75,576.8 306,565.8 306.25,576.2 306.5,565.8 306.75,576.5 307,566.7 307.25,576.8 307.5,565.8 307.75,576.8 308,567.1 308.25,575.4 308.5,566.9 308.75,581.4 309,564.4 309.25,576.6 309.5,567.2 309.75,577.2 310,565.3 310.25,575.3 310.5,566.6 310.75,575.9 311,566.6 311.25,582.7 311.5,569.1 311.75,577.5 312,566.9 312.25,584.1 312.5,568.5 312.75,579.1 313,567.5 313.25,579.3 313.5,562.6 313.75,576.3 314,568.4 314.25,577.6 314.5,569.2" stroke="#00f" stroke-width="0.52"/>
</g>
<text x="142.3" y="528.25" font-size="10.6" text-anchor="end" fill="#262626">100</text>
<text x="142.3" y="571.25" font-size="10.6" text-anchor="end" fill="#262626">0</text>
<text x="142.3" y="614.25" font-size="10.6" text-anchor="end" fill="#262626">-100</text>
<text x="142.3" y="657.25" font-size="10.6" text-anchor="end" fill="#262626">-200</text>
<text x="145.5" y="667" font-size="10.6" text-anchor="middle" fill="#262626">0</text>
<text x="198.31" y="667" font-size="10.6" text-anchor="middle" fill="#262626">1000</text>
<text x="251.12" y="667" font-size="10.6" text-anchor="middle" fill="#262626">2000</text>
<text x="303.94" y="667" font-size="10.6" text-anchor="middle" fill="#262626">3000</text>
<text x="229.3" y="681.5" font-size="11.3" text-anchor="middle" fill="#262626"><tspan font-style="italic">f</tspan>(Hz)</text>
<text x="118" y="588.5" font-size="11.3" text-anchor="middle" fill="#262626" transform="rotate(-90 118 588.5)">SPL(dBA)</text>
<rect x="260.5" y="599.5" width="47.5" height="45.5" fill="#fff" stroke="#808080" stroke-width="0.5"/>
<path d="M262 605.55H278" stroke="#000" stroke-width="2"/>
<path d="M262 616.75H278" stroke="#f00" stroke-width="1" stroke-dasharray="3.2 3.3"/>
<path d="M262 627.95H278" stroke="#0f0" stroke-width="1" stroke-dasharray="3 1 1 1"/>
<path d="M262 639.15H278" stroke="#00f" stroke-width="0.5"/>
<text x="280" y="609.05" font-size="7.65" text-anchor="start" fill="#000">Total</text>
<text x="280" y="620.25" font-size="7.65" text-anchor="start" fill="#000">Transf.1</text>
<text x="280" y="631.45" font-size="7.65" text-anchor="start" fill="#000">Transf.2</text>
<text x="280" y="642.65" font-size="7.65" text-anchor="start" fill="#000">Transf.3</text>
</g>
<g>
<rect x="336.0" y="18.5" width="207.5" height="164.5" fill="#f3f3f3"/>
<rect x="368.5" y="22.5" width="173" height="129.5" fill="#fff"/>
<rect x="372.1" y="86.86" width="4.81" height="65.14" fill="#0072BD" stroke="#000" stroke-opacity="0.55" stroke-width="0.3"/>
<rect x="376.91" y="96.06" width="4.81" height="55.94" fill="#D95319" stroke="#000" stroke-opacity="0.55" stroke-width="0.3"/>
<rect x="381.72" y="143.58" width="4.81" height="8.42" fill="#EDB120" stroke="#000" stroke-opacity="0.55" stroke-width="0.3"/>
<rect x="393.73" y="99.29" width="4.81" height="52.71" fill="#0072BD" stroke="#000" stroke-opacity="0.55" stroke-width="0.3"/>
<rect x="398.53" y="105.25" width="4.81" height="46.75" fill="#D95319" stroke="#000" stroke-opacity="0.55" stroke-width="0.3"/>
<rect x="403.34" y="121.96" width="4.81" height="30.04" fill="#EDB120" stroke="#000" stroke-opacity="0.55" stroke-width="0.3"/>
<rect x="415.35" y="64.2" width="4.81" height="87.8" fill="#0072BD" stroke="#000" stroke-opacity="0.55" stroke-width="0.3"/>
<rect x="420.16" y="127.27" width="4.81" height="24.73" fill="#D95319" stroke="#000" stroke-opacity="0.55" stroke-width="0.3"/>
<rect x="424.97" y="135.04" width="4.81" height="16.96" fill="#EDB120" stroke="#000" stroke-opacity="0.55" stroke-width="0.3"/>
<rect x="436.98" y="47.88" width="4.81" height="104.12" fill="#0072BD" stroke="#000" stroke-opacity="0.55" stroke-width="0.3"/>
<rect x="441.78" y="141.25" width="4.81" height="10.75" fill="#D95319" stroke="#000" stroke-opacity="0.55" stroke-width="0.3"/>
<rect x="446.59" y="137.37" width="4.81" height="14.63" fill="#EDB120" stroke="#000" stroke-opacity="0.55" stroke-width="0.3"/>
<rect x="458.6" y="62" width="4.81" height="90" fill="#0072BD" stroke="#000" stroke-opacity="0.55" stroke-width="0.3"/>
<rect x="463.41" y="122.22" width="4.81" height="29.78" fill="#D95319" stroke="#000" stroke-opacity="0.55" stroke-width="0.3"/>
<rect x="468.22" y="142.29" width="4.81" height="9.71" fill="#EDB120" stroke="#000" stroke-opacity="0.55" stroke-width="0.3"/>
<rect x="480.23" y="94.76" width="4.81" height="57.24" fill="#0072BD" stroke="#000" stroke-opacity="0.55" stroke-width="0.3"/>
<rect x="485.03" y="98.65" width="4.81" height="53.35" fill="#D95319" stroke="#000" stroke-opacity="0.55" stroke-width="0.3"/>
<rect x="489.84" y="133.09" width="4.81" height="18.91" fill="#EDB120" stroke="#000" stroke-opacity="0.55" stroke-width="0.3"/>
<rect x="501.85" y="73" width="4.81" height="79" fill="#0072BD" stroke="#000" stroke-opacity="0.55" stroke-width="0.3"/>
<rect x="506.66" y="139.31" width="4.81" height="12.69" fill="#D95319" stroke="#000" stroke-opacity="0.55" stroke-width="0.3"/>
<rect x="511.47" y="114.19" width="4.81" height="37.81" fill="#EDB120" stroke="#000" stroke-opacity="0.55" stroke-width="0.3"/>
<rect x="523.48" y="109.27" width="4.81" height="42.73" fill="#0072BD" stroke="#000" stroke-opacity="0.55" stroke-width="0.3"/>
<rect x="528.28" y="103.05" width="4.81" height="48.95" fill="#D95319" stroke="#000" stroke-opacity="0.55" stroke-width="0.3"/>
<rect x="533.09" y="114.19" width="4.81" height="37.81" fill="#EDB120" stroke="#000" stroke-opacity="0.55" stroke-width="0.3"/>
<rect x="368.5" y="22.5" width="173" height="129.5" fill="none" stroke="#808080" stroke-width="0.5"/>
<path d="M379.31 152.0v-1.7M379.31 22.5v1.7M400.94 152.0v-1.7M400.94 22.5v1.7M422.56 152.0v-1.7M422.56 22.5v1.7M444.19 152.0v-1.7M444.19 22.5v1.7M465.81 152.0v-1.7M465.81 22.5v1.7M487.44 152.0v-1.7M487.44 22.5v1.7M509.06 152.0v-1.7M509.06 22.5v1.7M530.69 152.0v-1.7M530.69 22.5v1.7M368.5 152h1.7M541.5 152h-1.7M368.5 126.1h1.7M541.5 126.1h-1.7M368.5 100.2h1.7M541.5 100.2h-1.7M368.5 74.3h1.7M541.5 74.3h-1.7M368.5 48.4h1.7M541.5 48.4h-1.7M368.5 22.5h1.7M541.5 22.5h-1.7" stroke="#808080" stroke-width="0.5" fill="none"/>
<text x="365" y="156.25" font-size="10.6" text-anchor="end" fill="#262626">0</text>
<text x="365" y="130.35" font-size="10.6" text-anchor="end" fill="#262626">20</text>
<text x="365" y="104.45" font-size="10.6" text-anchor="end" fill="#262626">40</text>
<text x="365" y="78.55" font-size="10.6" text-anchor="end" fill="#262626">60</text>
<text x="365" y="52.65" font-size="10.6" text-anchor="end" fill="#262626">80</text>
<text x="365" y="26.75" font-size="10.6" text-anchor="end" fill="#262626">100</text>
<text x="379.31" y="165.7" font-size="10.6" text-anchor="middle" fill="#262626">100</text>
<text x="400.94" y="165.7" font-size="10.6" text-anchor="middle" fill="#262626">200</text>
<text x="422.56" y="165.7" font-size="10.6" text-anchor="middle" fill="#262626">300</text>
<text x="444.19" y="165.7" font-size="10.6" text-anchor="middle" fill="#262626">400</text>
<text x="465.81" y="165.7" font-size="10.6" text-anchor="middle" fill="#262626">500</text>
<text x="487.44" y="165.7" font-size="10.6" text-anchor="middle" fill="#262626">600</text>
<text x="509.06" y="165.7" font-size="10.6" text-anchor="middle" fill="#262626">700</text>
<text x="530.69" y="165.7" font-size="10.6" text-anchor="middle" fill="#262626">800</text>
<text x="454.2" y="180.8" font-size="11.3" text-anchor="middle" fill="#262626"><tspan font-style="italic">f</tspan>(Hz)</text>
<text x="346" y="87.25" font-size="11.3" text-anchor="middle" fill="#262626" transform="rotate(-90 346 87.25)">Contribution(%)</text>
<rect x="489.5" y="27.5" width="47" height="35" fill="#fff" stroke="#808080" stroke-width="0.5"/>
<rect x="491.5" y="29.65" width="16.5" height="8.3" fill="#0072BD" stroke="#000" stroke-opacity="0.6" stroke-width="0.4"/>
<text x="509.5" y="37.1" font-size="7.57" text-anchor="start" fill="#000">Transf.1</text>
<rect x="491.5" y="40.95" width="16.5" height="8.3" fill="#D95319" stroke="#000" stroke-opacity="0.6" stroke-width="0.4"/>
<text x="509.5" y="48.4" font-size="7.57" text-anchor="start" fill="#000">Transf.2</text>
<rect x="491.5" y="52.25" width="16.5" height="8.3" fill="#EDB120" stroke="#000" stroke-opacity="0.6" stroke-width="0.4"/>
<text x="509.5" y="59.7" font-size="7.57" text-anchor="start" fill="#000">Transf.3</text>
</g>
<g>
<rect x="333.5" y="184.0" width="212.5" height="167.5" fill="#f3f3f3"/>
<rect x="360.5" y="188.5" width="183.5" height="132.5" fill="#fff"/>
<rect x="364.32" y="251.44" width="5.1" height="69.56" fill="#0072BD" stroke="#000" stroke-opacity="0.55" stroke-width="0.3"/>
<rect x="369.42" y="236.7" width="5.1" height="84.3" fill="#D95319" stroke="#000" stroke-opacity="0.55" stroke-width="0.3"/>
<rect x="374.52" y="309.24" width="5.1" height="11.76" fill="#EDB120" stroke="#000" stroke-opacity="0.55" stroke-width="0.3"/>
<rect x="387.26" y="265.68" width="5.1" height="55.32" fill="#0072BD" stroke="#000" stroke-opacity="0.55" stroke-width="0.3"/>
<rect x="392.36" y="251.77" width="5.1" height="69.23" fill="#D95319" stroke="#000" stroke-opacity="0.55" stroke-width="0.3"/>
<rect x="397.45" y="279.93" width="5.1" height="41.07" fill="#EDB120" stroke="#000" stroke-opacity="0.55" stroke-width="0.3"/>
<rect x="410.2" y="220.47" width="5.1" height="100.53" fill="#0072BD" stroke="#000" stroke-opacity="0.55" stroke-width="0.3"/>
<rect x="415.3" y="281.25" width="5.1" height="39.75" fill="#D95319" stroke="#000" stroke-opacity="0.55" stroke-width="0.3"/>
<rect x="420.39" y="295.66" width="5.1" height="25.34" fill="#EDB120" stroke="#000" stroke-opacity="0.55" stroke-width="0.3"/>
<rect x="433.14" y="196.28" width="5.1" height="124.72" fill="#0072BD" stroke="#000" stroke-opacity="0.55" stroke-width="0.3"/>
<rect x="438.23" y="302.62" width="5.1" height="18.38" fill="#D95319" stroke="#000" stroke-opacity="0.55" stroke-width="0.3"/>
<rect x="443.33" y="298.48" width="5.1" height="22.52" fill="#EDB120" stroke="#000" stroke-opacity="0.55" stroke-width="0.3"/>
<rect x="456.07" y="217.82" width="5.1" height="103.18" fill="#0072BD" stroke="#000" stroke-opacity="0.55" stroke-width="0.3"/>
<rect x="461.17" y="273.13" width="5.1" height="47.87" fill="#D95319" stroke="#000" stroke-opacity="0.55" stroke-width="0.3"/>
<rect x="466.27" y="306.43" width="5.1" height="14.57" fill="#EDB120" stroke="#000" stroke-opacity="0.55" stroke-width="0.3"/>
<rect x="479.01" y="260.71" width="5.1" height="60.29" fill="#0072BD" stroke="#000" stroke-opacity="0.55" stroke-width="0.3"/>
<rect x="484.11" y="241.67" width="5.1" height="79.33" fill="#D95319" stroke="#000" stroke-opacity="0.55" stroke-width="0.3"/>
<rect x="489.2" y="295" width="5.1" height="26" fill="#EDB120" stroke="#000" stroke-opacity="0.55" stroke-width="0.3"/>
<rect x="501.95" y="231.23" width="5.1" height="89.77" fill="#0072BD" stroke="#000" stroke-opacity="0.55" stroke-width="0.3"/>
<rect x="507.05" y="301.12" width="5.1" height="19.88" fill="#D95319" stroke="#000" stroke-opacity="0.55" stroke-width="0.3"/>
<rect x="512.14" y="265.02" width="5.1" height="55.98" fill="#EDB120" stroke="#000" stroke-opacity="0.55" stroke-width="0.3"/>
<rect x="524.89" y="277.11" width="5.1" height="43.89" fill="#0072BD" stroke="#000" stroke-opacity="0.55" stroke-width="0.3"/>
<rect x="529.98" y="249.78" width="5.1" height="71.22" fill="#D95319" stroke="#000" stroke-opacity="0.55" stroke-width="0.3"/>
<rect x="535.08" y="270.48" width="5.1" height="50.52" fill="#EDB120" stroke="#000" stroke-opacity="0.55" stroke-width="0.3"/>
<rect x="360.5" y="188.5" width="183.5" height="132.5" fill="none" stroke="#808080" stroke-width="0.5"/>
<path d="M371.97 321.0v-1.7M371.97 188.5v1.7M394.91 321.0v-1.7M394.91 188.5v1.7M417.84 321.0v-1.7M417.84 188.5v1.7M440.78 321.0v-1.7M440.78 188.5v1.7M463.72 321.0v-1.7M463.72 188.5v1.7M486.66 321.0v-1.7M486.66 188.5v1.7M509.59 321.0v-1.7M509.59 188.5v1.7M532.53 321.0v-1.7M532.53 188.5v1.7M360.5 321h1.7M544.0 321h-1.7M360.5 287.88h1.7M544.0 287.88h-1.7M360.5 254.75h1.7M544.0 254.75h-1.7M360.5 221.62h1.7M544.0 221.62h-1.7M360.5 188.5h1.7M544.0 188.5h-1.7" stroke="#808080" stroke-width="0.5" fill="none"/>
<text x="357.9" y="325.43" font-size="11.13" text-anchor="end" fill="#262626">0</text>
<text x="357.9" y="292.3" font-size="11.13" text-anchor="end" fill="#262626">20</text>
<text x="357.9" y="259.18" font-size="11.13" text-anchor="end" fill="#262626">40</text>
<text x="357.9" y="226.05" font-size="11.13" text-anchor="end" fill="#262626">60</text>
<text x="357.9" y="192.93" font-size="11.13" text-anchor="end" fill="#262626">80</text>
<text x="371.97" y="335.38" font-size="11.13" text-anchor="middle" fill="#262626">100</text>
<text x="394.91" y="335.38" font-size="11.13" text-anchor="middle" fill="#262626">200</text>
<text x="417.84" y="335.38" font-size="11.13" text-anchor="middle" fill="#262626">300</text>
<text x="440.78" y="335.38" font-size="11.13" text-anchor="middle" fill="#262626">400</text>
<text x="463.72" y="335.38" font-size="11.13" text-anchor="middle" fill="#262626">500</text>
<text x="486.66" y="335.38" font-size="11.13" text-anchor="middle" fill="#262626">600</text>
<text x="509.59" y="335.38" font-size="11.13" text-anchor="middle" fill="#262626">700</text>
<text x="532.53" y="335.38" font-size="11.13" text-anchor="middle" fill="#262626">800</text>
<text x="451.45" y="351.24" font-size="11.87" text-anchor="middle" fill="#262626"><tspan font-style="italic">f</tspan>(Hz)</text>
<text x="342.2" y="254.75" font-size="11.87" text-anchor="middle" fill="#262626" transform="rotate(-90 342.2 254.75)">Contribution(%)</text>
<rect x="491.5" y="192.5" width="48" height="36" fill="#fff" stroke="#808080" stroke-width="0.5"/>
<rect x="493.56" y="194.69" width="17" height="8.55" fill="#0072BD" stroke="#000" stroke-opacity="0.6" stroke-width="0.4"/>
<text x="512.1" y="202.26" font-size="7.8" text-anchor="start" fill="#000">Transf.1</text>
<rect x="493.56" y="206.33" width="17" height="8.55" fill="#D95319" stroke="#000" stroke-opacity="0.6" stroke-width="0.4"/>
<text x="512.1" y="213.9" font-size="7.8" text-anchor="start" fill="#000">Transf.2</text>
<rect x="493.56" y="217.96" width="17" height="8.55" fill="#EDB120" stroke="#000" stroke-opacity="0.6" stroke-width="0.4"/>
<text x="512.1" y="225.54" font-size="7.8" text-anchor="start" fill="#000">Transf.3</text>
</g>
<g>
<rect x="336.0" y="354.0" width="207.5" height="163" fill="#f3f3f3"/>
<rect x="363.0" y="358.5" width="178" height="129.5" fill="#fff"/>
<rect x="366.71" y="436.36" width="4.94" height="51.64" fill="#0072BD" stroke="#000" stroke-opacity="0.55" stroke-width="0.3"/>
<rect x="371.65" y="390.55" width="4.94" height="97.45" fill="#D95319" stroke="#000" stroke-opacity="0.55" stroke-width="0.3"/>
<rect x="376.6" y="475.05" width="4.94" height="12.95" fill="#EDB120" stroke="#000" stroke-opacity="0.55" stroke-width="0.3"/>
<rect x="388.96" y="448.02" width="4.94" height="39.98" fill="#0072BD" stroke="#000" stroke-opacity="0.55" stroke-width="0.3"/>
<rect x="393.9" y="409.98" width="4.94" height="78.02" fill="#D95319" stroke="#000" stroke-opacity="0.55" stroke-width="0.3"/>
<rect x="398.85" y="444.13" width="4.94" height="43.87" fill="#EDB120" stroke="#000" stroke-opacity="0.55" stroke-width="0.3"/>
<rect x="411.21" y="406.74" width="4.94" height="81.26" fill="#0072BD" stroke="#000" stroke-opacity="0.55" stroke-width="0.3"/>
<rect x="416.15" y="437.98" width="4.94" height="50.02" fill="#D95319" stroke="#000" stroke-opacity="0.55" stroke-width="0.3"/>
<rect x="421.1" y="457.41" width="4.94" height="30.59" fill="#EDB120" stroke="#000" stroke-opacity="0.55" stroke-width="0.3"/>
<rect x="433.46" y="380.03" width="4.94" height="107.97" fill="#0072BD" stroke="#000" stroke-opacity="0.55" stroke-width="0.3"/>
<rect x="438.4" y="463.07" width="4.94" height="24.93" fill="#D95319" stroke="#000" stroke-opacity="0.55" stroke-width="0.3"/>
<rect x="443.35" y="459.02" width="4.94" height="28.98" fill="#EDB120" stroke="#000" stroke-opacity="0.55" stroke-width="0.3"/>
<rect x="455.71" y="404.15" width="4.94" height="83.85" fill="#0072BD" stroke="#000" stroke-opacity="0.55" stroke-width="0.3"/>
<rect x="460.65" y="427.62" width="4.94" height="60.38" fill="#D95319" stroke="#000" stroke-opacity="0.55" stroke-width="0.3"/>
<rect x="465.6" y="470.19" width="4.94" height="17.81" fill="#EDB120" stroke="#000" stroke-opacity="0.55" stroke-width="0.3"/>
<rect x="477.96" y="444.13" width="4.94" height="43.87" fill="#0072BD" stroke="#000" stroke-opacity="0.55" stroke-width="0.3"/>
<rect x="482.9" y="398.16" width="4.94" height="89.84" fill="#D95319" stroke="#000" stroke-opacity="0.55" stroke-width="0.3"/>
<rect x="487.85" y="460.16" width="4.94" height="27.84" fill="#EDB120" stroke="#000" stroke-opacity="0.55" stroke-width="0.3"/>
<rect x="500.21" y="416.94" width="4.94" height="71.06" fill="#0072BD" stroke="#000" stroke-opacity="0.55" stroke-width="0.3"/>
<rect x="505.15" y="463.07" width="4.94" height="24.93" fill="#D95319" stroke="#000" stroke-opacity="0.55" stroke-width="0.3"/>
<rect x="510.1" y="422.28" width="4.94" height="65.72" fill="#EDB120" stroke="#000" stroke-opacity="0.55" stroke-width="0.3"/>
<rect x="522.46" y="457.08" width="4.94" height="30.92" fill="#0072BD" stroke="#000" stroke-opacity="0.55" stroke-width="0.3"/>
<rect x="527.4" y="409.81" width="4.94" height="78.19" fill="#D95319" stroke="#000" stroke-opacity="0.55" stroke-width="0.3"/>
<rect x="532.35" y="435.39" width="4.94" height="52.61" fill="#EDB120" stroke="#000" stroke-opacity="0.55" stroke-width="0.3"/>
<rect x="363.0" y="358.5" width="178" height="129.5" fill="none" stroke="#808080" stroke-width="0.5"/>
<path d="M374.12 488.0v-1.7M374.12 358.5v1.7M396.38 488.0v-1.7M396.38 358.5v1.7M418.62 488.0v-1.7M418.62 358.5v1.7M440.88 488.0v-1.7M440.88 358.5v1.7M463.12 488.0v-1.7M463.12 358.5v1.7M485.38 488.0v-1.7M485.38 358.5v1.7M507.62 488.0v-1.7M507.62 358.5v1.7M529.88 488.0v-1.7M529.88 358.5v1.7M363.0 488h1.7M541.0 488h-1.7M363.0 455.62h1.7M541.0 455.62h-1.7M363.0 423.25h1.7M541.0 423.25h-1.7M363.0 390.88h1.7M541.0 390.88h-1.7M363.0 358.5h1.7M541.0 358.5h-1.7" stroke="#808080" stroke-width="0.5" fill="none"/>
<text x="359.5" y="492.25" font-size="10.6" text-anchor="end" fill="#262626">0</text>
<text x="359.5" y="459.88" font-size="10.6" text-anchor="end" fill="#262626">20</text>
<text x="359.5" y="427.5" font-size="10.6" text-anchor="end" fill="#262626">40</text>
<text x="359.5" y="395.13" font-size="10.6" text-anchor="end" fill="#262626">60</text>
<text x="359.5" y="362.75" font-size="10.6" text-anchor="end" fill="#262626">80</text>
<text x="374.12" y="501.7" font-size="10.6" text-anchor="middle" fill="#262626">100</text>
<text x="396.38" y="501.7" font-size="10.6" text-anchor="middle" fill="#262626">200</text>
<text x="418.62" y="501.7" font-size="10.6" text-anchor="middle" fill="#262626">300</text>
<text x="440.88" y="501.7" font-size="10.6" text-anchor="middle" fill="#262626">400</text>
<text x="463.12" y="501.7" font-size="10.6" text-anchor="middle" fill="#262626">500</text>
<text x="485.38" y="501.7" font-size="10.6" text-anchor="middle" fill="#262626">600</text>
<text x="507.62" y="501.7" font-size="10.6" text-anchor="middle" fill="#262626">700</text>
<text x="529.88" y="501.7" font-size="10.6" text-anchor="middle" fill="#262626">800</text>
<text x="451.2" y="516.8" font-size="11.3" text-anchor="middle" fill="#262626"><tspan font-style="italic">f</tspan>(Hz)</text>
<text x="344.7" y="423.25" font-size="11.3" text-anchor="middle" fill="#262626" transform="rotate(-90 344.7 423.25)">Contribution(%)</text>
<rect x="489.5" y="363.5" width="47" height="34.5" fill="#fff" stroke="#808080" stroke-width="0.5"/>
<rect x="491.5" y="365.4" width="16.5" height="8.3" fill="#0072BD" stroke="#000" stroke-opacity="0.6" stroke-width="0.4"/>
<text x="509.5" y="372.85" font-size="7.57" text-anchor="start" fill="#000">Transf.1</text>
<rect x="491.5" y="376.7" width="16.5" height="8.3" fill="#D95319" stroke="#000" stroke-opacity="0.6" stroke-width="0.4"/>
<text x="509.5" y="384.15" font-size="7.57" text-anchor="start" fill="#000">Transf.2</text>
<rect x="491.5" y="388" width="16.5" height="8.3" fill="#EDB120" stroke="#000" stroke-opacity="0.6" stroke-width="0.4"/>
<text x="509.5" y="395.45" font-size="7.57" text-anchor="start" fill="#000">Transf.3</text>
</g>
<g>
<rect x="335.0" y="520.0" width="208" height="163.5" fill="#f3f3f3"/>
<rect x="362.5" y="524.0" width="179" height="129.5" fill="#fff"/>
<rect x="366.23" y="617.73" width="4.97" height="35.77" fill="#0072BD" stroke="#000" stroke-opacity="0.55" stroke-width="0.3"/>
<rect x="371.2" y="544.23" width="4.97" height="109.27" fill="#D95319" stroke="#000" stroke-opacity="0.55" stroke-width="0.3"/>
<rect x="376.17" y="636.66" width="4.97" height="16.84" fill="#EDB120" stroke="#000" stroke-opacity="0.55" stroke-width="0.3"/>
<rect x="388.6" y="627.44" width="4.97" height="26.06" fill="#0072BD" stroke="#000" stroke-opacity="0.55" stroke-width="0.3"/>
<rect x="393.58" y="571.59" width="4.97" height="81.91" fill="#D95319" stroke="#000" stroke-opacity="0.55" stroke-width="0.3"/>
<rect x="398.55" y="599.43" width="4.97" height="54.07" fill="#EDB120" stroke="#000" stroke-opacity="0.55" stroke-width="0.3"/>
<rect x="410.98" y="593.44" width="4.97" height="60.06" fill="#0072BD" stroke="#000" stroke-opacity="0.55" stroke-width="0.3"/>
<rect x="415.95" y="593.93" width="4.97" height="59.57" fill="#D95319" stroke="#000" stroke-opacity="0.55" stroke-width="0.3"/>
<rect x="420.92" y="611.25" width="4.97" height="42.25" fill="#EDB120" stroke="#000" stroke-opacity="0.55" stroke-width="0.3"/>
<rect x="433.35" y="567.06" width="4.97" height="86.44" fill="#0072BD" stroke="#000" stroke-opacity="0.55" stroke-width="0.3"/>
<rect x="438.33" y="621.45" width="4.97" height="32.05" fill="#D95319" stroke="#000" stroke-opacity="0.55" stroke-width="0.3"/>
<rect x="443.3" y="609.96" width="4.97" height="43.54" fill="#EDB120" stroke="#000" stroke-opacity="0.55" stroke-width="0.3"/>
<rect x="455.73" y="590.53" width="4.97" height="62.97" fill="#0072BD" stroke="#000" stroke-opacity="0.55" stroke-width="0.3"/>
<rect x="460.7" y="579.85" width="4.97" height="73.65" fill="#D95319" stroke="#000" stroke-opacity="0.55" stroke-width="0.3"/>
<rect x="465.67" y="628.25" width="4.97" height="25.25" fill="#EDB120" stroke="#000" stroke-opacity="0.55" stroke-width="0.3"/>
<rect x="478.1" y="624.2" width="4.97" height="29.3" fill="#0072BD" stroke="#000" stroke-opacity="0.55" stroke-width="0.3"/>
<rect x="483.08" y="556.05" width="4.97" height="97.45" fill="#D95319" stroke="#000" stroke-opacity="0.55" stroke-width="0.3"/>
<rect x="488.05" y="618.21" width="4.97" height="35.29" fill="#EDB120" stroke="#000" stroke-opacity="0.55" stroke-width="0.3"/>
<rect x="500.48" y="604.45" width="4.97" height="49.05" fill="#0072BD" stroke="#000" stroke-opacity="0.55" stroke-width="0.3"/>
<rect x="505.45" y="625.98" width="4.97" height="27.52" fill="#D95319" stroke="#000" stroke-opacity="0.55" stroke-width="0.3"/>
<rect x="510.42" y="568.19" width="4.97" height="85.31" fill="#EDB120" stroke="#000" stroke-opacity="0.55" stroke-width="0.3"/>
<rect x="522.85" y="633.91" width="4.97" height="19.59" fill="#0072BD" stroke="#000" stroke-opacity="0.55" stroke-width="0.3"/>
<rect x="527.83" y="573.7" width="4.97" height="79.8" fill="#D95319" stroke="#000" stroke-opacity="0.55" stroke-width="0.3"/>
<rect x="532.8" y="590.69" width="4.97" height="62.81" fill="#EDB120" stroke="#000" stroke-opacity="0.55" stroke-width="0.3"/>
<rect x="362.5" y="524.0" width="179" height="129.5" fill="none" stroke="#808080" stroke-width="0.5"/>
<path d="M373.69 653.5v-1.7M373.69 524.0v1.7M396.06 653.5v-1.7M396.06 524.0v1.7M418.44 653.5v-1.7M418.44 524.0v1.7M440.81 653.5v-1.7M440.81 524.0v1.7M463.19 653.5v-1.7M463.19 524.0v1.7M485.56 653.5v-1.7M485.56 524.0v1.7M507.94 653.5v-1.7M507.94 524.0v1.7M530.31 653.5v-1.7M530.31 524.0v1.7M362.5 653.5h1.7M541.5 653.5h-1.7M362.5 621.12h1.7M541.5 621.12h-1.7M362.5 588.75h1.7M541.5 588.75h-1.7M362.5 556.38h1.7M541.5 556.38h-1.7M362.5 524h1.7M541.5 524h-1.7" stroke="#808080" stroke-width="0.5" fill="none"/>
<text x="359" y="657.75" font-size="10.6" text-anchor="end" fill="#262626">0</text>
<text x="359" y="625.38" font-size="10.6" text-anchor="end" fill="#262626">20</text>
<text x="359" y="593" font-size="10.6" text-anchor="end" fill="#262626">40</text>
<text x="359" y="560.63" font-size="10.6" text-anchor="end" fill="#262626">60</text>
<text x="359" y="528.25" font-size="10.6" text-anchor="end" fill="#262626">80</text>
<text x="373.69" y="667.2" font-size="10.6" text-anchor="middle" fill="#262626">100</text>
<text x="396.06" y="667.2" font-size="10.6" text-anchor="middle" fill="#262626">200</text>
<text x="418.44" y="667.2" font-size="10.6" text-anchor="middle" fill="#262626">300</text>
<text x="440.81" y="667.2" font-size="10.6" text-anchor="middle" fill="#262626">400</text>
<text x="463.19" y="667.2" font-size="10.6" text-anchor="middle" fill="#262626">500</text>
<text x="485.56" y="667.2" font-size="10.6" text-anchor="middle" fill="#262626">600</text>
<text x="507.94" y="667.2" font-size="10.6" text-anchor="middle" fill="#262626">700</text>
<text x="530.31" y="667.2" font-size="10.6" text-anchor="middle" fill="#262626">800</text>
<text x="451.2" y="682.3" font-size="11.3" text-anchor="middle" fill="#262626"><tspan font-style="italic">f</tspan>(Hz)</text>
<text x="344.2" y="588.75" font-size="11.3" text-anchor="middle" fill="#262626" transform="rotate(-90 344.2 588.75)">Contribution(%)</text>
<rect x="489.5" y="528.5" width="47" height="34" fill="#fff" stroke="#808080" stroke-width="0.5"/>
<rect x="491.5" y="530.15" width="16.5" height="8.3" fill="#0072BD" stroke="#000" stroke-opacity="0.6" stroke-width="0.4"/>
<text x="509.5" y="537.6" font-size="7.57" text-anchor="start" fill="#000">Transf.1</text>
<rect x="491.5" y="541.45" width="16.5" height="8.3" fill="#D95319" stroke="#000" stroke-opacity="0.6" stroke-width="0.4"/>
<text x="509.5" y="548.9" font-size="7.57" text-anchor="start" fill="#000">Transf.2</text>
<rect x="491.5" y="552.75" width="16.5" height="8.3" fill="#EDB120" stroke="#000" stroke-opacity="0.6" stroke-width="0.4"/>
<text x="509.5" y="560.2" font-size="7.57" text-anchor="start" fill="#000">Transf.3</text>
</g>
</svg></body></html>
